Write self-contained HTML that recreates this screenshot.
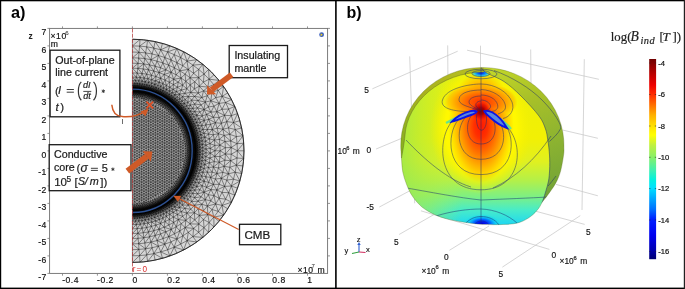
<!DOCTYPE html>
<html><head><meta charset="utf-8">
<style>
html,body{margin:0;padding:0;background:#fff;}
body{width:685px;height:289px;overflow:hidden;position:relative;}
svg{position:absolute;left:0;top:0;will-change:transform;}
text{font-family:"Liberation Sans",sans-serif;}
.ser{font-family:"Liberation Serif",serif;}
.ax{font-size:8.6px;fill:#111;stroke:#111;stroke-width:0.18px;letter-spacing:0.5px;}
.bx{font-size:10.7px;fill:#1a1a1a;stroke:#1a1a1a;stroke-width:0.22px;}
.m{font-family:"Liberation Serif",serif;font-style:italic;fill:#222;stroke:#222;stroke-width:0.2px;}
.mr{font-family:"Liberation Serif",serif;fill:#222;stroke:#222;stroke-width:0.2px;}
</style></head><body>
<svg width="685" height="289" viewBox="0 0 685 289">
<defs>
<radialGradient id="meshbg" gradientUnits="userSpaceOnUse" cx="132.4" cy="150.85" r="111.6">
 <stop offset="0" stop-color="#c4c4c4"/>
 <stop offset="0.47" stop-color="#b8b8b8"/>
 <stop offset="0.50" stop-color="#707070"/>
 <stop offset="0.525" stop-color="#202020"/>
 <stop offset="0.535" stop-color="#080808"/>
 <stop offset="0.565" stop-color="#080808"/>
 <stop offset="0.585" stop-color="#404040"/>
 <stop offset="0.62" stop-color="#a0a0a0"/>
 <stop offset="0.68" stop-color="#cccccc"/>
 <stop offset="1" stop-color="#d8d8d8"/>
</radialGradient>
</defs>
<!-- panel a -->
<text x="11" y="17.5" font-size="16.3" font-weight="bold">a)</text>
<!-- axes frame -->
<rect x="49.6" y="28.4" width="278" height="245" fill="none" stroke="#6e6e6e" stroke-width="0.9"/>
<!-- ticks left -->
<g stroke="#7a7a7a" stroke-width="0.8">
<path d="M47.4 28.4h2.2M47.4 45.9h2.2M47.4 63.4h2.2M47.4 80.9h2.2M47.4 98.4h2.2M47.4 115.9h2.2M47.4 133.4h2.2M47.4 150.9h2.2M47.4 168.4h2.2M47.4 185.9h2.2M47.4 203.4h2.2M47.4 220.9h2.2M47.4 238.4h2.2M47.4 255.9h2.2M47.4 273.4h2.2"/>
<path d="M327.6 28.4h2.4M327.6 45.9h2.4M327.6 63.4h2.4M327.6 80.9h2.4M327.6 98.4h2.4M327.6 115.9h2.4M327.6 133.4h2.4M327.6 150.9h2.4M327.6 168.4h2.4M327.6 185.9h2.4M327.6 203.4h2.4M327.6 220.9h2.4M327.6 238.4h2.4M327.6 255.9h2.4"/>
<path d="M62.5 273.4v2.3M97.4 273.4v2.3M132.4 273.4v2.3M167.4 273.4v2.3M202.4 273.4v2.3M237.4 273.4v2.3M272.5 273.4v2.3M307.5 273.4v2.3"/>
<path d="M62.5 28.4v-2M97.4 28.4v-2M132.4 28.4v-2M167.4 28.4v-2M202.4 28.4v-2M237.4 28.4v-2M272.5 28.4v-2M307.5 28.4v-2"/>
</g>
<text x="28.5" y="38.8" font-size="8.5" font-weight="bold" fill="#222">z</text>
<g class="ax" text-anchor="end" transform="translate(0.6 0)">
<text x="46.3" y="35">7</text>
<text x="46.3" y="52.5">6</text>
<text x="46.3" y="70">5</text>
<text x="46.3" y="87.5">4</text>
<text x="46.3" y="105">3</text>
<text x="46.3" y="122.5">2</text>
<text x="46.3" y="140">1</text>
<text x="46.3" y="157.5">0</text>
<text x="46.3" y="175">-1</text>
<text x="46.3" y="192.5">-2</text>
<text x="46.3" y="210">-3</text>
<text x="46.3" y="227.5">-4</text>
<text x="46.3" y="245">-5</text>
<text x="46.3" y="262.5">-6</text>
<text x="46.3" y="280">-7</text>
</g>
<g class="ax">
<text x="62.2" y="283.2">-0.4</text>
<text x="97.1" y="283.2">-0.2</text>
<text x="132.4" y="283.2">0</text>
<text x="167.2" y="283.2">0.2</text>
<text x="202.2" y="283.2">0.4</text>
<text x="237.2" y="283.2">0.6</text>
<text x="272.3" y="283.2">0.8</text>
<text x="307.3" y="283.2">1</text>
</g>
<text x="50.6" y="38.9" class="ax" font-size="8.9" letter-spacing="0">×10</text><text x="65.2" y="34.6" font-size="6.2" fill="#222">6</text>
<text x="50.8" y="46.6" class="ax" letter-spacing="0">m</text>
<text x="297.4" y="272.6" class="ax" letter-spacing="0">×10</text><text x="311.6" y="268" font-size="6" fill="#222">7</text><text x="317.6" y="272.6" class="ax" letter-spacing="0">m</text>
<!-- comsol icon -->
<circle cx="321.6" cy="34.7" r="2.4" fill="#3a5fc0"/>
<path d="M320.6 33.2l2.3 1.5-2.3 1.5z" fill="#f0d020"/>

<!-- mesh -->
<path d="M132.4 39.25 A111.6 111.6 0 0 1 132.4 262.45 Z" fill="url(#meshbg)"/>
<path d="M161.8 206.1L160.8 206.7M209.1 79.2L207.9 87.1M147.6 96.4L146.2 97.5M157.7 108.0L159.1 104.7M151.4 75.3L151.8 79.7M145.3 212.1L144.1 212.3M177.7 106.0L176.9 106.8M233.5 179.2L226.8 180.1M134.7 105.3L134.7 108.0M194.8 219.9L190.1 223.9M145.5 207.2L144.0 207.5M173.8 119.7L174.7 118.4M134.7 160.0L137.0 158.7M195.1 175.8L193.0 175.4M197.8 150.8L196.2 151.5M153.1 131.4L155.4 132.7M133.5 91.0L133.7 91.9M137.0 171.7L137.0 174.2M155.4 153.5L157.7 154.8M188.7 156.0L188.6 157.7M164.9 201.1L163.5 200.9M139.3 123.6L141.6 122.2M194.8 170.4L193.1 170.3M175.2 203.1L172.5 202.4M194.3 166.4L193.3 165.4M157.7 160.0L157.7 162.6M188.5 132.9L188.9 134.1M164.0 74.5L168.9 76.7M137.1 88.4L138.3 88.5M141.6 140.5L141.6 143.1M164.1 105.8L165.7 107.0M141.6 195.1L143.9 193.8M172.5 99.3L174.0 100.4M162.3 162.6L162.3 165.2M214.3 140.1L209.4 138.9M163.1 198.4L160.8 198.0M179.1 180.1L178.6 177.5M164.6 176.9L166.9 178.2M157.2 100.0L157.3 101.7M136.0 216.1L136.5 214.5M138.9 80.8L139.7 83.8M172.5 99.3L171.6 100.6M146.2 109.2L146.2 111.8M146.9 94.8L145.9 95.9M144.3 206.2L142.3 205.0M219.0 221.3L213.8 217.1M138.4 205.6L136.4 205.8M178.4 143.1L180.7 141.8M166.0 96.7L167.2 97.4M173.6 112.1L173.1 113.7M174.3 190.7L173.6 189.6M146.2 163.9L148.5 165.2M143.9 100.2L141.7 98.3M174.3 192.3L174.3 190.7M148.5 178.2L150.8 179.5M163.0 101.8L161.7 102.4M186.1 113.6L184.7 114.4M132.4 163.9L134.7 165.2M196.7 130.5L195.3 133.1M150.8 127.5L153.1 128.8M171.5 183.4L174.7 183.3M176.9 112.2L175.3 112.1M207.4 129.5L204.1 133.3M189.0 118.2L188.3 120.1M157.0 198.2L154.9 199.2M153.1 147.0L155.4 148.2M181.4 110.0L182.3 111.1M173.8 130.1L173.8 132.7M132.4 91.9L133.7 91.9M179.8 202.8L178.8 199.8M195.4 182.2L193.8 185.1M190.7 176.7L190.2 177.9M162.9 211.0L163.5 208.3M188.3 69.4L190.1 77.8M172.1 208.9L169.3 207.4M162.9 63.0L160.6 67.8M190.4 140.2L190.6 141.4M137.0 132.7L139.3 134.0M141.6 156.1L141.6 158.7M139.3 199.0L141.6 200.3M173.1 113.7L174.4 115.2M180.7 147.0L180.7 149.6M139.6 85.9L141.4 86.1M213.4 184.4L208.7 182.5M162.3 160.0L164.6 161.2M151.0 206.8L149.8 207.2M143.9 201.6L146.2 202.4M136.0 85.6L135.1 87.1M207.4 172.2L205.9 176.8M168.1 205.6L167.2 204.3M141.4 86.1L141.9 87.8M194.5 143.2L194.7 144.4M146.2 124.9L146.2 127.5M157.6 209.4L157.6 208.2M143.9 167.8L146.2 169.1M178.4 158.7L180.7 157.4M146.2 179.5L148.5 180.8M194.2 160.8L194.0 162.0M151.2 89.9L151.0 91.1M180.8 180.1L179.1 180.1M148.5 126.2L150.8 127.5M202.8 64.3L204.1 74.1M199.6 144.8L197.4 143.7M192.2 113.8L189.6 115.0M181.5 118.2L180.7 119.0M188.0 134.9L188.4 136.4M192.1 155.7L191.2 155.3M158.6 207.7L157.6 208.2M133.5 210.7L133.7 209.8M188.1 131.7L187.1 132.1M196.7 171.2L195.3 168.6M144.0 207.5L142.6 207.8M197.7 147.2L196.0 146.1M202.7 147.6L199.8 147.2M189.7 168.3L188.9 167.6M194.2 178.1L192.3 177.1M202.4 157.3L199.3 159.4M166.7 101.8L165.6 102.1M212.0 209.5L207.3 206.0M180.5 109.0L179.3 109.4M153.1 175.6L153.1 178.2M179.8 230.9L174.4 233.9M195.1 125.9L196.0 128.2M169.2 114.5L171.7 114.8M188.0 161.0L187.7 162.7M160.0 145.7L162.3 147.0M162.3 175.6L164.6 176.9M169.3 207.4L168.1 205.6M193.1 170.3L192.4 168.8M157.7 167.8L157.7 170.4M191.8 174.2L190.4 174.4M151.6 86.2L150.2 88.0M177.4 87.2L181.3 90.1M173.8 124.9L176.1 123.6M143.9 183.4L146.2 184.7M187.0 61.1L192.9 65.1M169.2 130.1L171.5 131.4M188.1 185.1L187.1 186.6M219.0 80.4L209.1 79.2M180.5 103.6L179.2 105.3M186.0 163.7L184.5 162.4M142.1 81.2L142.1 84.1M176.1 141.8L178.4 140.5M132.4 111.8L134.7 110.6M143.3 213.7L142.9 212.6M152.1 210.3L151.0 210.6M182.3 180.2L180.8 180.1M236.4 136.6L230.7 141.0M166.9 178.2L166.9 180.8M181.5 183.5L180.7 182.7M151.1 96.1L150.9 97.4M161.2 203.3L161.3 202.2M168.7 104.4L167.8 105.1M169.5 98.9L170.6 99.7M134.7 128.8L134.7 131.4M133.7 91.9L134.9 92.0M153.1 154.8L155.4 156.1M137.0 195.1L137.0 197.7M192.3 128.8L191.2 129.5M155.4 176.9L157.7 178.2M185.3 170.9L184.7 172.5M173.8 137.9L173.8 140.5M192.8 108.4L188.5 108.5M157.7 134.0L160.0 135.2M132.4 68.2L137.8 68.4M160.0 161.2L162.3 162.6M207.3 95.7L205.3 102.1M141.6 124.9L141.6 127.5M163.7 213.8L162.9 211.0M190.9 143.9L191.1 145.2M141.6 179.5L143.9 178.2M147.6 90.1L148.7 90.4M141.6 163.9L141.6 166.5M132.4 83.4L132.4 85.5M208.6 232.4L202.8 237.4M176.8 118.3L178.0 119.9M143.9 115.8L146.2 114.5M182.0 174.9L179.7 175.5M183.0 153.5L185.5 155.5M166.9 147.0L169.2 145.7M162.3 186.0L162.3 188.6M171.5 152.2L173.8 150.9M205.9 156.7L205.5 160.6M167.3 193.5L164.9 193.2M194.9 146.7L194.9 147.9M176.9 189.5L175.3 189.6M162.5 258.3L160.7 251.9M174.3 109.4L174.3 111.0M175.8 104.1L176.8 105.0M165.6 199.6L164.2 199.2M155.1 91.2L154.3 92.2M150.8 104.0L150.8 106.7M132.4 187.3L134.7 188.6M207.9 87.1L199.3 86.2M143.1 209.8L142.4 208.9M150.8 150.9L153.1 152.2M137.0 204.0L134.7 204.1M196.7 122.4L193.1 121.4M207.4 172.2L204.1 168.4M183.4 121.4L183.0 122.8M134.7 131.4L137.0 130.1M153.1 170.4L155.4 171.7M201.5 163.8L200.9 167.0M167.6 102.4L166.6 102.9M191.7 158.9L190.8 159.0M153.1 144.4L153.1 147.0M177.4 214.5L173.2 212.3M191.3 151.5L191.3 152.7M134.7 201.6L137.0 204.0M153.1 183.4L153.1 186.0M195.7 143.4L194.7 144.4M154.3 92.2L155.4 92.6M141.6 119.7L143.9 121.0M155.3 89.6L157.0 90.3M181.1 223.7L178.3 219.6M194.9 190.0L190.4 190.6M162.3 134.0L162.3 136.6M162.3 183.4L164.6 184.7M139.9 209.3L138.7 209.5M180.7 157.4L183.0 158.7M166.9 183.4L169.2 184.7M194.9 153.8L194.9 155.0M148.5 231.9L151.4 226.4M146.2 148.2L146.2 150.9M173.8 132.7L176.1 131.4M187.3 145.9L185.5 146.2M212.0 92.2L215.7 97.7M143.9 191.2L146.2 192.5M185.1 189.6L184.0 191.0M148.5 149.6L150.8 150.9M150.8 166.5L153.1 167.8M186.8 173.6L185.6 173.7M148.7 211.3L147.6 211.6M237.1 158.0L230.7 160.7M132.4 94.3L134.1 94.3M151.4 226.4L151.8 222.0M207.3 206.0L203.5 210.9M164.8 244.2L162.9 238.7M137.0 163.9L137.0 166.5M139.3 115.8L141.6 114.5M139.3 100.2L139.3 102.8M157.7 152.2L157.7 154.8M183.3 175.6L182.5 177.1M165.1 94.2L166.6 95.2M139.3 154.8L141.6 153.5M160.0 169.1L162.3 170.4M198.3 93.1L190.8 92.4M164.6 163.9L166.9 165.2M183.0 148.2L185.5 146.2M204.2 120.5L205.9 124.9M143.9 199.0L143.9 201.6M166.9 115.8L169.2 114.5M148.1 203.6L146.2 204.2M169.2 153.5L171.5 154.8M210.6 124.3L205.9 124.9M167.3 195.4L165.7 194.7M176.8 196.7L175.2 196.5M146.2 150.9L148.5 152.2M178.0 197.7L176.7 198.9M132.4 207.4L132.4 205.9M186.1 172.3L185.3 170.9M176.1 165.2L178.4 163.9M166.9 162.6L166.9 165.2M180.8 121.6L179.1 121.6M149.2 204.9L148.1 203.6M204.1 168.4L203.0 172.1M177.2 187.4L176.9 185.7M148.5 170.4L148.5 173.0M158.5 55.5L162.9 63.0M171.5 183.4L171.7 186.9M178.7 107.0L179.6 108.0M159.3 97.4L159.1 98.3M144.9 93.2L146.1 93.5M192.3 149.2L191.3 150.2M137.0 119.7L139.3 121.0M173.8 122.2L173.8 124.9M219.1 103.4L210.8 100.8M183.9 188.5L183.1 189.5M195.4 140.7L194.0 139.7M190.7 180.4L189.0 180.4M162.9 211.0L160.3 210.0M137.0 158.7L139.3 160.0M157.7 157.4L160.0 158.7M160.0 184.7L162.3 186.0M225.4 147.7L220.1 150.8M215.4 122.7L208.7 119.2M141.6 148.2L141.6 150.9M137.3 218.2L136.0 216.1M191.2 155.3L191.1 156.5M198.7 183.1L196.7 179.3M157.6 93.5L158.6 94.0M166.9 131.4L169.2 130.1M141.6 187.3L141.6 189.9M214.9 156.3L210.3 153.2M170.6 202.0L169.8 201.1M147.6 261.4L140.0 262.2M147.6 40.3L139.6 46.1M143.9 201.6L141.7 203.4M165.9 231.8L164.0 227.2M185.3 130.8L184.3 132.3M185.6 128.0L186.1 129.4M171.5 175.6L173.8 174.2M194.9 190.0L192.8 193.3M177.2 114.3L175.9 114.6M182.8 128.6L181.7 130.4M185.8 125.8L184.3 125.4M148.5 186.0L148.5 188.6M190.2 149.4L190.2 150.8M186.1 129.4L184.7 129.2M149.4 208.3L149.8 207.2M191.5 123.0L190.2 123.8M150.6 201.0L148.4 201.7M222.0 109.3L224.6 115.3M142.0 73.5L144.1 78.0M190.4 140.2L189.1 139.2M159.1 203.4L159.2 202.1M134.7 100.2L134.7 102.8M136.7 210.6L137.4 209.6M150.8 174.2L153.1 175.6M134.7 154.8L137.0 153.5M196.7 171.2L194.2 172.1M190.4 190.6L188.5 193.2M197.7 147.2L196.2 148.8M155.4 148.2L157.7 149.6M153.1 167.8L153.1 170.4M157.7 173.0L160.0 174.2M199.9 149.6L199.9 152.1M219.2 184.3L213.4 184.4M137.2 228.6L140.2 224.2M160.0 117.1L162.3 115.8M141.6 104.0L143.9 105.3M163.9 96.7L164.9 97.3M160.8 103.7L162.5 104.7M193.1 170.3L191.6 171.1M155.1 66.2L159.0 72.6M180.7 141.8L183.0 143.1M169.6 97.1L171.1 98.2M146.7 87.1L145.9 88.5M132.4 238.5L132.4 233.5M169.8 214.4L169.4 210.6M162.3 157.4L162.3 160.0M149.9 212.2L148.7 211.3M143.9 175.6L146.2 176.9M193.5 164.3L193.3 165.4M139.6 215.8L139.2 214.3M132.4 80.5L134.8 83.4M169.6 97.1L169.5 98.9M173.8 156.1L176.1 154.8M147.6 205.3L146.2 204.2M231.2 147.5L231.2 154.2M171.2 109.7L170.3 110.9M134.7 115.8L134.7 118.4M148.5 173.0L150.8 174.2M160.5 100.3L158.7 100.8M132.4 158.7L134.7 160.0M139.7 208.2L138.3 208.4M166.9 170.4L166.9 173.0M134.7 170.4L137.0 169.1M204.2 120.5L201.8 125.8M176.4 191.4L176.0 190.5M183.1 112.2L181.5 112.1M184.6 121.5L183.4 121.4M185.5 115.5L185.0 116.9M162.9 238.7L157.0 240.6M150.9 59.7L149.5 64.9M137.0 187.3L137.0 189.9M195.8 166.9L194.3 166.4M182.7 85.3L186.9 88.7M186.9 166.0L186.4 167.7M185.3 99.4L182.1 101.1M139.3 139.2L141.6 137.9M188.1 185.1L186.9 183.9M156.2 214.0L155.3 212.1M185.8 81.3L186.9 88.7M153.3 205.9L152.2 206.4M174.4 186.5L173.3 185.1M164.6 187.3L166.9 188.6M209.4 162.8L208.5 167.5M143.9 108.0L146.2 106.7M185.4 109.0L182.9 109.3M151.6 83.2L149.3 85.5M146.2 119.7L146.2 122.2M155.5 200.8L154.9 199.2M132.4 97.5L134.7 97.6M178.4 153.5L180.7 152.2M169.2 176.9L171.5 178.2M212.2 172.2L208.5 167.5M146.2 174.2L148.5 175.6M165.1 207.5L163.5 208.3M167.8 105.1L167.3 106.3M199.0 139.9L196.9 140.1M166.9 186.0L166.9 188.6M188.5 108.5L186.9 111.0M179.3 186.6L178.1 186.3M158.0 204.0L157.9 202.8M179.9 117.8L179.0 118.7M135.6 210.6L136.2 209.7M187.3 129.3L186.1 129.4M137.4 92.1L138.7 92.2M168.7 197.3L167.8 196.6M148.5 193.8L148.5 196.4M190.3 166.3L189.6 165.2M143.9 202.9L141.7 203.4M137.0 143.1L139.3 144.4M173.8 145.7L173.8 148.2M155.4 156.1L157.7 157.4M180.7 157.4L180.7 160.0M191.3 147.7L191.3 149.0M157.7 180.8L160.0 182.1M157.7 193.8L161.1 195.8M134.7 201.6L132.4 204.2M199.6 156.9L199.3 159.4M210.8 200.9L205.3 199.6M151.0 91.1L152.1 91.4M162.3 170.4L164.6 171.7M217.1 173.5L213.4 167.0M141.6 111.8L143.9 113.2M146.9 84.9L146.7 87.1M161.9 209.2L162.5 207.1M169.2 187.3L170.1 188.6M164.6 119.7L166.9 118.4M166.9 98.6L167.8 99.3M166.9 154.8L169.2 153.5M143.9 178.2L146.2 179.5M146.2 99.3L148.4 100.0M174.2 54.6L180.7 57.6M169.2 124.9L171.5 126.2M180.7 149.6L183.0 150.9M146.2 106.7L148.5 105.3M189.3 140.6L189.6 142.1M145.9 213.2L145.3 212.1M132.4 106.7L134.7 105.3M169.8 214.4L166.4 216.3M189.6 136.5L188.8 137.8M233.5 122.5L228.5 127.9M158.7 100.8L159.1 102.7M150.8 111.8L150.8 114.5M188.3 172.4L187.3 172.4M229.8 167.3L228.5 173.8M181.3 90.1L176.4 91.6M191.3 151.5L190.2 152.3M137.1 213.3L135.9 213.3M183.9 113.2L182.3 113.0M209.1 222.5L203.4 219.5M134.7 123.6L134.7 126.2M182.4 183.8L181.5 183.5M135.3 208.6L133.9 208.7M134.7 178.2L137.0 176.9M198.0 176.3L196.0 173.5M182.2 196.4L181.7 193.8M155.4 171.7L157.7 173.0M153.1 191.2L153.1 193.8M186.4 167.7L185.9 169.3M157.7 178.2L157.7 180.8M194.5 96.4L198.0 100.5M160.3 91.7L161.9 92.5M164.6 135.2L166.9 134.0M198.7 118.6L196.7 122.4M174.4 115.2L175.6 116.7M234.8 106.4L225.6 102.5M181.7 107.9L182.9 109.3M173.7 79.3L169.3 82.2M157.2 201.7L157.3 200.0M162.3 180.8L162.3 183.4M137.8 214.4L138.3 213.2M170.3 190.8L168.4 190.2M190.4 174.4L189.9 175.5M137.5 207.2L138.4 205.6M148.5 157.4L150.8 158.7M180.7 165.2L183.9 164.7M193.1 121.4L190.7 121.3M215.7 204.0L212.0 209.5M176.9 253.2L174.2 247.1M139.4 98.0L141.7 98.3M185.2 177.0L183.7 177.6M146.2 182.1L148.5 183.4M134.7 139.2L134.7 141.8M148.5 196.4L150.8 197.7M171.2 107.9L171.2 109.7M132.4 182.1L134.7 183.4M199.8 147.2L197.5 145.5M169.2 117.1L169.2 119.7M182.1 119.2L181.5 120.3M209.4 162.8L205.5 160.6M134.7 193.8L137.0 192.5M153.1 165.2L155.4 166.5M192.0 156.8L191.1 156.5M145.6 248.8L144.8 243.1M173.8 148.2L173.8 150.9M141.2 92.6L142.4 92.8M157.7 128.8L160.0 127.5M186.2 185.1L185.5 186.2M219.1 103.4L216.8 111.7M139.3 108.0L139.3 110.6M191.3 149.0L191.3 150.2M162.3 118.4L164.6 117.1M178.4 169.1L178.4 171.7M137.0 150.9L139.3 152.2M195.4 140.7L194.4 142.0M139.3 162.6L141.6 161.2M181.1 125.0L182.0 126.8M180.7 165.2L180.7 167.8M215.4 122.7L212.2 129.5M208.5 134.2L209.4 138.9M190.2 216.8L186.9 213.0M162.3 178.2L164.6 179.5M142.4 208.9L141.2 209.1M173.7 199.4L172.5 198.9M191.6 201.6L188.3 205.1M153.9 86.9L151.9 88.5M195.0 151.4L195.0 152.6M136.4 95.9L137.0 97.7M162.3 191.2L163.0 194.5M147.6 40.3L153.8 48.1M146.2 143.1L146.2 145.7M173.8 127.5L176.1 126.2M176.1 173.0L178.4 171.7M163.0 199.9L163.1 198.4M132.4 262.4L132.4 255.8M152.8 101.6L154.9 102.5M187.7 162.7L186.4 161.7M146.2 197.7L148.5 199.0M150.2 213.7L148.4 214.2M223.6 86.5L213.8 84.6M160.1 93.4L158.6 94.0M146.9 206.9L147.6 205.3M132.4 197.7L134.7 199.0M169.2 132.7L169.2 135.2M190.0 145.0L190.1 146.5M132.4 114.5L134.7 113.2M151.0 210.6L149.8 211.0M162.2 98.9L162.4 100.1M150.8 119.7L150.8 122.2M179.9 114.4L179.3 115.1M187.0 175.4L185.8 175.9M181.4 191.7L180.5 192.7M172.6 106.5L172.5 107.6M153.1 193.8L153.1 196.4M137.0 166.5L139.3 167.8M196.2 148.8L195.0 149.1M199.3 142.3L199.6 144.8M224.1 166.3L218.4 168.0M157.7 147.0L157.7 149.6M160.0 163.9L162.3 165.2M134.9 209.7L133.7 209.8M157.7 186.0L157.7 188.6M132.4 45.9L139.6 46.1M141.6 135.2L143.9 136.6M187.6 182.7L186.8 181.8M222.1 96.3L225.6 102.5M169.2 148.2L171.5 149.6M180.5 195.1L179.2 196.4M241.7 128.1L233.5 122.5M181.1 176.7L178.6 177.5M146.2 130.1L148.5 128.8M179.0 118.7L176.8 118.3M190.2 153.8L190.1 155.2M152.5 203.7L151.9 202.4M132.4 130.1L134.7 128.8M133.8 214.6L134.8 213.4M136.3 224.5L132.4 224.6M156.0 76.6L155.6 80.8M142.4 92.8L141.2 93.7M144.1 212.3L142.9 212.6M231.3 186.0L224.6 186.4M150.8 135.2L150.8 137.9M156.8 97.2L155.2 97.7M197.7 152.7L196.2 152.9M176.8 105.0L177.7 106.0M190.8 184.6L188.1 185.1M134.7 147.0L134.7 149.6M142.6 95.2L144.3 95.5M134.7 201.6L137.0 200.3M205.9 176.8L203.0 172.1M153.1 173.0L155.4 174.2M132.4 57.8L132.4 63.2M179.9 181.6L179.0 183.0M168.9 76.7L173.7 79.3M160.0 179.5L162.3 180.8M211.0 112.1L204.0 109.5M141.6 143.1L141.6 145.7M162.3 126.2L164.6 124.9M141.6 197.7L143.9 196.4M164.6 158.7L166.9 157.4M166.9 126.2L169.2 124.9M141.6 182.1L141.6 184.7M162.3 165.2L162.3 167.8M169.2 163.9L171.5 165.2M172.7 200.3L171.6 199.6M183.6 130.5L184.3 132.3M178.0 181.8L177.4 179.5M143.9 134.0L146.2 132.7M142.3 205.0L143.9 202.9M171.5 123.6L173.8 124.9M133.8 87.1L134.8 88.3M184.0 127.6L182.8 128.6M164.6 122.2L164.6 124.9M160.8 198.0L161.1 195.8M198.7 183.1L196.9 186.6M173.3 191.8L172.4 190.9M188.9 147.4L187.4 147.9M142.3 96.7L143.9 98.8M185.0 126.7L183.3 126.1M189.9 119.7L189.0 121.3M146.7 46.8L145.6 52.9M159.2 202.1L158.7 200.9M182.3 111.1L183.1 112.2M161.3 202.2L161.7 200.7M134.7 162.6L134.7 165.2M134.7 102.8L137.0 104.0M167.2 97.4L166.9 98.6M150.8 169.1L153.1 170.4M193.8 185.1L192.2 187.9M153.1 188.6L155.4 189.9M153.1 162.6L153.1 165.2M152.2 95.3L153.3 95.8M146.7 227.5L148.0 223.0M178.4 174.2L180.7 173.4M178.7 194.7L177.7 195.7M160.0 111.8L162.3 110.6M139.3 131.4L139.3 134.0M190.6 160.3L190.4 161.5M180.7 149.6L180.7 152.2M196.2 152.9L195.0 152.6M181.7 193.8L180.5 192.7M142.1 217.6L141.4 215.6M141.6 137.9L143.9 139.2M183.0 158.7L183.0 161.2M217.1 173.5L210.6 177.4M166.6 206.5L166.0 205.0M143.2 86.4L143.3 88.0M143.8 237.8L143.2 232.8M155.4 106.7L157.0 103.5M161.9 209.2L160.1 208.3M176.4 210.1L174.8 207.0M146.2 127.5L146.2 130.1M165.7 107.0L163.0 107.2M132.4 93.0L133.9 93.0M178.4 161.2L180.7 160.0M194.0 162.0L193.8 163.1M181.1 125.0L178.6 124.2M208.6 69.3L209.1 79.2M146.2 166.5L146.2 169.1M173.8 150.9L176.1 149.6M151.1 205.6L149.2 204.9M187.0 61.1L182.8 65.8M229.8 134.4L230.7 141.0M148.5 113.2L150.8 111.8M170.1 113.1L171.7 114.8M191.1 145.2L190.0 145.0M154.5 205.5L153.9 204.6M169.2 156.1L171.5 157.4M150.8 184.7L153.1 186.0M175.7 109.5L174.3 109.4M190.6 160.3L189.6 159.6M189.3 169.4L188.5 168.8M182.1 200.6L179.8 202.8M177.8 189.8L177.7 188.6M146.1 93.5L145.5 94.5M198.0 166.5L195.8 166.9M140.6 212.9L139.5 213.0M153.1 121.0L155.4 119.7M222.1 205.4L215.7 204.0M183.5 119.7L182.1 119.2M184.1 181.1L183.4 180.3M183.9 113.2L183.7 114.9M144.3 95.5L145.9 95.9M174.4 233.9L168.7 236.5M178.4 132.7L181.7 130.4M197.4 158.0L195.9 157.0M186.9 190.7L185.1 189.6M137.0 182.1L137.0 184.7M196.5 163.4L194.9 163.7M137.0 189.9L139.3 191.2M182.2 196.4L179.2 196.4M139.3 134.0L141.6 132.7M198.6 164.2L198.0 166.5M157.7 170.4L157.7 173.0M189.9 182.0L188.3 181.6M191.3 175.4L189.9 175.5M176.9 185.7L175.9 187.1M160.7 89.6L160.3 91.7M160.0 187.3L162.3 188.6M160.0 122.2L160.0 124.9M164.6 182.1L166.9 183.4M234.8 106.4L231.3 115.7M146.2 114.5L148.5 113.2M134.4 205.9L132.4 205.9M169.2 171.7L171.5 173.0M214.3 161.6L210.0 158.0M168.1 205.6L166.6 206.5M234.8 195.3L231.3 186.0M176.1 136.6L178.4 137.9M181.5 181.4L179.9 181.6M178.0 104.0L175.8 104.1M166.9 180.8L166.9 183.4M185.9 132.4L184.9 134.2M137.8 87.3L138.3 88.5M189.6 115.0L188.1 116.6M188.0 166.8L187.6 168.2M181.7 107.9L180.5 109.0M150.8 117.1L153.1 115.8M178.1 115.4L176.9 116.0M170.1 194.7L168.6 194.3M133.6 213.4L132.4 213.4M192.9 236.6L188.3 232.3M148.5 188.6L150.8 189.9M138.6 243.7L132.4 243.9M192.3 124.6L190.7 125.0M199.8 147.2L197.7 149.0M184.7 114.4L185.5 115.5M188.5 193.2L186.9 190.7M153.3 95.8L154.5 96.2M173.8 140.5L173.8 143.1M160.8 215.2L160.7 212.1M146.9 216.8L148.4 214.2M151.6 218.5L149.3 216.2M157.7 175.6L160.0 176.9M204.0 109.5L206.5 114.3M203.0 129.6L200.0 131.6M219.3 162.3L214.9 156.3M141.6 166.5L141.6 169.1M189.9 164.0L189.6 165.2M178.0 119.9L179.1 121.6M143.9 118.4L146.2 117.1M183.0 156.1L185.3 157.8M166.9 149.6L169.2 148.2M143.9 102.8L143.9 105.3M204.0 192.2L202.2 185.6M162.5 207.1L162.8 205.5M150.0 98.7L148.4 100.0M180.7 144.4L183.0 145.7M187.3 137.3L185.5 136.1M157.0 211.4L156.3 210.0M188.8 137.8L189.1 139.2M148.5 115.8L150.8 114.5M170.3 110.9L168.4 111.5M176.4 210.1L173.2 212.3M178.4 169.1L180.7 167.8M183.0 122.8L182.5 124.6M188.6 157.7L187.3 155.8M146.2 189.9L148.5 191.2M164.6 200.2L163.0 199.9M193.3 165.4L193.0 166.6M150.8 106.7L150.8 109.2M132.4 189.9L134.7 191.2M189.1 139.2L188.0 140.7M142.0 209.9L141.2 209.1M134.7 204.1L132.4 204.2M184.1 122.5L183.7 124.1M199.0 161.8L197.1 159.8M200.9 134.7L198.0 135.2M189.0 121.3L189.6 122.6M191.3 149.0L190.2 149.4M151.0 206.8L149.7 206.0M183.5 182.0L182.8 181.4M134.9 92.0L135.3 93.1M173.8 156.1L173.8 158.7M134.7 126.2L137.0 127.5M150.8 192.5L153.1 193.8M155.4 111.8L157.7 110.6M177.8 111.9L176.9 112.2M174.8 207.0L172.1 208.9M200.0 170.1L197.4 168.9M226.8 121.6L222.9 129.3M155.4 166.5L157.7 167.8M153.1 186.0L153.1 188.6M157.7 191.2L160.0 192.5M194.8 219.9L190.2 216.8M169.5 202.8L168.3 203.6M160.0 135.2L162.3 134.0M141.6 122.2L143.9 123.6M183.0 143.1L183.0 145.7M164.6 130.1L166.9 128.8M192.8 193.3L188.5 193.2M138.7 209.5L137.4 209.6M164.6 111.8L164.9 108.5M189.6 179.1L188.5 178.7M180.7 160.0L183.0 161.2M179.2 105.3L180.5 106.6M169.2 119.7L171.5 118.4M164.0 74.5L160.6 78.2M167.2 93.0L165.1 94.2M146.2 117.1L148.5 115.8M173.8 135.2L176.1 134.0M145.5 94.5L146.9 94.8M143.9 193.8L146.2 195.1M209.1 79.2L213.8 84.6M191.2 172.2L190.8 173.3M186.9 111.0L184.0 110.7M140.9 206.8L142.3 205.0M154.7 84.2L151.6 86.2M173.8 174.2L176.1 173.0M222.0 192.4L219.1 198.3M132.4 122.2L134.7 121.0M163.5 208.3L161.9 209.2M134.7 134.0L134.7 136.6M148.5 191.2L150.8 192.5M134.1 94.3L135.8 94.4M181.8 117.0L181.5 118.2M134.7 188.6L137.0 187.3M157.8 216.4L154.7 217.5M155.4 109.2L155.4 111.8M187.9 128.3L187.3 129.3M138.7 92.2L139.9 92.4M190.2 123.8L189.0 124.1M138.1 63.4L143.8 63.9M157.7 123.6L160.0 122.2M190.1 77.8L185.8 81.3M139.3 102.8L139.3 105.3M155.4 187.3L157.7 188.6M182.5 177.1L181.7 178.6M139.3 157.4L141.6 156.1M190.8 184.6L189.6 186.7M204.1 133.3L200.9 134.7M134.7 100.2L134.7 97.6M185.5 186.2L185.0 184.8M183.0 150.9L185.7 148.5M142.1 220.5L142.1 217.6M183.0 158.7L184.9 160.1M141.6 174.2L141.6 176.9M175.8 197.6L174.3 197.3M197.4 193.9L194.6 197.8M143.9 126.2L146.2 124.9M132.4 95.8L132.4 97.5M146.2 137.9L148.5 136.6M181.7 123.1L180.1 123.3M166.9 157.4L169.2 156.1M164.6 114.5L164.6 117.1M148.4 100.0L150.6 100.7M155.5 100.9L154.9 102.5M153.6 212.7L151.9 213.2M188.3 142.3L186.8 141.9M169.2 127.5L169.2 130.1M166.4 216.3L162.9 218.0M132.4 255.8L132.4 249.7M189.9 137.7L189.1 139.2M146.1 93.5L147.4 93.8M155.4 114.5L157.7 113.2M171.2 72.2L176.2 74.9M163.7 95.3L163.9 96.7M153.1 180.8L155.4 182.1M191.6 201.6L187.9 199.4M139.3 118.4L139.3 121.0M137.0 161.2L139.3 162.6M173.8 163.9L173.8 166.5M139.3 173.0L141.6 171.7M178.4 174.2L178.6 177.5M183.0 145.7L183.0 148.2M191.1 156.5L190.9 157.8M214.9 156.3L214.3 161.6M179.8 230.9L176.2 226.8M158.6 94.0L159.7 94.5M162.3 188.6L164.6 189.9M141.6 189.9L141.6 192.5M169.5 202.8L168.8 201.8M141.6 130.1L143.9 131.4M143.9 141.8L146.2 140.5M136.4 205.8L137.0 204.0M173.4 103.6L174.3 104.4M166.9 173.0L169.2 171.7M148.5 199.0L150.6 201.0M213.8 84.6L218.2 90.3M141.2 208.0L140.9 206.8M146.2 158.7L146.2 161.2M190.2 150.8L190.2 152.3M186.6 130.8L185.3 130.8M146.1 208.2L146.9 206.9M146.7 74.2L148.0 78.7M136.5 214.5L137.1 213.3M144.1 223.7L140.2 224.2M190.6 141.4L189.3 140.6M140.9 94.9L140.3 96.3M235.2 172.2L228.5 173.8M150.8 130.1L150.8 132.7M170.6 99.7L169.8 100.6M150.8 176.9L153.1 178.2M191.1 156.5L190.1 155.2M212.0 209.5L207.9 214.6M193.5 132.7L193.9 134.0M134.7 141.8L134.7 144.4M173.8 179.5L173.8 182.1M139.2 94.7L140.9 94.9M134.7 196.4L137.0 195.1M140.2 77.5L142.1 81.2M160.0 119.7L162.3 118.4M155.4 189.9L157.7 191.2M155.4 117.1L155.4 119.7M159.0 72.6L164.0 74.5M141.6 145.7L143.9 147.0M140.0 39.5L147.6 40.3M171.1 98.2L172.5 99.3M164.6 153.5L166.9 152.2M132.4 68.2L132.4 72.9M153.6 89.0L153.8 90.8M189.0 118.2L189.9 119.7M201.1 104.9L194.6 103.9M171.1 98.2L170.6 99.7M171.5 118.4L173.8 119.7M173.8 158.7L176.1 157.4M164.6 117.1L164.6 119.7M186.8 181.8L186.2 182.8M148.5 175.6L150.8 176.9M138.4 96.1L139.4 98.0M161.3 99.5L160.5 100.3M161.7 200.7L161.7 199.3M182.8 235.9L177.0 239.0M132.4 145.7L134.7 144.4M189.3 132.3L188.1 131.7M175.7 192.2L175.2 191.4M150.8 109.2L153.1 108.0M134.7 157.4L134.7 160.0M173.4 108.5L172.3 108.9M186.2 116.6L185.6 117.9M149.2 96.8L150.9 97.4M169.2 135.2L169.2 137.9M192.0 144.9L190.9 143.9M137.0 109.2L139.3 108.0M153.1 183.4L155.4 184.7M157.0 61.1L155.1 66.2M155.4 132.7L155.4 135.2M149.8 94.5L151.0 94.9M180.5 192.7L179.6 193.7M139.3 126.2L139.3 128.8M162.3 136.6L164.6 135.2M153.9 214.8L153.6 212.7M180.7 144.4L180.7 147.0M196.2 150.2L195.0 150.3M173.6 189.6L172.4 190.9M184.0 191.0L182.3 190.6M146.9 216.8L144.9 215.0M139.3 180.8L141.6 179.5M219.9 145.1L214.3 140.1M160.0 130.1L160.0 132.7M186.0 138.0L186.4 140.0M219.3 162.3L213.4 167.0M208.5 167.5L207.4 172.2M169.6 204.6L168.3 203.6M139.6 85.9L140.6 87.6M153.7 201.6L152.8 200.1M166.0 205.0L165.9 203.7M165.0 221.6L160.6 223.5M204.0 192.2L197.4 193.9M146.2 161.2L146.2 163.9M153.9 204.6L152.5 203.7M174.2 54.6L171.0 59.9M148.5 108.0L150.8 106.7M166.7 110.0L168.4 111.5M156.8 204.5L156.6 203.4M184.0 174.1L182.0 174.9M180.7 119.0L179.9 120.1M150.8 124.9L153.1 123.6M137.8 216.0L136.0 216.1M190.2 149.4L188.9 149.1M136.8 208.5L135.8 207.3M187.7 130.5L186.6 130.8M134.7 113.2L137.0 114.5M169.2 150.9L169.2 153.5M142.4 208.9L142.6 207.8M188.0 134.9L186.9 135.7M199.8 154.5L197.7 154.5M198.0 125.4L196.0 128.2M195.8 134.8L194.3 135.3M143.7 93.0L142.6 93.9M199.0 161.8L196.5 163.4M156.8 97.2L158.0 97.7M150.8 137.9L150.8 140.5M139.3 141.8L139.3 144.4M166.9 188.6L168.4 190.2M189.6 186.7L187.1 186.6M137.0 184.7L139.3 186.0M195.7 158.3L194.7 157.3M176.1 126.2L176.1 128.8M157.7 183.4L160.0 184.7M199.3 159.4L199.0 161.8M207.3 206.0L201.9 204.2M151.8 79.7L151.6 83.2M160.0 127.5L162.3 126.2M188.9 167.6L188.5 168.8M192.3 172.9L190.8 173.3M167.8 99.3L168.8 99.9M132.4 63.2L132.4 68.2M143.9 110.6L143.9 113.2M138.3 93.3L139.7 93.5M180.7 57.6L187.0 61.1M141.6 153.5L143.9 154.8M164.6 161.2L166.9 160.0M151.9 213.2L152.5 211.4M146.2 109.2L148.5 108.0M158.7 91.0L157.6 92.3M181.7 178.6L181.1 176.7M148.5 123.6L150.8 122.2M144.1 223.7L142.1 220.5M237.1 143.7L237.4 150.8M144.6 213.5L144.1 212.3M239.9 181.0L235.2 172.2M176.1 131.4L178.4 132.7M192.4 168.8L192.0 170.0M134.9 209.7L133.9 208.7M173.8 166.5L176.1 165.2M135.1 87.1L135.9 88.4M186.9 111.0L186.1 113.6M188.8 163.9L188.4 165.3M154.7 84.2L156.2 87.7M179.2 105.3L178.7 107.0M132.4 148.2L134.7 147.0M184.9 93.3L179.5 94.1M151.0 94.9L151.1 96.1M191.3 152.7L190.2 153.8M135.9 213.3L134.8 213.4M204.1 227.6L198.7 224.1M185.6 123.4L184.7 123.6M181.8 184.7L180.7 184.6M150.8 153.5L150.8 156.1M215.7 204.0L214.0 195.6M164.6 101.5L164.2 102.5M190.3 135.4L189.3 135.3M192.2 187.9L189.6 186.7M134.7 165.2L134.7 167.8M135.6 91.1L134.9 92.0M188.3 120.1L187.4 120.9M154.0 98.6L155.6 99.3M137.0 117.1L139.3 115.8M157.7 115.8L160.0 114.5M173.2 89.4L169.4 91.1M174.4 67.8L171.2 72.2M155.4 140.5L155.4 143.1M172.4 190.9L171.2 192.0M198.0 100.5L201.1 104.9M200.4 122.2L198.0 125.4M141.6 169.1L143.9 170.4M162.3 144.4L164.6 143.1M143.9 113.2L146.2 111.8M180.5 195.1L179.6 193.7M182.9 109.3L184.0 110.7M139.7 217.9L139.6 215.8M183.0 150.9L185.7 153.2M162.3 183.4L162.3 186.0M139.3 100.2L139.4 98.0M169.2 182.1L171.5 183.4M187.0 143.9L187.3 145.9M168.8 192.2L166.7 191.7M171.5 141.8L173.8 143.1M143.3 88.0L142.9 89.1M194.2 123.6L191.5 123.0M164.6 140.5L164.6 143.1M172.1 92.8L169.3 94.3M167.3 108.2L164.9 108.5M148.1 203.6L146.2 202.4M158.7 210.7L157.0 211.4M194.5 205.3L188.3 205.1M195.4 119.5L192.0 119.2M192.9 65.1L188.3 69.4M199.6 156.9L197.5 156.2M187.6 119.0L188.3 120.1M153.3 205.9L152.5 205.1M134.7 180.8L134.7 183.4M142.0 91.8L142.4 92.8M134.7 121.0L137.0 122.2M163.1 103.3L164.5 104.3M203.5 90.8L198.3 93.1M199.9 189.8L194.9 190.0M160.2 98.9L161.3 99.5M195.6 142.0L194.5 143.2M171.6 201.1L170.6 202.0M139.3 149.6L139.3 152.2M188.5 168.8L188.1 170.0M132.4 221.2L134.8 218.3M141.6 101.4L143.9 100.2M141.2 209.1L139.9 209.3M188.3 205.1L184.9 208.4M162.9 90.7L161.9 92.5M146.2 145.7L146.2 148.2M175.6 116.7L174.7 118.4M166.9 165.2L169.2 163.9M142.6 93.9L144.0 94.2M143.9 188.6L146.2 189.9M154.9 102.5L157.0 103.5M187.3 164.4L186.0 163.7M168.9 225.0L165.0 221.6M186.0 138.0L184.5 139.3M145.5 207.2L145.9 205.8M237.6 113.5L233.5 122.5M146.2 184.7L146.2 187.3M222.1 96.3L215.7 97.7M148.5 131.4L150.8 130.1M179.7 126.2L180.7 128.3M132.4 117.1L134.7 115.8M155.6 220.9L151.8 222.0M150.8 122.2L150.8 124.9M155.4 122.2L157.7 121.0M188.5 168.8L187.1 169.6M186.6 176.3L185.2 177.0M163.7 213.8L160.8 215.2M231.2 147.5L225.4 154.0M154.5 96.2L155.2 97.7M153.1 139.2L155.4 137.9M166.6 102.9L167.7 103.6M187.0 240.6L182.8 235.9M137.0 169.1L139.3 170.4M179.9 187.3L178.5 187.6M187.0 126.3L186.3 127.0M164.9 205.7L163.7 206.4M186.5 195.8L185.4 192.7M139.3 105.3L141.6 106.7M193.1 180.3L192.0 182.5M162.9 238.7L160.6 233.9M157.7 188.6L157.7 191.2M186.9 183.9L186.2 182.8M164.6 145.7L166.9 144.4M176.0 106.0L176.9 106.8M225.6 102.5L228.7 109.0M243.0 135.7L235.2 129.5M186.1 113.6L187.1 115.1M243.7 158.5L236.4 165.1M190.8 92.4L184.9 93.3M146.2 132.7L148.5 131.4M190.1 155.2L190.0 156.7M132.4 132.7L134.7 131.4M132.4 214.6L133.6 213.4M188.0 166.8L186.9 166.0M157.0 211.4L155.3 212.1M202.8 237.4L204.1 227.6M176.1 154.8L178.4 156.1M187.3 172.4L186.6 170.9M184.3 176.3L183.7 177.6M147.3 88.8L146.4 89.8M158.0 97.7L156.6 98.3M198.7 224.1L193.6 228.4M198.6 137.5L196.2 136.6M146.7 254.9L145.6 248.8M134.7 149.6L134.7 152.2M160.6 67.8L165.9 69.9M137.0 101.4L139.3 100.2M189.6 122.6L190.2 123.8M197.4 193.9L192.8 193.3M193.1 131.4L191.6 130.6M185.4 192.7L183.8 194.5M157.7 139.2L160.0 137.9M214.0 106.1L208.3 107.0M191.3 154.0L191.2 155.3M162.3 128.8L164.6 127.5M214.9 145.4L215.0 150.8M205.9 156.7L202.7 154.1M205.3 199.6L204.0 192.2M141.6 184.7L141.6 187.3M184.3 132.3L184.9 134.2M162.3 167.8L164.6 166.5M219.9 145.1L215.0 150.8M143.9 136.6L146.2 135.2M191.5 123.0L192.3 124.6M140.3 205.4L141.7 203.4M146.2 148.2L148.5 147.0M171.5 126.2L173.8 127.5M166.9 167.8L169.2 166.5M164.6 124.9L164.6 127.5M162.5 104.7L163.0 107.2M186.4 161.7L186.0 163.7M177.4 214.5L173.4 217.1M188.9 149.1L187.5 149.9M171.5 165.2L173.8 166.5M146.2 153.5L146.2 156.1M179.1 121.6L178.6 124.2M185.6 128.0L184.0 127.6M151.8 222.0L148.0 223.0M137.5 94.5L136.4 95.9M185.9 169.3L184.3 169.4M153.4 206.9L153.3 205.9M190.0 145.0L188.6 144.0M134.7 105.3L137.0 106.7M168.3 98.1L167.8 99.3M166.9 113.2L166.7 110.0M169.2 143.1L169.2 145.7M231.3 115.7L224.6 115.3M192.7 130.1L193.1 131.4M173.8 174.2L173.8 176.9M134.7 144.4L137.0 145.7M155.4 130.1L157.7 128.8M154.7 217.5L151.6 218.5M225.0 141.5L219.3 139.4M160.0 114.5L162.3 113.2M210.6 177.4L208.7 182.5M196.1 154.3L194.9 153.8M161.3 207.7L160.1 208.3M160.0 153.5L162.3 152.2M141.6 140.5L143.9 141.8M173.2 212.3L172.1 208.9M133.9 93.0L135.3 93.1M160.0 109.2L160.0 111.8M176.1 123.6L176.1 120.3M151.4 226.4L146.7 227.5M184.7 187.3L184.3 185.8M194.5 96.4L188.3 96.6M182.0 126.8L179.7 126.2M146.2 169.1L146.2 171.7M173.8 153.5L176.1 152.2M155.2 97.7L156.6 98.3M233.5 122.5L235.2 129.5M187.9 179.7L187.4 180.8M138.3 93.3L137.5 94.5M190.2 153.8L188.9 154.3M239.9 181.0L231.3 186.0M159.1 98.3L157.9 98.9M190.4 161.5L189.3 161.1M193.6 228.4L188.3 232.3M138.7 209.5L138.3 208.4M132.4 140.5L134.7 139.2M155.2 97.7L154.0 98.6M177.1 190.7L176.9 189.5M147.4 93.8L146.9 94.8M153.1 123.6L155.4 122.2M171.6 106.8L170.1 107.0M185.8 175.9L185.0 175.0M150.8 145.7L150.8 148.2M145.9 95.9L147.6 96.4M137.0 104.0L139.3 102.8M167.6 199.3L167.7 198.1M135.6 221.1L132.4 221.2M215.7 204.0L207.3 206.0M155.4 127.5L155.4 130.1M196.2 165.1L194.6 165.0M180.5 198.1L178.0 197.7M176.2 74.9L181.1 78.0M153.8 210.9L152.5 211.4M157.7 141.8L160.0 140.5M139.3 121.0L139.3 123.6M169.8 45.7L176.9 48.5M175.9 187.1L174.7 188.4M139.3 175.6L141.6 174.2M180.5 198.1L178.8 199.8M149.5 64.9L148.5 69.8M160.0 124.9L160.0 127.5M164.6 169.1L166.9 167.8M141.6 192.5L141.6 195.1M236.4 165.1L235.2 172.2M169.2 174.2L171.5 175.6M168.3 203.6L167.8 202.4M231.5 202.2L228.7 192.7M176.1 139.2L178.4 140.5M143.9 144.4L146.2 143.1M132.4 101.4L132.4 104.0M134.4 205.9L134.7 204.1M146.2 156.1L148.5 154.8M171.5 134.0L173.8 135.2M139.2 87.4L139.5 88.7M186.4 134.0L185.5 136.1M164.6 132.7L164.6 135.2M182.9 109.3L181.4 110.0M132.4 156.1L134.7 154.8M194.2 123.6L193.0 126.3M150.8 119.7L153.1 118.4M141.4 215.6L139.6 215.8M202.2 116.1L198.7 118.6M182.1 182.5L180.7 182.7M188.9 154.3L187.3 155.8M169.2 145.7L169.2 148.2M162.2 202.8L161.3 202.2M149.4 93.4L148.6 94.2M194.8 131.3L193.5 132.7M153.1 196.4L154.9 199.2M171.0 59.9L168.7 65.2M134.7 173.0L134.7 175.6M154.5 96.2L155.7 96.7M201.9 97.5L205.3 102.1M171.6 100.6L170.7 101.3M161.2 98.4L160.2 98.9M137.0 124.9L139.3 123.6M165.0 221.6L166.4 216.3M139.3 136.6L139.3 139.2M168.6 194.3L167.3 195.4M139.3 191.2L141.6 189.9M160.0 140.5L160.0 143.1M189.6 165.2L189.3 166.4M162.3 152.2L164.6 150.9M204.0 192.2L201.1 196.8M132.4 218.3L134.2 216.2M165.9 98.0L166.9 98.6M195.1 162.4L193.8 163.1M172.5 202.4L171.6 201.1M143.9 105.3L143.9 108.0M161.3 207.7L161.8 206.1M187.5 149.9L187.5 151.8M143.9 160.0L146.2 158.7M155.3 212.1L155.1 210.5M155.3 89.6L155.1 91.2M164.6 148.2L164.6 150.9M171.7 112.3L170.1 113.1M151.8 222.0L148.5 219.3M187.5 151.8L185.7 150.8M137.4 209.6L136.8 208.5M146.2 176.9L146.2 179.5M189.3 140.6L188.3 142.3M209.1 79.2L203.4 82.2M177.4 87.2L173.2 89.4M142.1 81.2L145.3 81.7M176.1 120.3L177.4 122.2M201.5 137.9L198.6 137.5M191.3 150.2L190.2 150.8M142.6 93.9L142.6 95.2M150.8 148.2L150.8 150.9M134.7 128.8L137.0 130.1M177.7 106.0L176.0 106.0M150.8 195.1L153.1 196.4M169.2 166.5L169.2 169.1M189.6 165.2L188.4 165.3M197.8 150.8L196.2 150.2M176.1 136.6L176.1 139.2M133.5 91.0L132.4 91.9M186.9 117.8L186.2 118.9M155.4 153.5L157.7 152.2M134.8 83.4L137.3 83.5M166.4 85.4L163.7 87.9M160.0 137.9L162.3 136.6M187.3 172.4L186.8 173.6M155.4 135.2L155.4 137.9M194.8 170.4L193.5 169.0M137.0 200.3L139.3 201.6M175.2 203.1L174.0 201.3M193.0 175.4L191.3 175.4M143.9 121.0L143.9 123.6M141.6 163.9L143.9 165.2M190.4 55.5L196.8 59.7M180.5 106.6L181.7 107.9M164.6 171.7L166.9 170.4M168.9 76.7L165.0 80.1M169.2 122.2L171.5 121.0M169.3 94.3L166.6 95.2M175.2 98.6L174.0 100.4M146.9 94.8L148.3 95.2M190.8 173.3L190.4 174.4M163.1 198.4L162.5 197.0M243.0 135.7L237.1 143.7M146.2 192.5L146.2 195.1M173.8 176.9L176.1 175.6M192.0 119.2L189.9 119.7M157.2 100.0L155.5 100.9M166.6 89.4L165.1 91.8M182.3 188.7L181.5 189.6M148.5 193.8L150.8 195.1M202.8 237.4L192.9 236.6M132.4 109.2L132.4 111.8M139.0 249.4L132.4 249.7M186.1 172.3L185.6 173.7M132.4 163.9L134.7 162.6M191.2 139.6L190.4 140.2M170.2 197.3L168.7 197.3M150.8 127.5L153.1 126.2M207.4 129.5L203.0 129.6M134.7 175.6L134.7 178.2M153.1 147.0L155.4 145.7M179.3 115.1L179.0 116.6M139.9 91.4L139.9 92.4M188.3 129.3L187.7 130.5M190.7 125.0L189.5 125.1M160.2 101.6L161.7 102.4M192.3 152.5L191.3 152.7M137.0 127.5L139.3 126.2M157.7 126.2L160.0 124.9M194.8 81.8L190.2 84.9M155.4 150.9L155.4 153.5M172.1 208.9L171.3 206.0M211.0 112.1L213.4 117.3M139.3 160.0L141.6 158.7M139.3 144.4L139.3 147.0M162.3 154.8L164.6 153.5M164.5 197.4L163.1 198.4M138.9 220.9L139.7 217.9M182.3 190.6L180.8 190.5M139.3 199.0L141.6 197.7M213.4 184.4L210.6 177.4M160.0 148.2L160.0 150.9M187.5 151.8L187.4 153.8M205.3 199.6L198.0 201.2M194.6 197.8L191.6 201.6M188.0 161.0L186.8 159.8M157.3 101.7L157.0 103.5M151.9 213.2L150.2 213.7M178.3 219.6L173.4 217.1M176.1 162.6L178.4 163.9M132.4 124.9L132.4 127.5M213.8 84.6L207.9 87.1M151.2 89.9L149.8 90.7M180.8 180.1L180.1 178.4M148.5 126.2L150.8 124.9M177.4 122.2L178.6 124.2M150.8 143.1L153.1 141.8M181.5 118.2L179.9 117.8M146.2 101.4L148.4 100.0M169.2 169.1L169.2 171.7M191.3 126.3L191.8 127.5M188.3 205.1L185.3 202.3M191.3 154.0L190.1 155.2M194.2 178.1L193.0 175.4M202.4 157.3L199.6 156.9M164.6 101.5L165.6 102.1M173.8 166.5L173.8 169.1M139.3 100.2L141.6 101.4M155.6 202.4L154.0 203.1M176.1 144.4L176.1 147.0M169.2 114.5L170.1 113.1M174.4 233.9L171.2 229.5M194.4 212.8L194.5 205.3M200.4 179.5L196.7 179.3M160.0 145.7L162.3 144.4M185.8 175.9L185.2 177.0M162.3 175.6L164.6 174.2M174.3 104.4L175.2 105.2M166.9 175.6L169.2 174.2M143.9 128.8L143.9 131.4M148.3 95.2L149.7 95.7M140.0 39.5L139.6 46.1M218.2 90.3L222.1 96.3M141.6 171.7L143.9 173.0M184.9 167.5L184.3 169.4M143.9 183.4L146.2 182.1M176.1 123.6L178.6 124.2M169.2 130.1L171.5 128.8M174.7 188.4L173.1 188.0M180.5 103.6L178.0 104.0M148.5 141.8L150.8 140.5M142.1 81.2L139.7 83.8M135.1 214.6L135.9 213.3M140.2 224.2L136.3 224.5M188.8 163.9L187.7 162.7M142.6 95.2L142.3 96.7M189.5 176.6L189.0 177.6M133.9 93.0L132.4 94.3M185.6 173.7L185.0 175.0M182.3 180.2L181.7 178.6M236.4 136.6L229.8 134.4M160.7 251.9L158.5 246.2M150.8 171.7L150.8 174.2M134.7 152.2L137.0 153.5M182.8 235.9L185.1 227.6M134.7 199.0L137.0 197.7M145.3 220.0L142.1 220.5M155.4 119.7L155.4 122.2M143.1 91.9L143.7 93.0M192.3 128.8L190.8 128.4M164.5 104.3L165.9 105.3M157.7 134.0L160.0 132.7M160.0 161.2L162.3 160.0M182.1 182.5L181.5 183.5M207.3 95.7L201.9 97.5M155.4 158.7L155.4 161.2M179.3 109.4L180.1 110.3M183.0 140.5L183.9 137.0M206.1 148.9L202.7 147.6M141.6 187.3L143.9 188.6M189.9 119.7L190.7 121.3M204.0 109.5L197.4 107.8M179.6 193.7L178.5 193.2M182.0 174.9L180.7 173.4M164.6 119.7L164.6 122.2M159.2 99.6L160.5 100.3M186.2 182.8L185.6 183.8M231.5 202.2L222.1 205.4M152.5 90.3L151.0 91.1M178.4 135.2L180.7 136.6M177.0 239.0L171.0 241.8M176.9 189.5L176.3 188.5M159.2 99.6L158.7 100.8M146.7 214.6L144.9 215.0M155.4 206.1L155.7 205.0M174.3 109.4L173.3 109.9M169.2 137.9L169.2 140.5M192.1 146.0L191.1 145.2M191.8 127.5L192.3 128.8M143.1 209.8L143.7 208.7M150.8 150.9L153.1 149.6M153.1 170.4L155.4 169.1M152.1 54.0L150.9 59.7M172.4 110.8L173.6 112.1M155.4 124.9L157.7 123.6M190.2 84.9L194.4 88.9M157.7 149.6L160.0 148.2M222.9 129.3L217.1 128.2M139.3 128.8L139.3 131.4M177.4 214.5L176.4 210.1M167.7 103.6L168.7 104.4M196.2 151.5L195.0 151.4M139.3 183.4L141.6 182.1M163.7 206.4L162.5 207.1M139.3 167.8L139.3 170.4M150.9 204.3L149.2 204.9M194.2 129.6L194.8 131.3M141.6 119.7L143.9 118.4M176.7 198.9L174.8 198.5M194.9 190.0L192.2 187.9M160.6 223.5L156.0 225.1M161.3 207.7L159.7 207.2M176.9 106.8L177.7 107.6M178.4 150.9L180.7 152.2M180.7 157.4L183.0 156.1M166.9 183.4L169.2 182.1M168.4 111.5L170.1 113.1M162.5 43.4L160.7 49.8M144.3 95.5L144.2 97.1M228.7 109.0L231.3 115.7M136.0 216.1L134.2 216.2M132.4 233.5L132.4 228.8M190.2 150.8L189.0 150.8M135.3 208.6L134.1 207.4M169.2 153.5L169.2 156.1M237.1 143.7L230.7 141.0M171.2 192.0L168.8 192.2M141.2 209.1L141.2 208.0M148.5 149.6L150.8 148.2M184.9 141.6L185.3 143.9M132.4 80.5L135.6 80.6M150.8 166.5L153.1 165.2M196.2 136.6L194.6 136.7M187.6 168.2L186.4 167.7M198.6 164.2L196.2 165.1M197.1 141.9L195.7 143.4M153.1 118.4L155.4 117.1M186.8 173.6L186.1 172.3M150.8 140.5L150.8 143.1M155.4 140.5L157.7 139.2M142.1 220.5L138.9 220.9M177.7 106.0L177.7 107.6M194.9 138.0L195.1 139.3M173.4 108.5L174.3 109.4M137.0 187.3L139.3 188.6M173.8 119.7L176.1 120.3M176.1 128.8L176.1 131.4M164.8 244.2L168.7 236.5M156.3 210.0L155.1 210.5M139.3 123.6L141.6 124.9M183.8 194.5L182.2 196.4M194.3 166.4L193.0 166.6M138.1 63.4L137.8 68.4M149.5 236.8L153.8 230.7M180.0 185.6L179.3 186.6M181.5 112.1L182.3 113.0M164.6 163.9L166.9 162.6M160.3 91.7L158.8 92.8M143.9 152.2L143.9 154.8M144.9 215.0L144.6 213.5M169.3 94.3L169.6 97.1M140.2 224.2L138.9 220.9M165.1 94.2L164.9 96.0M237.4 150.8L237.1 158.0M187.0 157.8L185.3 157.8M176.1 134.0L178.4 135.2M192.3 124.6L193.0 126.3M167.3 195.4L167.3 193.5M146.2 150.9L148.5 149.6M214.3 140.1L210.0 143.7M188.4 165.3L188.0 166.8M136.5 87.2L137.1 88.4M148.5 165.2L150.8 163.9M164.6 127.5L164.6 130.1M180.5 106.6L179.6 108.0M132.4 150.9L134.7 149.6M151.6 83.2L154.7 84.2M184.3 176.3L182.5 177.1M183.4 180.3L182.3 180.2M146.9 94.8L147.6 96.4M150.8 156.1L150.8 158.7M179.0 185.1L178.1 186.3M165.6 102.1L165.4 103.4M158.5 246.2L152.1 247.7M147.3 92.9L146.1 93.5M190.5 136.5L189.6 136.5M158.5 55.5L157.0 61.1M134.7 167.8L134.7 170.4M194.4 88.9L198.3 93.1M159.3 97.4L158.0 97.7M192.3 149.2L191.3 149.0M137.0 119.7L139.3 118.4M142.1 84.1L144.5 84.5M176.4 91.6L172.1 92.8M155.4 143.1L155.4 145.7M179.8 202.8L177.0 201.5M173.2 204.6L171.3 206.0M190.7 180.4L189.6 179.1M162.9 211.0L161.9 209.2M171.2 72.2L168.9 76.7M157.7 157.4L160.0 156.1M160.0 184.7L162.3 183.4M225.4 147.7L219.9 145.1M162.3 147.0L164.6 145.7M208.7 182.5L206.5 187.4M164.6 179.5L166.9 178.2M137.3 218.2L137.8 216.0M175.3 200.1L173.7 199.4M132.4 85.5L133.8 87.1M143.9 100.2L143.9 102.8M187.3 145.9L187.4 147.9M213.4 184.4L206.5 187.4M143.9 154.8L146.2 153.5M195.8 134.8L196.2 136.6M170.6 202.0L170.7 200.4M146.2 166.5L148.5 165.2M171.5 144.4L173.8 145.7M164.6 143.1L164.6 145.7M168.8 109.5L166.7 110.0M185.3 130.8L183.6 130.5M146.7 227.5L142.0 228.2M157.6 209.4L156.5 208.6M182.8 128.6L180.7 128.3M146.2 171.7L146.2 174.2M188.8 137.8L187.7 139.0M138.6 58.0L144.8 58.6M191.5 123.0L189.6 122.6M134.7 183.4L134.7 186.0M199.6 144.8L197.5 145.5M192.2 113.8L190.8 117.1M134.7 123.6L137.0 124.9M169.2 161.2L169.2 163.9M164.9 100.6L164.6 101.5M192.1 155.7L191.1 156.5M137.0 135.2L139.3 134.0M195.1 139.3L195.4 140.7M196.7 171.2L194.8 170.4M202.7 147.6L199.9 149.6M197.7 147.2L196.1 147.4M176.1 131.4L176.1 134.0M194.2 178.1L191.5 178.7M155.4 148.2L157.7 147.0M217.1 128.2L218.4 133.7M157.7 173.0L160.0 171.7M219.2 184.3L215.4 179.0M139.3 152.2L139.3 154.8M190.8 209.3L186.9 213.0M141.6 104.0L143.9 102.8M193.9 167.7L192.7 167.7M139.7 83.8L139.6 85.9M152.5 211.4L151.2 211.8M176.9 48.5L183.7 51.8M194.4 212.8L186.9 213.0M180.7 141.8L183.0 140.5M144.0 94.2L145.5 94.5M140.2 77.5L144.1 78.0M149.9 212.2L149.8 211.0M173.8 124.9L176.1 126.2M164.0 227.2L160.6 223.5M143.9 175.6L146.2 174.2M165.9 196.4L165.7 194.7M186.4 140.0L184.9 141.6M146.2 187.3L146.2 189.9M173.8 171.7L176.1 170.4M154.0 98.6L151.9 99.3M178.0 184.4L176.8 183.4M139.6 215.8L140.6 214.1M180.7 128.3L181.7 130.4M169.6 97.1L168.3 98.1M235.2 172.2L233.5 179.2M147.6 205.3L148.1 203.6M148.3 95.2L149.2 96.8M176.1 141.8L178.4 143.1M132.4 104.0L132.4 106.7M171.2 109.7L168.8 109.5M169.2 176.9L169.2 179.5M148.5 173.0L150.8 171.7M132.4 158.7L134.7 157.4M171.8 195.9L170.6 195.7M160.8 86.5L163.7 87.9M204.2 120.5L200.4 122.2M200.9 167.0L198.6 164.2M153.1 141.8L155.4 140.5M181.5 183.5L179.9 183.9M150.8 163.9L150.8 166.5M155.4 163.9L157.7 162.6M198.7 224.1L199.3 215.5M161.2 203.3L160.2 202.8M144.5 84.5L146.9 84.9M185.5 115.5L184.3 115.9M155.4 145.7L155.4 148.2M184.4 198.2L183.8 194.5M139.3 108.0L141.6 109.2M177.3 205.0L175.2 203.1M192.8 108.4L190.4 111.1M214.0 74.7L219.0 80.4M167.2 208.7L165.1 209.9M185.8 81.3L182.7 85.3M183.0 140.5L184.9 141.6M160.0 143.1L160.0 145.7M141.6 179.5L143.9 180.8M187.4 120.9L187.9 122.0M164.6 187.3L166.9 186.0M204.0 109.5L202.2 116.1M218.2 211.4L213.8 217.1M176.1 157.4L178.4 158.7M178.0 117.3L176.8 118.3M132.4 119.7L132.4 122.2M146.2 174.2L148.5 173.0M171.5 152.2L173.8 153.5M148.6 89.1L147.6 90.1M183.7 177.6L183.0 178.9M167.8 105.1L165.9 105.3M164.6 150.9L164.6 153.5M132.4 174.2L134.7 173.0M199.0 139.9L196.5 138.3M152.5 90.3L153.2 91.8M150.8 137.9L153.1 136.6M188.5 108.5L185.4 109.0M210.3 148.5L205.9 145.0M179.3 186.6L179.0 185.1M153.1 157.4L155.4 156.1M139.6 255.6L139.0 249.4M150.8 179.5L150.8 182.1M157.0 61.1L162.9 63.0M156.4 96.0L156.8 97.2M194.6 197.8L190.4 196.4M207.9 87.1L203.5 90.8M134.7 191.2L134.7 193.8M134.7 131.4L137.0 132.7M218.4 133.7L219.3 139.4M168.6 107.4L169.9 108.5M167.6 102.4L167.7 103.6M137.0 143.1L139.3 141.8M194.6 136.7L193.5 137.4M158.7 200.9L157.2 201.7M141.6 106.7L143.9 105.3M160.0 158.7L160.0 161.2M203.0 172.1L199.1 173.2M186.8 173.6L186.3 174.7M162.3 170.4L164.6 169.1M178.3 219.6L173.7 222.4M166.9 123.6L169.2 124.9M146.9 84.9L144.9 86.7M143.9 123.6L143.9 126.2M186.0 163.7L185.5 165.6M143.9 178.2L146.2 176.9M197.8 150.8L197.7 152.7M169.2 124.9L171.5 123.6M171.5 167.8L173.8 169.1M176.9 185.7L175.6 185.0M164.6 166.5L164.6 169.1M139.2 94.7L138.4 96.1M148.5 231.9L146.7 227.5M146.2 195.1L146.2 197.7M189.6 136.5L188.4 136.4M233.5 122.5L226.8 121.6M158.7 100.8L157.3 101.7M183.3 134.8L183.9 137.0M188.3 172.4L187.7 171.2M134.7 147.0L137.0 148.2M169.2 184.7L169.2 187.3M151.4 226.4L148.0 223.0M176.1 154.8L176.1 157.4M170.6 106.0L171.6 106.8M155.4 171.7L157.7 170.4M160.1 208.3L158.8 208.9M164.8 244.2L157.0 240.6M160.0 156.1L162.3 154.8M183.4 180.3L182.8 181.4M162.3 186.0L164.6 184.7M132.4 39.2L140.0 39.5M139.3 115.8L141.6 117.1M141.6 182.1L143.9 183.4M182.0 174.9L181.1 176.7M227.8 92.9L231.5 99.5M169.2 140.5L171.5 139.2M198.0 100.5L191.6 100.1M183.6 171.2L182.5 169.1M156.6 98.3L157.9 98.9M173.2 89.4L176.4 91.6M187.4 180.8L186.8 181.8M148.5 110.6L148.5 113.2M179.0 185.1L178.0 184.4M236.4 165.1L230.7 160.7M167.3 106.3L167.3 108.2M148.5 157.4L150.8 156.1M185.7 148.5L185.7 150.8M178.5 187.6L178.1 186.3M156.6 98.3L155.6 99.3M186.1 172.3L184.7 172.5M176.1 165.2L178.4 166.5M166.6 197.5L165.9 196.4M172.5 107.6L171.2 107.9M132.4 127.5L132.4 130.1M134.7 162.6L137.0 163.9M185.2 177.0L184.3 176.3M181.5 181.4L180.7 182.7M132.4 182.1L134.7 180.8M182.1 119.2L180.7 119.0M153.1 165.2L155.4 163.9M150.8 187.3L150.8 189.9M169.9 108.5L171.2 109.7M145.6 248.8L150.9 242.0M181.1 78.0L185.8 81.3M219.2 117.4L213.4 117.3M139.3 131.4L141.6 132.7M178.8 199.8L177.0 201.5M160.0 127.5L160.0 130.1M154.0 203.1L152.5 203.7M164.2 102.5L165.4 103.4M160.0 166.5L160.0 169.1M198.7 183.1L195.4 182.2M146.2 158.7L148.5 157.4M178.4 145.7L180.7 147.0M214.9 156.3L210.0 158.0M136.4 95.9L134.7 97.6M162.3 191.2L164.9 193.2M167.6 249.8L160.7 251.9M147.6 40.3L146.7 46.8M195.1 125.9L193.6 127.9M164.2 102.5L164.5 104.3M174.8 94.7L175.2 98.6M139.6 215.8L137.8 216.0M132.4 262.4L139.6 255.6M132.4 143.1L132.4 145.7M146.2 197.7L148.5 196.4M176.3 188.5L175.3 189.6M177.2 114.3L176.9 116.0M132.4 197.7L134.7 196.4M150.8 161.2L153.1 160.0M185.8 125.8L185.0 126.7M171.0 105.1L169.6 105.2M177.0 62.7L174.4 67.8M191.0 163.1L190.1 162.7M149.4 208.3L148.6 207.5M162.2 98.9L161.3 99.5M194.3 135.3L194.6 136.7M160.6 223.5L162.9 218.0M179.9 114.4L178.5 114.1M137.0 111.8L137.0 114.5M171.6 106.8L172.5 107.6M176.1 123.6L176.1 126.2M173.8 179.5L176.1 181.4M137.0 166.5L139.3 165.2M196.2 148.8L194.9 147.9M224.1 166.3L219.3 162.3M144.3 206.2L142.6 206.5M201.1 196.8L198.0 201.2M194.9 163.7L193.5 164.3M171.1 203.5L170.6 202.0M137.8 85.7L137.8 87.3M143.9 108.0L143.9 110.6M185.3 202.3L184.4 198.2M160.0 163.9L162.3 162.6M181.5 183.5L180.7 184.6M164.6 111.8L166.9 113.2M143.9 162.6L146.2 161.2M180.1 110.3L180.8 111.2M143.9 147.0L143.9 149.6M148.4 214.2L147.3 212.9M190.4 55.5L187.0 61.1M148.0 223.0L145.3 220.0M161.9 92.5L162.5 94.6M179.1 180.1L178.0 181.8M187.4 153.8L185.7 153.2M143.9 201.6L146.2 200.3M169.2 148.2L171.5 147.0M148.5 160.0L150.8 158.7M181.1 176.7L179.7 175.5M145.3 81.7L148.5 82.4M185.6 173.7L184.0 174.1M156.0 76.6L151.8 79.7M185.6 183.8L185.0 184.8M144.0 94.2L144.3 95.5M163.5 100.8L163.0 101.8M231.3 186.0L226.8 180.1M171.0 241.8L164.8 244.2M181.4 110.0L180.8 111.2M195.7 143.4L195.9 144.7M160.5 100.3L160.2 101.6M197.7 152.7L196.2 151.5M175.2 110.3L174.3 111.0M134.7 170.4L137.0 171.7M190.8 184.6L189.0 183.5M200.9 167.0L197.4 168.9M137.3 83.5L139.7 83.8M198.7 224.1L190.1 223.9M155.4 137.9L155.4 140.5M184.4 198.2L180.5 198.1M192.3 177.1L190.7 176.7M167.2 208.7L165.1 207.5M192.7 171.6L191.6 171.1M148.6 212.6L147.3 212.9M160.0 179.5L162.3 178.2M176.9 189.5L176.0 190.5M185.3 99.4L184.4 103.5M196.8 59.7L202.8 64.3M143.9 102.8L146.2 104.0M243.7 158.5L243.0 166.0M194.8 131.3L195.3 133.1M169.2 163.9L171.5 162.6M172.7 200.3L172.5 198.9M161.7 199.3L160.8 198.0M174.4 186.5L171.7 186.9M167.8 105.1L169.0 106.0M184.0 127.6L182.0 126.8M133.8 87.1L133.6 88.3M185.4 109.0L184.0 110.7M142.6 206.5L142.3 205.0M151.6 83.2L151.6 86.2M181.5 189.6L180.8 190.5M196.8 242.0L187.0 240.6M148.5 134.0L148.5 136.6M178.4 153.5L180.7 154.8M170.6 195.7L169.0 195.7M189.9 119.7L188.3 120.1M134.2 216.2L132.4 216.2M208.5 134.2L204.1 133.3M199.0 139.9L197.1 141.9M148.3 208.6L147.4 207.9M153.1 149.6L155.4 148.2M180.0 116.1L179.9 117.8M163.1 99.4L162.4 100.1M169.2 156.1L169.2 158.7M192.2 153.5L191.3 154.0M151.6 86.2L153.9 86.9M135.6 210.6L134.9 209.7M150.8 169.1L153.1 167.8M153.1 188.6L155.4 187.3M193.6 73.3L190.1 77.8M179.9 120.1L180.8 121.6M169.4 210.6L169.3 207.4M213.4 117.3L215.4 122.7M157.7 167.8L160.0 166.5M222.9 172.4L218.4 168.0M139.3 147.0L139.3 149.6M195.4 161.0L194.4 159.7M139.3 201.6L141.6 200.3M160.7 212.1L158.5 213.1M137.0 101.4L137.0 97.7M139.3 186.0L139.3 188.6M160.0 150.9L160.0 153.5M201.9 204.2L194.5 205.3M139.2 207.0L137.5 207.2M141.6 137.9L143.9 136.6M143.2 86.4L141.9 87.8M143.8 237.8L148.5 231.9M146.9 84.9L148.4 87.5M160.0 189.9L160.0 192.5M155.4 106.7L154.9 102.5M161.9 209.2L161.3 207.7M132.4 77.1L136.3 77.2M152.5 211.4L152.1 210.3M185.5 136.1L183.9 137.0M167.7 198.1L167.8 196.6M150.8 197.7L150.6 201.0M178.6 124.2L179.7 126.2M208.6 69.3L204.1 74.1M156.3 91.7L156.5 93.1M151.1 205.6L150.9 204.3M137.8 87.3L139.2 87.4M160.6 78.2L155.6 80.8M132.4 166.5L132.4 169.1M154.5 205.5L155.2 204.0M169.2 171.7L169.2 174.2M132.4 106.7L134.7 108.0M154.7 84.2L157.8 85.3M150.8 184.7L153.1 183.4M202.1 160.6L199.3 159.4M197.7 154.5L196.2 152.9M150.8 158.7L150.8 161.2M220.1 150.8L219.9 156.6M193.6 228.4L185.1 227.6M183.9 113.2L183.0 114.0M196.1 147.4L196.2 148.8M179.3 115.1L180.0 116.1M176.1 147.0L176.1 149.6M169.2 117.1L171.7 114.8M147.3 212.9L145.9 213.2M185.2 177.0L184.7 178.1M164.0 227.2L159.0 229.1M189.9 182.0L189.0 180.4M191.3 175.4L190.4 174.4M176.2 74.9L173.7 79.3M143.9 131.4L143.9 134.0M160.7 89.6L158.7 91.0M174.3 192.3L173.4 193.2M141.6 174.2L143.9 175.6M143.9 186.0L146.2 184.7M186.2 118.9L186.8 119.9M164.6 182.1L166.9 180.8M143.9 170.4L143.9 173.0M182.2 105.3L179.2 105.3M234.8 106.4L228.7 109.0M145.3 81.7L142.1 84.1M225.6 199.2L222.1 205.4M208.6 232.4L209.1 222.5M176.1 152.2L178.4 153.5M175.9 114.6L174.4 115.2M157.2 201.7L155.5 200.8M137.8 214.4L137.1 213.3M148.5 102.8L148.5 105.3M185.0 175.0L184.3 176.3M145.9 88.5L145.3 89.6M148.5 183.4L150.8 182.1M181.5 181.4L180.8 180.1M172.1 92.8L174.8 94.7M180.7 165.2L183.3 166.9M179.3 192.3L178.5 193.2M150.8 174.2L150.8 176.9M144.8 58.6L150.9 59.7M134.7 186.0L134.7 188.6M176.1 162.6L176.1 165.2M134.7 193.8L137.0 195.1M209.4 162.8L204.9 164.5M192.0 156.8L190.9 157.8M137.0 137.9L139.3 136.6M193.9 134.0L193.0 135.1M158.5 88.6L160.7 89.6M145.6 248.8L138.6 243.7M155.4 161.2L155.4 163.9M158.5 213.1L156.2 214.0M201.9 97.5L198.0 100.5M151.6 218.5L151.6 215.5M157.7 175.6L160.0 174.2M162.3 118.4L164.6 119.7M141.6 189.9L143.9 191.2M166.9 118.4L169.2 119.7M178.7 194.7L177.7 194.1M183.0 156.1L185.5 155.5M197.7 147.2L197.7 149.0M146.2 184.7L148.5 183.4M171.5 162.6L173.8 163.9M178.4 137.9L180.7 139.2M176.3 188.5L174.7 188.4M180.7 144.4L183.0 143.1M164.6 161.2L164.6 163.9M177.2 114.3L178.1 115.4M174.3 197.3L173.4 198.1M173.8 127.5L176.1 128.8M176.1 173.0L178.4 174.2M183.0 122.8L181.7 123.1M163.0 199.9L161.7 199.3M132.4 135.2L132.4 137.9M188.9 134.1L187.6 133.5M228.7 109.0L222.0 109.3M179.8 70.8L185.1 74.1M164.6 200.2L164.2 199.2M132.4 189.9L134.7 188.6M160.1 93.4L159.7 94.5M142.0 209.9L142.4 208.9M184.1 122.5L183.0 122.8M141.9 87.8L143.3 88.0M200.9 134.7L197.4 132.8M134.7 141.8L137.0 143.1M173.6 112.1L174.7 113.3M169.2 179.5L169.2 182.1M137.0 153.5L139.3 152.2M155.4 176.9L155.4 179.5M160.6 223.5L155.6 220.9M168.7 104.4L169.6 105.2M155.4 166.5L157.7 165.2M218.4 168.0L217.1 173.5M157.7 191.2L160.0 189.9M194.8 219.9L194.4 212.8M139.3 170.4L139.3 173.0M159.0 229.1L153.8 230.7M139.3 110.6L141.6 111.8M149.2 204.9L147.6 205.3M141.6 122.2L143.9 121.0M192.8 193.3L190.4 190.6M180.7 160.0L183.0 158.7M143.9 139.2L143.9 141.8M153.9 97.1L155.2 97.7M166.4 85.4L169.8 87.3M132.4 72.9L132.4 77.1M173.8 143.1L176.1 144.4M143.9 193.8L146.2 192.5M148.5 105.3L148.5 108.0M164.5 104.3L164.1 105.8M185.3 143.9L185.5 146.2M153.9 97.1L152.5 98.0M149.9 89.5L151.2 89.9M179.0 118.7L178.0 119.9M171.5 123.6L171.5 126.2M183.0 178.9L182.3 180.2M148.5 191.2L150.8 189.9M142.4 92.8L142.6 93.9M178.7 107.0L178.5 108.5M179.8 98.9L182.1 101.1M181.8 117.0L180.7 117.1M132.4 228.8L132.4 224.6M174.3 109.4L175.2 110.3M150.8 182.1L150.8 184.7M155.4 182.1L157.7 180.8M139.0 249.4L132.4 243.9M139.3 126.2L141.6 127.5M176.1 170.4L176.1 173.0M204.1 133.3L200.0 131.6M179.3 186.6L178.5 187.6M182.3 113.0L183.0 114.0M211.0 112.1L206.5 114.3M183.0 158.7L185.3 157.8M141.6 197.7L143.9 199.0M186.8 159.8L184.9 160.1M164.1 195.9L163.0 194.5M166.9 126.2L169.2 127.5M190.8 128.4L191.2 129.5M175.8 197.6L175.2 196.5M146.2 153.5L148.5 152.2M214.9 145.4L210.3 148.5M178.0 181.8L176.1 181.4M180.7 244.1L174.2 247.1M147.6 261.4L153.8 253.6M132.4 137.9L132.4 140.5M178.1 186.3L177.2 187.4M175.3 112.1L174.7 113.3M132.4 192.5L134.7 191.2M192.2 113.8L193.8 116.6M184.7 123.6L183.7 124.1M173.4 193.2L172.3 192.8M164.8 57.5L162.9 63.0M191.4 161.0L190.6 160.3M151.4 207.6L151.0 206.8M189.9 137.7L188.8 137.8M160.3 97.9L159.1 98.3M194.8 81.8L199.3 86.2M137.0 106.7L137.0 109.2M176.9 116.0L178.0 117.3M150.8 104.0L152.8 101.6M160.7 212.1L160.3 210.0M137.0 161.2L139.3 160.0M196.0 146.1L194.8 145.6M187.1 186.6L185.5 186.2M155.4 184.7L155.4 187.3M147.6 205.3L145.9 205.8M206.5 187.4L204.0 192.2M195.4 161.0L194.0 162.0M190.4 196.4L188.5 193.2M143.9 110.6L146.2 111.8M162.3 188.6L164.6 187.3M196.2 136.6L196.5 138.3M166.9 141.8L169.2 143.1M169.5 202.8L169.8 201.1M141.6 101.4L141.7 98.3M210.6 177.4L205.9 176.8M144.2 97.1L143.9 98.8M176.9 48.5L174.2 54.6M166.6 206.5L164.9 205.7M181.1 176.7L180.1 178.4M157.9 202.8L158.7 200.9M143.8 237.8L137.8 233.3M155.4 106.7L159.1 104.7M196.5 163.4L196.2 165.1M165.7 107.0L164.9 108.5M178.4 161.2L180.7 162.6M164.6 184.7L164.6 187.3M164.6 189.9L166.7 191.7M165.9 203.7L164.9 204.4M146.7 74.2L144.1 78.0M193.8 116.6L192.0 119.2M194.2 129.6L192.7 130.1M160.6 78.2L162.9 83.7M191.1 145.2L190.1 146.5M235.2 172.2L229.8 167.3M216.8 111.7L219.2 117.4M185.7 150.8L185.7 153.2M185.1 179.2L184.1 179.2M150.8 176.9L153.1 175.6M137.0 122.2L137.0 124.9M197.7 149.0L196.2 148.8M175.7 109.5L175.2 110.3M189.3 169.4L188.1 170.0M134.7 165.2L137.0 166.5M182.5 124.6L183.3 126.1M193.1 180.3L190.7 180.4M197.7 154.5L196.0 155.6M171.5 131.4L171.5 134.0M137.0 176.9L139.3 175.6M132.4 83.4L134.8 83.4M216.8 190.0L213.4 184.4M140.2 77.5L138.9 80.8M176.9 112.2L177.7 113.1M155.4 189.9L157.7 188.6M151.2 211.8L149.9 212.2M160.0 174.2L162.3 173.0M139.3 193.8L139.3 196.4M178.5 187.6L177.7 188.6M164.6 122.2L166.9 123.6M183.7 51.8L190.4 55.5M139.3 134.0L141.6 135.2M141.6 145.7L143.9 144.4M132.4 88.3L133.6 88.3M174.4 186.5L173.1 188.0M153.6 89.0L152.5 90.3M148.5 69.8L151.4 75.3M144.1 78.0L148.0 78.7M169.2 158.7L171.5 157.4M176.8 183.4L174.7 183.3M165.4 103.4L166.6 104.2M171.1 98.2L169.5 98.9M192.8 108.4L194.9 111.7M132.4 216.2L132.4 214.6M182.2 105.3L181.7 107.9M145.9 205.8L146.2 204.2M145.3 81.7L146.9 84.9M175.3 101.6L174.8 103.2M183.0 187.7L182.3 188.7M148.5 128.8L148.5 131.4M218.2 211.4L215.7 204.0M148.5 175.6L150.8 174.2M183.9 164.7L183.3 166.9M165.4 103.4L165.9 105.3M178.5 114.1L178.1 115.4M134.7 180.8L137.0 182.1M171.5 147.0L171.5 149.6M175.3 189.6L174.3 190.7M186.2 116.6L185.0 116.9M153.1 183.4L155.4 182.1M181.5 118.2L182.1 119.2M153.1 110.6L153.1 113.2M208.3 107.0L211.0 112.1M188.5 193.2L185.4 192.7M194.9 111.7L192.2 113.8M139.3 149.6L141.6 150.9M178.4 140.5L178.4 143.1M173.8 182.1L174.7 183.3M165.1 209.9L162.9 211.0M190.2 84.9L186.9 88.7M196.2 150.2L195.0 149.1M160.8 215.2L158.5 213.1M184.0 191.0L183.1 189.5M146.9 216.8L146.7 214.6M183.0 143.1L185.3 143.9M162.3 110.6L164.6 111.8M132.4 85.5L134.2 85.5M187.9 122.0L188.5 123.0M219.3 162.3L214.3 161.6M169.6 204.6L169.5 202.8M139.6 85.9L139.2 87.4M172.3 108.9L173.3 109.9M213.8 217.1L209.1 222.5M190.8 117.1L188.1 116.6M135.8 207.3L134.4 205.9M143.9 118.4L146.2 119.7M163.7 87.9L160.7 89.6M153.7 201.6L154.9 199.2M166.9 149.6L169.2 150.9M146.2 176.9L148.5 175.6M204.0 192.2L199.9 189.8M150.0 98.7L150.6 100.7M169.0 106.0L167.3 106.3M139.0 52.3L145.6 52.9M190.4 111.1L186.9 111.0M135.1 87.1L136.5 87.2M187.3 137.3L186.0 138.0M153.9 204.6L154.0 203.1M132.4 161.2L132.4 163.9M176.9 194.9L176.0 195.7M180.7 119.0L179.0 118.7M148.5 115.8L150.8 117.1M169.0 195.7L167.8 196.6M134.7 113.2L137.0 111.8M212.0 92.2L207.3 95.7M153.1 126.2L153.1 128.8M195.8 134.8L193.9 134.0M168.5 103.0L168.7 104.4M137.0 145.7L139.3 144.4M195.9 144.7L196.0 146.1M137.0 130.1L137.0 132.7M176.1 141.8L176.1 144.4M189.6 186.7L188.1 185.1M184.7 129.2L185.3 130.8M200.0 170.1L196.7 171.2M137.0 184.7L139.3 183.4M157.7 183.4L160.0 182.1M207.3 206.0L205.3 199.6M157.7 118.4L157.7 121.0M173.7 222.4L168.9 225.0M192.3 172.9L191.2 172.2M156.2 87.7L155.3 89.6M164.6 130.1L166.9 131.4M160.6 78.2L165.0 80.1M143.9 180.8L146.2 179.5M197.7 152.7L197.7 154.5M171.5 170.4L173.8 171.7M143.9 165.2L143.9 167.8M178.8 101.9L176.7 102.8M164.6 111.8L166.7 110.0M164.6 169.1L164.6 171.7M227.8 92.9L222.1 96.3M170.3 190.8L168.8 192.2M146.2 117.1L148.5 118.4M144.6 213.5L145.3 212.1M173.8 135.2L176.1 136.6M149.8 207.2L149.7 206.0M160.2 200.1L159.1 199.0M140.6 214.1L139.5 213.0M166.9 128.8L166.9 131.4M183.0 178.9L182.5 177.1M166.6 89.4L169.4 91.1M134.9 209.7L135.3 208.6M187.9 173.4L187.3 172.4M140.9 206.8L140.3 205.4M151.0 94.9L149.7 95.7M191.3 152.7L190.2 152.3M204.1 227.6L203.4 219.5M181.8 184.7L181.5 183.5M196.2 152.9L196.1 154.3M134.7 188.6L137.0 189.9M192.2 187.9L190.8 184.6M155.4 174.2L157.7 173.0M153.9 86.9L156.2 87.7M158.5 246.2L150.9 242.0M155.4 156.1L155.4 158.7M183.4 121.4L184.1 122.5M166.6 212.3L167.2 208.7M189.0 180.4L188.5 178.7M139.2 214.3L137.8 214.4M162.3 113.2L164.6 114.5M141.6 114.5L141.6 117.1M170.6 195.7L169.6 196.5M200.4 122.2L196.7 122.4M231.5 99.5L234.8 106.4M141.6 169.1L143.9 167.8M183.0 150.9L185.7 150.8M157.9 98.9L159.2 99.6M227.8 208.8L223.6 215.2M176.4 91.6L179.5 94.1M169.2 182.1L171.5 180.8M168.8 192.2L168.4 190.2M148.5 113.2L148.5 115.8M168.6 107.4L168.8 109.5M175.3 112.1L176.3 113.2M187.7 139.0L186.4 140.0M176.0 195.7L175.2 196.5M165.4 198.3L164.5 197.4M181.7 123.1L181.1 125.0M148.5 152.2L148.5 154.8M167.6 249.8L171.0 241.8M166.6 198.8L166.6 197.5M168.7 65.2L174.4 67.8M148.5 199.0L150.8 197.7M174.7 183.3L173.3 185.1M132.4 184.7L134.7 183.4M157.6 92.3L157.6 93.5M144.1 209.6L144.9 208.5M153.1 167.8L155.4 166.5M204.2 181.2L200.4 179.5M150.8 189.9L150.8 192.5M167.2 93.0L169.3 94.3M142.0 91.8L141.2 92.6M138.6 58.0L143.8 63.9M155.4 114.5L157.7 115.8M222.0 109.3L216.8 111.7M219.9 156.6L219.3 162.3M157.7 186.0L160.0 184.7M195.6 142.0L194.4 142.0M139.3 165.2L139.3 167.8M139.3 173.0L141.6 174.2M152.5 203.7L150.9 204.3M141.6 117.1L143.9 115.8M144.5 217.2L142.1 217.6M217.1 128.2L212.2 129.5M160.0 169.1L160.0 171.7M196.9 186.6L193.8 185.1M159.1 199.0L157.0 198.2M166.9 134.0L169.2 135.2M180.7 154.8L183.0 153.5M169.5 202.8L167.8 202.4M162.9 90.7L160.3 91.7M162.3 123.6L162.3 126.2M175.6 116.7L173.3 116.6M136.4 205.8L134.7 204.1M173.8 137.9L176.1 139.2M143.9 188.6L146.2 187.3M197.4 158.0L197.1 159.8M153.8 48.1L158.5 55.5M132.4 145.7L132.4 148.2M148.5 199.0L148.4 201.7M146.2 200.3L148.5 199.0M168.9 225.0L169.3 219.5M160.2 202.8L159.2 202.1M164.6 176.9L164.6 179.5M237.6 113.5L231.3 115.7M132.4 200.3L134.7 199.0M164.9 96.0L163.9 96.7M186.3 127.0L185.6 128.0M147.3 88.8L148.6 89.1M146.1 208.2L145.5 207.2M186.6 130.8L185.9 132.4M171.5 118.4L171.5 121.0M157.9 202.8L156.6 203.4M181.2 185.6L180.7 184.6M139.9 92.4L139.7 93.5M190.6 141.4L189.6 142.1M153.1 108.0L155.4 109.2M180.5 115.2L179.3 115.1M186.6 176.3L185.8 175.9M231.2 147.5L225.4 147.7M137.0 114.5L137.0 117.1M211.0 189.6L208.3 194.7M137.0 169.1L139.3 167.8M195.9 157.0L195.7 158.3M153.1 105.3L154.9 102.5M176.1 165.2L176.1 167.8M160.0 119.7L162.3 121.0M162.9 238.7L165.9 231.8M180.7 184.6L180.0 185.6M164.6 114.5L166.9 115.8M132.4 72.9L137.2 73.1M143.9 149.6L143.9 152.2M141.6 192.5L143.9 193.8M178.0 181.8L176.8 183.4M164.6 153.5L166.9 154.8M132.4 68.2L137.2 73.1M239.9 120.7L241.7 128.1M146.2 101.4L148.5 102.8M180.1 178.4L178.6 177.5M243.7 158.5L237.1 158.0M155.5 200.8L153.7 201.6M185.3 99.4L187.9 102.3M173.8 158.7L176.1 160.0M173.4 84.6L173.2 89.4M148.5 121.0L148.5 123.6M150.8 104.0L153.1 105.3M175.3 189.6L173.6 189.6M188.5 108.5L190.4 111.1M184.1 120.6L183.4 121.4M175.2 191.4L174.3 190.7M161.3 99.5L161.7 101.0M134.7 173.0L137.0 174.2M197.1 159.8L195.6 159.7M146.7 254.9L152.1 247.7M185.4 192.7L182.9 192.4M189.3 132.3L188.5 132.9M175.7 192.2L174.3 192.3M194.6 165.0L194.3 166.4M178.4 127.5L178.4 130.1M197.4 193.9L194.9 190.0M137.0 109.2L139.3 110.6M174.7 113.3L175.9 114.6M157.7 108.0L160.0 109.2M173.2 97.1L175.2 98.6M157.0 61.1L160.6 67.8M160.0 182.1L162.3 180.8M155.4 179.5L155.4 182.1M178.4 169.1L181.7 171.3M218.4 133.7L213.4 134.7M135.9 88.4L137.1 88.4M162.3 136.6L164.6 137.9M153.9 214.8L151.9 213.2M143.9 105.3L146.2 106.7M243.0 166.0L241.7 173.6M166.9 136.6L169.2 137.9M171.6 201.1L171.6 199.6M169.2 166.5L171.5 165.2M169.0 106.0L170.1 107.0M160.0 176.9L160.0 179.5M171.5 126.2L173.8 124.9M190.8 117.1L189.9 119.7M162.5 104.7L161.1 105.9M178.4 156.1L180.7 157.4M188.9 149.1L187.4 147.9M183.0 122.8L183.7 124.1M139.6 255.6L132.4 255.8M167.8 202.4L166.9 203.1M199.3 142.3L197.4 143.7M187.1 132.1L186.4 134.0M193.0 126.3L191.8 127.5M174.2 54.6L177.0 62.7M132.4 153.5L132.4 156.1M190.4 111.1L189.6 115.0M190.8 142.7L189.8 143.5M210.8 100.8L214.0 106.1M156.8 204.5L155.2 204.0M134.7 105.3L137.0 104.0M168.3 98.1L166.9 98.6M134.5 210.7L133.7 209.8M187.7 130.5L187.1 132.1M153.1 191.2L155.4 189.9M174.2 107.9L173.4 108.5M180.8 121.6L181.7 123.1M137.0 171.7L139.3 170.4M183.8 107.2L185.4 109.0M132.4 77.1L132.4 80.5M175.2 110.3L176.0 111.2M201.9 204.2L198.3 208.6M160.0 122.2L162.3 123.6M166.9 188.6L166.7 191.7M195.7 158.3L194.5 158.5M139.3 188.6L139.3 191.2M137.5 207.2L135.8 207.3M141.6 140.5L143.9 139.2M137.8 85.7L139.6 85.9M149.3 85.5L150.2 88.0M160.3 210.0L160.1 208.3M150.2 88.0L149.9 89.5M137.8 68.4L142.0 73.5M171.5 118.4L171.7 114.8M162.9 218.0L160.8 215.2M188.3 159.4L186.8 159.8M143.9 157.4L143.9 160.0M188.4 136.4L186.9 135.7M173.8 161.2L176.1 162.6M146.2 109.2L148.5 110.6M148.5 123.6L150.8 124.9M132.4 109.2L134.7 110.6M190.2 153.8L188.9 152.6M148.5 170.4L150.8 169.1M166.9 121.0L166.9 123.6M184.9 160.1L184.5 162.4M150.8 187.3L153.1 186.0M158.8 92.8L160.1 93.4M138.7 209.5L139.7 208.2M171.5 141.8L171.5 144.4M184.7 114.4L183.7 114.9M185.6 123.4L185.2 124.7M215.7 204.0L210.8 200.9M155.6 80.8L151.6 83.2M180.0 116.1L180.7 117.1M157.7 110.6L160.0 111.8M176.2 226.8L171.2 229.5M196.2 165.1L194.9 163.7M180.5 198.1L179.2 196.4M141.6 101.4L141.6 104.0M139.3 144.4L141.6 145.7M136.4 95.9L138.4 96.1M178.4 135.2L178.4 137.9M141.6 156.1L143.9 154.8M190.7 176.7L189.9 175.5M166.6 212.3L162.9 211.0M189.0 180.4L187.4 180.8M173.4 193.2L172.5 194.1M164.6 137.9L166.9 139.2M173.4 84.6L177.4 87.2M186.8 119.9L187.4 120.9M143.9 173.0L143.9 175.6M171.5 128.8L173.8 127.5M143.9 113.2L146.2 114.5M146.2 124.9L148.5 126.2M180.7 139.2L183.9 137.0M193.3 136.3L193.5 137.4M169.2 174.2L171.5 173.0M132.4 124.9L134.7 126.2M208.7 182.5L204.2 181.2M176.1 139.2L178.4 137.9M146.2 97.5L146.2 99.3M156.6 203.4L157.2 201.7M186.4 134.0L184.9 134.2M139.2 87.4L138.3 88.5M180.7 167.8L182.5 169.1M194.2 123.6L192.3 124.6M172.6 195.2L172.5 194.1M143.3 88.0L144.1 89.4M172.1 92.8L171.3 95.7M202.2 116.1L196.9 115.1M148.5 144.4L148.5 147.0M171.2 193.8L170.1 194.7M200.9 134.7L201.5 137.9M162.2 202.8L162.4 201.6M153.1 121.0L153.1 123.6M194.8 131.3L193.1 131.4M195.4 119.5L193.1 121.4M208.5 167.5L204.1 168.4M199.6 156.9L197.4 158.0M219.2 117.4L221.3 123.3M155.4 106.7L157.7 108.0M178.4 150.9L178.4 153.5M183.3 126.1L184.0 127.6M148.5 219.3L149.3 216.2M188.3 113.0L189.6 115.0M203.5 90.8L201.9 97.5M162.3 121.0L164.6 122.2M167.7 198.1L166.6 198.8M157.7 113.2L157.7 115.8M205.9 145.0L202.7 147.6M143.9 128.8L146.2 130.1M146.2 204.2L146.2 202.4M214.0 227.0L208.6 232.4M197.7 149.0L197.8 150.8M166.9 160.0L169.2 161.2M190.8 209.3L188.3 205.1M155.3 89.6L153.8 90.8M188.6 144.0L187.3 145.9M162.9 90.7L163.5 93.4M193.0 175.4L192.3 177.1M173.4 198.1L172.5 198.9M183.7 124.1L182.5 124.6M132.4 45.9L139.0 52.3M132.4 94.3L132.4 95.8M187.3 164.4L185.5 165.6M163.5 200.9L163.0 199.9M137.4 209.6L138.3 208.4M161.3 94.0L160.8 95.0M189.3 140.6L188.0 140.7M222.1 96.3L219.1 103.4M132.4 176.9L132.4 179.5M191.3 150.2L190.2 149.4M225.4 154.0L225.0 160.2M132.4 117.1L134.7 118.4M134.7 128.8L137.0 127.5M150.8 195.1L153.1 193.8M137.0 140.5L137.0 143.1M155.4 122.2L157.7 123.6M186.9 135.7L187.3 137.3M195.4 182.2L193.1 180.3M155.4 169.1L157.7 167.8M171.5 149.6L171.5 152.2M137.0 195.1L139.3 193.8M157.7 193.8L160.0 192.5M186.9 117.8L185.6 117.9M190.1 223.9L190.2 216.8M157.7 128.8L157.7 131.4M182.1 119.2L182.8 120.3M160.6 233.9L155.1 235.5M141.6 124.9L143.9 123.6M141.9 213.9L140.6 214.1M141.6 109.2L141.6 111.8M164.6 140.5L166.9 141.8M142.3 96.7L144.2 97.1M141.6 163.9L143.9 162.6M186.9 183.9L185.6 183.8M162.3 131.4L162.3 134.0M164.1 195.9L162.5 197.0M182.7 85.3L181.3 90.1M175.2 98.6L172.5 99.3M169.8 87.3L173.2 89.4M173.8 145.7L176.1 147.0M171.7 189.4L171.7 186.9M243.0 135.7L236.4 136.6M140.6 87.6L139.5 88.7M204.1 133.3L204.9 137.2M134.1 207.4L132.4 205.9M151.2 89.9L152.5 90.3M166.6 89.4L162.9 90.7M190.9 157.8L189.8 158.2M148.5 147.0L148.5 149.6M180.7 244.1L182.8 235.9M132.4 132.7L134.7 134.0M132.4 214.6L132.4 213.4M148.5 193.8L150.8 192.5M177.4 179.5L176.1 181.4M153.1 115.8L155.4 117.1M182.4 117.9L181.5 118.2M187.3 172.4L186.1 172.3M191.2 139.6L190.1 139.0M170.2 197.3L169.6 196.5M178.4 127.5L180.7 128.3M171.5 165.2L171.5 167.8M139.9 91.4L138.7 92.2M188.3 129.3L187.3 129.3M185.8 125.8L186.3 127.0M153.1 128.8L153.1 131.4M176.1 173.0L176.1 175.6M204.9 137.2L200.9 134.7M139.3 167.8L141.6 169.1M178.4 158.7L178.4 161.2M149.3 216.2L146.9 216.8M213.4 117.3L208.7 119.2M182.3 190.6L181.5 189.6M162.3 128.8L164.6 130.1M164.6 200.2L163.5 200.9M191.2 129.5L191.6 130.6M205.3 199.6L201.1 196.8M143.9 196.4L143.9 199.0M134.4 95.8L132.4 97.5M174.2 247.1L167.6 249.8M143.9 136.6L146.2 137.9M140.3 205.4L139.4 203.7M146.2 148.2L148.5 149.6M166.9 167.8L169.2 169.1M146.2 195.1L148.5 193.8M157.3 101.7L154.9 102.5M178.3 219.6L177.4 214.5M150.8 111.8L153.1 113.2M182.8 65.8L188.3 69.4M193.8 116.6L195.4 119.5M144.0 207.5L142.6 206.5M132.4 179.5L132.4 182.1M170.7 200.4L169.8 201.1M148.6 207.5L148.3 206.5M185.6 128.0L184.7 129.2M160.5 201.4L159.2 202.1M146.2 92.6L146.1 93.5M190.1 139.0L189.1 139.2M199.3 86.2L203.5 90.8M160.0 109.2L161.1 105.9M229.8 134.4L224.1 135.4M188.3 205.1L187.9 199.4M137.0 163.9L139.3 162.6M137.0 148.2L137.0 150.9M155.4 187.3L155.4 189.9M188.0 140.7L188.3 142.3M160.0 114.5L162.3 115.8M174.4 233.9L176.2 226.8M196.1 154.3L194.9 155.0M157.7 136.6L157.7 139.2M137.8 233.3L132.4 233.5M200.4 179.5L198.0 176.3M164.9 205.7L163.9 205.0M143.9 152.2L146.2 153.5M196.2 165.1L195.8 166.9M173.2 212.3L169.4 210.6M140.0 39.5L132.4 45.9M185.3 170.9L184.3 169.4M171.5 118.4L174.7 118.4M164.6 187.3L164.6 189.9M139.7 208.2L140.9 206.8M174.7 188.4L174.4 186.5M173.8 153.5L176.1 154.8M165.0 80.1L166.4 85.4M166.9 147.0L166.9 149.6M138.3 93.3L139.2 94.7M184.6 180.2L183.4 180.3M155.1 91.2L156.3 91.7M174.8 103.2L174.3 104.4M159.1 98.3L159.2 99.6M176.4 110.3L176.0 111.2M190.4 161.5L189.1 162.5M171.5 134.0L171.5 136.6M160.7 251.9L164.8 244.2M188.6 130.3L187.7 130.5M177.1 190.7L176.0 190.5M147.4 93.8L148.3 95.2M195.1 162.4L194.9 163.7M153.1 123.6L155.4 124.9M144.1 78.0L142.1 81.2M137.0 104.0L139.3 105.3M189.0 150.8L188.9 152.6M155.4 192.5L157.7 191.2M160.0 130.1L162.3 131.4M144.8 58.6L149.5 64.9M138.6 243.7L143.8 237.8M139.3 196.4L139.3 199.0M187.3 129.3L187.7 130.5M141.6 148.2L143.9 147.0M133.6 88.3L134.8 88.3M141.6 132.7L141.6 135.2M153.8 71.0L156.0 76.6M244.0 150.8L243.7 158.5M150.2 213.7L149.9 212.2M159.1 102.7L160.8 103.7M141.6 187.3L143.9 186.0M171.5 121.0L173.8 119.7M194.9 111.7L196.9 115.1M148.5 82.4L149.3 85.5M173.8 169.1L176.1 170.4M157.3 200.0L154.9 199.2M192.4 132.9L192.7 134.0M168.3 203.6L166.9 203.1M183.3 166.9L182.5 169.1M231.5 202.2L225.6 199.2M176.1 175.6L178.6 177.5M153.8 253.6L146.7 254.9M132.4 156.1L134.7 157.4M139.0 52.3L132.4 57.8M150.8 119.7L153.1 121.0M163.0 194.5L161.1 195.8M198.0 125.4L199.1 128.5M136.7 91.1L137.4 92.1M189.0 121.3L188.5 123.0M153.1 186.0L155.4 184.7M153.1 113.2L153.1 115.8M157.7 118.4L160.0 119.7M180.5 103.6L182.2 105.3M149.4 93.4L149.8 94.5M179.8 70.8L181.1 78.0M189.6 136.5L189.9 137.7M139.3 152.2L141.6 153.5M140.6 88.8L141.8 89.0M196.2 151.5L195.0 150.3M182.9 192.4L182.3 190.6M144.5 217.2L144.9 215.0M196.0 155.6L194.8 156.1M179.2 196.4L177.7 195.7M139.3 191.2L141.6 192.5M140.9 206.8L139.2 207.0M134.2 85.5L136.0 85.6M218.4 168.0L213.4 167.0M163.5 208.3L162.5 207.1M160.0 187.3L160.0 189.9M179.5 207.6L179.8 202.8M171.5 136.6L173.8 135.2M154.5 205.5L153.3 205.9M151.9 202.4L152.8 200.1M194.0 139.7L194.2 140.9M166.9 152.2L169.2 153.5M201.1 196.8L197.4 193.9M188.7 156.0L187.3 155.8M161.3 207.7L160.8 206.7M151.9 99.3L152.8 101.6M145.6 52.9L152.1 54.0M152.5 205.1L152.5 203.7M194.8 170.4L194.2 172.1M198.7 69.4L198.7 77.6M144.3 95.5L142.3 96.7M183.3 175.6L182.0 174.9M148.5 118.4L150.8 119.7M171.7 112.3L171.7 114.8M132.4 233.5L137.2 228.6M132.4 104.0L134.7 105.3M167.8 196.6L166.6 197.5M150.8 135.2L153.1 136.6M166.9 115.8L166.9 118.4M135.3 208.6L135.8 207.3M134.7 115.8L137.0 114.5M177.4 87.2L176.4 91.6M198.6 164.2L196.5 163.4M148.3 206.5L146.9 206.9M201.5 137.9L199.0 139.9M197.1 141.9L195.6 142.0M224.1 135.4L225.0 141.5M222.0 192.4L216.8 190.0M137.0 132.7L137.0 135.2M185.8 220.4L181.1 223.7M196.9 161.6L195.4 161.0M137.0 187.3L139.3 186.0M183.8 194.5L181.7 193.8M144.9 86.7L146.7 87.1M166.4 85.4L166.6 89.4M160.0 137.9L162.3 139.2M138.1 63.4L132.4 68.2M175.2 191.4L174.3 192.3M164.6 132.7L166.9 134.0M165.0 80.1L169.3 82.2M153.8 210.9L154.3 209.5M143.9 167.8L143.9 170.4M168.8 192.2L167.3 193.5M169.2 122.2L171.5 123.6M168.9 76.7L169.3 82.2M164.6 171.7L166.9 173.0M144.9 215.0L145.9 213.2M169.3 94.3L168.1 96.1M146.2 119.7L148.5 121.0M190.7 180.4L189.9 182.0M140.2 224.2L142.1 220.5M180.7 134.0L182.5 132.6M165.1 94.2L163.7 95.3M175.2 98.6L175.3 101.6M148.5 134.0L150.8 135.2M187.0 157.8L185.5 155.5M139.2 214.3L138.3 213.2M176.1 134.0L178.4 132.7M189.6 159.6L188.3 159.4M166.9 131.4L166.9 134.0M227.8 208.8L222.1 205.4M142.3 205.0L140.3 205.4M189.3 166.4L188.4 165.3M133.7 209.8L133.9 208.7M136.5 87.2L135.9 88.4M200.4 122.2L201.8 125.8M180.5 106.6L178.7 107.0M173.8 176.9L176.1 178.2M192.0 119.2L190.7 121.3M152.2 95.3L151.1 96.1M184.3 176.3L183.3 175.6M166.6 89.4L167.2 93.0M197.4 107.8L192.8 108.4M148.5 139.2L148.5 141.8M183.4 180.3L183.0 178.9M165.6 102.1L164.2 102.5M210.0 158.0L205.5 160.6M134.7 191.2L137.0 192.5M190.4 190.6L189.6 186.7M171.5 157.4L171.5 160.0M158.5 55.5L150.9 59.7M191.8 174.2L191.3 175.4M190.7 125.0L189.9 126.2M178.4 145.7L178.4 148.2M184.1 122.5L184.7 123.6M137.0 127.5L139.3 128.8M157.7 126.2L160.0 127.5M194.8 81.8L194.4 88.9M171.2 72.2L164.0 74.5M188.3 96.6L191.6 100.1M139.3 160.0L141.6 161.2M204.9 137.2L202.1 141.1M144.1 89.4L145.3 89.6M162.3 154.8L164.6 156.1M138.9 220.9L137.3 218.2M175.3 200.1L174.8 198.5M132.4 85.5L132.4 87.1M183.0 161.2L183.9 164.7M223.6 215.2L219.0 221.3M176.1 149.6L178.4 148.2M176.3 113.2L177.2 114.3M171.5 144.4L173.8 143.1M205.9 145.0L206.1 148.9M182.1 101.1L178.8 101.9M148.5 154.8L148.5 157.4M187.1 132.1L187.6 133.5M188.0 161.0L186.4 161.7M164.8 57.5L171.0 59.9M188.8 137.8L187.3 137.3M160.8 206.7L159.7 207.2M153.4 94.8L152.2 95.3M200.0 131.6L196.7 130.5M213.8 84.6L212.0 92.2M132.4 171.7L132.4 174.2M191.7 142.8L190.8 142.7M150.8 143.1L153.1 144.4M134.7 123.6L137.0 122.2M202.7 154.1L202.4 157.3M164.9 100.6L163.5 100.8M193.5 132.7L192.4 132.9M155.4 117.1L157.7 118.4M153.1 136.6L153.1 139.2M193.1 121.4L194.2 123.6M216.8 111.7L213.4 117.3M188.3 205.1L182.4 205.1M157.7 123.6L157.7 126.2M171.2 229.5L165.9 231.8M193.9 167.7L193.0 166.6M139.7 83.8L137.8 85.7M190.4 246.2L183.7 249.9M138.4 96.1L140.3 96.3M150.2 88.0L151.9 88.5M194.4 212.8L190.8 209.3M162.3 126.2L162.3 128.8M171.5 160.0L173.8 158.7M171.3 95.7L169.6 97.1M176.8 118.3L174.7 118.4M166.9 175.6L169.2 176.9M195.0 150.3L195.0 151.4M148.5 102.8L150.8 104.0M164.0 227.2L165.0 221.6M186.4 140.0L184.5 139.3M198.7 77.6L203.4 82.2M239.9 120.7L233.5 122.5M190.1 146.5L188.9 147.4M132.4 187.3L132.4 189.9M144.9 208.5L144.0 207.5M148.5 141.8L150.8 143.1M132.4 127.5L134.7 128.8M135.1 214.6L134.8 213.4M148.3 95.2L147.6 96.4M141.2 92.6L141.2 93.7M166.9 139.2L166.9 141.8M188.8 163.9L187.3 164.4M134.7 139.2L137.0 137.9M153.1 110.6L155.4 111.8M167.2 97.4L168.3 98.1M188.1 170.0L187.1 169.6M133.9 93.0L134.1 94.3M155.4 132.7L157.7 134.0M231.2 154.2L225.4 154.0M171.8 195.9L171.6 194.9M155.7 96.7L155.2 97.7M204.2 120.5L198.7 118.6M216.8 190.0L214.0 195.6M182.8 235.9L179.8 230.9M137.0 156.1L137.0 158.7M138.1 238.3L132.4 238.5M134.7 199.0L137.0 200.3M139.3 108.0L141.6 106.7M177.3 205.0L177.0 201.5M190.2 177.9L189.6 179.1M150.0 98.7L151.9 99.3M178.4 153.5L178.4 156.1M137.2 73.1L142.0 73.5M176.1 126.2L178.6 124.2M183.9 188.5L183.0 187.7M166.6 198.8L165.6 199.6M164.6 156.1L166.9 157.4M183.0 140.5L184.5 139.3M197.4 107.8L199.9 111.9M206.1 148.9L202.7 150.8M190.4 127.3L190.8 128.4M143.9 191.2L143.9 193.8M243.0 166.0L236.4 165.1M153.7 201.6L151.9 202.4M163.1 103.3L160.8 103.7M204.0 109.5L199.9 111.9M146.2 143.1L148.5 144.4M181.7 193.8L180.5 195.1M132.4 143.1L134.7 144.4M176.1 157.4L178.4 156.1M166.9 154.8L166.9 157.4M179.0 116.6L179.9 117.8M166.7 199.9L165.6 199.6M152.5 90.3L152.1 91.4M162.4 100.1L163.0 101.8M148.5 162.6L148.5 165.2M139.6 255.6L145.6 248.8M189.7 133.4L188.9 134.1M202.4 157.3L202.1 160.6M168.4 190.2L166.7 191.7M139.0 52.3L144.8 58.6M155.4 206.1L154.5 205.5M153.1 139.2L153.1 141.8M156.4 96.0L155.7 96.7M192.1 146.0L191.2 146.4M137.0 111.8L139.3 113.2M194.6 197.8L192.8 193.3M171.5 180.8L171.5 183.4M194.6 136.7L193.3 136.3M155.4 124.9L157.7 126.2M157.7 149.6L160.0 150.9M196.0 128.2L196.7 130.5M222.9 129.3L218.4 133.7M160.0 109.2L162.3 110.6M162.3 139.2L164.6 140.5M160.2 202.8L159.1 203.4M196.2 151.5L195.0 152.6M157.7 131.4L157.7 134.0M241.7 173.6L239.9 181.0M139.3 183.4L141.6 184.7M203.0 172.1L200.0 170.1M166.9 123.6L169.2 122.2M143.9 147.0L146.2 148.2M169.8 256.0L162.5 258.3M196.9 161.6L196.5 163.4M179.5 207.6L174.8 207.0M166.9 178.2L169.2 179.5M164.1 105.8L163.0 107.2M183.7 124.1L184.3 125.4M171.5 167.8L173.8 166.5M200.4 179.5L198.7 183.1M176.9 185.7L176.8 183.4M180.1 123.3L178.6 124.2M166.9 203.1L165.9 203.7M180.7 57.6L182.8 65.8M148.5 178.2L148.5 180.8M169.5 98.9L167.8 99.3M172.7 101.4L172.5 102.8M237.1 143.7L231.2 147.5M132.4 195.1L132.4 197.7M190.8 159.0L189.6 159.6M141.2 209.1L139.7 208.2M214.0 195.6L210.8 200.9M152.5 205.1L151.1 205.6M196.2 136.6L194.9 138.0M134.7 147.0L137.0 145.7M153.1 118.4L155.4 119.7M137.0 158.7L137.0 161.2M155.4 140.5L157.7 141.8M153.1 160.0L153.1 162.6M188.9 147.4L188.9 149.1M198.3 208.6L194.4 212.8M150.9 242.0L155.1 235.5M195.6 159.7L194.4 159.7M137.8 68.4L143.2 68.9M141.6 127.5L141.6 130.1M162.3 110.6L162.3 113.2M155.5 100.9L157.3 101.7M169.8 45.7L160.7 49.8M141.6 182.1L143.9 180.8M149.5 236.8L148.5 231.9M162.3 149.6L162.3 152.2M190.4 105.3L192.8 108.4M173.8 163.9L176.1 165.2M187.1 169.6L186.4 167.7M160.3 91.7L160.1 93.4M149.2 96.8L148.1 98.1M144.9 215.0L143.3 213.7M190.1 155.2L188.9 154.3M228.5 127.9L229.8 134.4M237.6 188.2L231.3 186.0M160.1 93.4L161.3 94.0M167.3 106.3L165.7 107.0M134.7 108.0L134.7 110.6M148.5 165.2L150.8 166.5M132.4 150.9L134.7 152.2M134.7 162.6L137.0 161.2M153.1 134.0L155.4 135.2M195.4 119.5L196.7 122.4M186.1 124.4L185.8 125.8M147.3 92.9L147.4 93.8M190.5 136.5L189.9 137.7M178.8 199.8L178.0 197.7M190.4 190.6L186.9 190.7M194.2 172.1L192.7 171.6M193.1 170.3L192.7 171.6M173.2 204.6L171.1 203.5M137.0 179.5L137.0 182.1M188.9 134.1L189.3 135.3M178.4 137.9L178.4 140.5M176.4 91.6L174.8 94.7M139.3 131.4L141.6 130.1M139.3 186.0L141.6 187.3M165.7 107.0L167.3 108.2M180.7 134.0L180.7 136.6M171.2 72.2L173.7 79.3M219.9 156.6L214.9 156.3M162.3 147.0L164.6 148.2M156.8 204.5L155.7 205.0M164.6 179.5L166.9 180.8M210.3 148.5L210.3 153.2M146.2 127.5L148.5 128.8M193.5 137.4L193.8 138.6M146.2 111.8L146.2 114.5M163.7 206.4L162.8 205.5M214.0 227.0L209.1 222.5M143.9 154.8L146.2 156.1M136.4 205.8L134.4 205.9M178.4 145.7L180.7 144.4M146.2 166.5L148.5 167.8M144.6 88.2L145.3 89.6M195.1 125.9L193.0 126.3M164.2 102.5L163.1 103.3M168.8 109.5L168.4 111.5M174.8 94.7L173.2 97.1M187.1 115.1L185.5 115.5M132.4 166.5L134.7 167.8M197.4 132.8L195.8 134.8M150.8 130.1L153.1 131.4M177.7 113.1L176.3 113.2M201.5 137.9L202.1 141.1M163.9 205.0L162.8 205.5M195.3 133.1L193.5 132.7M199.3 159.4L197.1 159.8M196.5 138.3L195.1 139.3M221.3 123.3L222.9 129.3M137.0 135.2L139.3 136.6M137.0 182.1L139.3 180.8M189.6 115.0L190.8 117.1M157.7 115.8L157.7 118.4M188.9 152.6L188.9 154.3M160.0 132.7L162.3 134.0M162.3 162.6L164.6 163.9M149.8 207.2L148.6 207.5M194.9 163.7L193.8 163.1M157.7 154.8L157.7 157.4M137.8 85.7L136.5 87.2M139.7 83.8L141.4 86.1M143.9 170.4L146.2 171.7M153.8 48.1L160.7 49.8M169.2 117.1L171.5 118.4M159.0 72.6L160.6 78.2M165.1 91.8L165.1 94.2M148.4 214.2L148.6 212.6M192.3 177.1L191.5 178.7M148.0 223.0L148.5 219.3M161.9 92.5L161.3 94.0M179.9 181.6L178.0 181.8M171.5 180.8L173.8 179.5M134.1 94.3L134.4 95.8M188.4 136.4L188.8 137.8M136.2 209.7L136.8 208.5M165.9 196.4L164.1 195.9M157.6 208.2L156.5 208.6M173.8 171.7L176.1 173.0M185.6 173.7L184.7 172.5M225.6 102.5L222.0 109.3M154.0 98.6L153.7 100.1M191.6 100.1L187.9 102.3M225.0 160.2L224.1 166.3M144.0 94.2L142.6 95.2M163.7 95.3L164.9 96.0M181.4 110.0L180.1 110.3M171.5 152.2L171.5 154.8M190.8 184.6L189.9 182.0M200.9 167.0L198.0 166.5M153.1 141.8L155.4 143.1M137.8 91.2L138.7 92.2M189.6 122.6L189.0 124.1M155.4 163.9L157.7 165.2M198.7 224.1L194.8 219.9M187.7 162.7L187.3 164.4M157.7 121.0L160.0 122.2M179.5 94.1L177.3 96.7M155.1 235.5L149.5 236.8M160.0 148.2L162.3 149.6M184.4 198.2L182.2 196.4M192.3 177.1L191.3 175.4M167.2 208.7L166.6 206.5M141.6 111.8L141.6 114.5M189.9 137.7L190.1 139.0M141.6 166.5L143.9 165.2M141.6 150.9L141.6 153.5M186.2 185.1L185.0 184.8M169.2 132.7L171.5 134.0M186.9 88.7L184.9 93.3M170.3 110.9L171.7 112.3M143.9 102.8L146.2 101.4M185.5 165.6L183.9 164.7M162.3 173.0L162.3 175.6M171.5 139.2L173.8 137.9M204.9 137.2L205.5 141.1M177.3 96.7L175.2 98.6M194.2 140.9L194.4 142.0M132.4 135.2L134.7 136.6M152.5 96.6L152.5 98.0M176.1 181.4L174.7 183.3M196.8 242.0L192.9 236.6M169.6 105.2L169.0 106.0M170.6 99.7L171.6 100.6M170.6 195.7L170.1 194.7M191.4 140.7L190.4 140.2M148.6 89.1L148.7 90.4M171.5 167.8L171.5 170.4M132.4 174.2L134.7 175.6M148.3 208.6L148.6 207.5M150.8 137.9L153.1 139.2M148.4 201.7L146.2 202.4M180.0 116.1L179.0 116.6M210.3 148.5L206.1 148.9M141.0 91.6L139.9 92.4M153.1 157.4L155.4 158.7M202.7 147.6L202.7 150.8M192.2 153.5L191.3 152.7M153.1 131.4L153.1 134.0M210.8 100.8L208.3 107.0M188.3 181.6L187.6 182.7M191.1 145.2L191.2 146.4M178.4 161.2L178.4 163.9M148.7 90.4L149.8 90.7M181.4 191.7L180.8 190.5M134.8 83.4L134.2 85.5M163.5 200.9L162.4 201.6M141.6 106.7L143.9 108.0M201.9 204.2L198.0 201.2M146.1 208.2L144.9 208.5M171.5 154.8L173.8 153.5M143.9 139.2L146.2 140.5M138.4 205.6L137.0 204.0M166.9 170.4L169.2 171.7M194.9 147.9L195.0 149.1M173.7 222.4L173.4 217.1M152.5 211.4L153.2 209.9M146.2 135.2L146.2 137.9M185.5 136.1L183.3 134.8M155.1 260.1L153.8 253.6M188.3 69.4L193.6 73.3M142.6 207.8L140.9 206.8M150.8 197.7L152.8 200.1M189.9 182.0L189.0 183.5M156.3 91.7L155.4 92.6M148.5 136.6L150.8 137.9M150.8 153.5L153.1 154.8M139.2 94.7L140.3 96.3M200.9 167.0L200.0 170.1M191.6 160.0L190.6 160.3M132.4 209.8L132.4 208.7M154.3 209.5L153.2 209.9M169.5 98.9L169.8 100.6M153.1 147.0L153.1 149.6M138.3 208.4L136.8 208.5M173.4 217.1L169.8 214.4M221.3 178.4L219.2 184.3M193.6 228.4L190.1 223.9M137.0 150.9L137.0 153.5M188.3 142.3L188.6 144.0M139.3 102.8L141.6 101.4M198.0 135.2L198.6 137.5M157.7 139.2L157.7 141.8M157.0 90.3L158.7 91.0M176.2 226.8L173.7 222.4M160.0 156.1L162.3 157.4M162.3 186.0L164.6 187.3M164.6 150.9L166.9 152.2M191.6 100.1L194.6 103.9M166.9 186.0L169.2 187.3M141.6 174.2L143.9 173.0M187.4 147.9L185.7 148.5M162.3 141.8L162.3 144.4M157.3 200.0L155.5 200.8M169.2 140.5L171.5 141.8M198.0 100.5L194.6 103.9M173.6 189.6L173.1 188.0M184.0 191.0L182.9 192.4M148.5 152.2L150.8 153.5M183.6 171.2L181.7 171.3M176.1 152.2L178.4 150.9M166.9 149.6L166.9 152.2M186.3 174.7L185.0 175.0M139.7 93.5L140.9 94.9M206.1 148.9L206.1 152.8M147.6 211.6L146.4 211.9M175.8 104.1L175.2 105.2M160.2 98.9L160.5 100.3M236.4 165.1L229.8 167.3M203.5 210.9L199.3 215.5M153.8 253.6L158.5 246.2M156.6 98.3L157.2 100.0M178.5 187.6L177.2 187.4M172.5 107.6L172.3 108.9M173.7 102.3L174.8 103.2M137.0 166.5L137.0 169.1M137.0 106.7L139.3 108.0M171.5 175.6L171.5 178.2M139.3 118.4L141.6 117.1M187.6 182.7L186.9 183.9M193.9 134.0L192.7 134.0M187.7 130.5L188.1 131.7M157.7 144.4L160.0 145.7M153.8 71.0L159.0 72.6M160.0 171.7L162.3 173.0M219.2 117.4L215.4 122.7M201.9 97.5L194.5 96.4M141.6 135.2L141.6 137.9M205.9 124.9L207.4 129.5M139.3 178.2L141.6 179.5M204.9 164.5L201.5 163.8M141.6 189.9L143.9 188.6M152.1 91.4L153.2 91.8M166.9 118.4L169.2 117.1M178.7 194.7L178.5 193.2M212.2 129.5L207.4 129.5M183.7 249.9L176.9 253.2M176.1 167.8L178.4 166.5M146.2 104.0L146.2 106.7M182.3 121.5L183.0 122.8M176.1 178.2L177.4 179.5M171.5 162.6L173.8 161.2M203.0 172.1L201.8 175.9M178.4 137.9L180.7 136.6M176.3 188.5L175.9 187.1M146.2 158.7L148.5 160.0M148.5 173.0L148.5 175.6M150.8 122.2L153.1 123.6M161.1 195.8L159.1 197.0M203.4 82.2L207.9 87.1M179.6 108.0L180.5 109.0M192.3 150.3L191.3 151.5M173.8 124.9L173.8 127.5M155.2 204.0L153.9 204.6M150.8 161.2L153.1 162.6M150.4 93.7L151.0 94.9M134.7 141.8L137.0 140.5M198.0 176.3L196.7 179.3M171.0 105.1L170.6 106.0M177.0 62.7L179.8 70.8M191.0 163.1L189.9 164.0M155.4 135.2L157.7 136.6M153.1 154.8L153.1 157.4M157.7 160.0L160.0 161.2M198.6 137.5L199.0 139.9M225.4 154.0L219.9 156.6M160.6 223.5L159.3 219.6M195.9 157.0L194.7 157.3M139.3 193.8L141.6 195.1M180.7 141.8L180.7 144.4M136.0 85.6L137.8 85.7M139.3 110.6L141.6 109.2M146.2 200.3L148.4 201.7M171.1 203.5L169.5 202.8M161.9 92.5L163.5 93.4M137.8 85.7L139.2 87.4M160.6 233.9L159.0 229.1M185.3 202.3L182.1 200.6M160.1 208.3L159.7 207.2M162.3 144.4L162.3 147.0M171.5 178.2L173.8 176.9M143.9 162.6L146.2 163.9M183.6 130.5L182.5 132.6M194.5 158.5L194.4 159.7M182.5 177.1L181.1 176.7M148.5 121.0L150.8 122.2M173.8 143.1L176.1 141.8M187.4 153.8L185.5 155.5M190.2 152.3L189.0 150.8M224.6 115.3L226.8 121.6M164.5 104.3L162.5 104.7M169.9 193.2L168.8 192.2M134.7 102.8L134.7 105.3M148.5 160.0L150.8 161.2M146.9 206.9L145.5 207.2M202.1 141.1L199.3 142.3M197.4 143.7L195.7 143.4M166.9 157.4L166.9 160.0M134.7 157.4L137.0 156.1M196.0 173.5L193.6 173.8M188.5 193.2L186.5 195.8M153.1 128.8L155.4 130.1M219.1 198.3L214.0 195.6M178.7 107.0L177.7 107.6M153.1 170.4L153.1 173.0M132.4 228.8L136.3 224.5M190.1 223.9L185.1 227.6M190.0 134.4L189.3 135.3M173.8 122.2L176.1 120.3M139.0 249.4L138.6 243.7M137.0 174.2L137.0 176.9M188.6 157.7L188.3 159.4M169.8 87.3L169.4 91.1M139.3 126.2L141.6 124.9M157.7 162.6L157.7 165.2M162.5 104.7L164.1 105.8M192.7 171.6L191.2 172.2M169.3 82.2L173.4 84.6M164.6 174.2L166.9 175.6M209.4 138.9L210.0 143.7M166.6 95.2L164.9 96.0M137.8 216.0L137.8 214.4M177.0 100.2L176.7 102.8M186.8 159.8L185.3 157.8M135.6 80.6L137.3 83.5M146.2 106.7L146.2 109.2M223.6 215.2L218.2 211.4M140.3 205.4L138.4 205.6M172.4 110.8L171.7 112.3M214.9 145.4L210.0 143.7M146.2 161.2L148.5 162.6M172.5 202.4L171.1 203.5M141.9 87.8L142.9 89.1M161.7 101.0L160.2 101.6M183.7 177.6L182.5 177.1M169.4 91.1L169.3 94.3M185.1 112.1L183.9 113.2M176.1 175.6L178.4 174.2M166.9 173.0L166.9 175.6M176.0 111.2L174.3 111.0M182.8 181.4L182.3 180.2M175.3 112.1L173.6 112.1M163.1 202.3L163.5 200.9M173.4 193.2L173.3 191.8M148.5 180.8L148.5 183.4M157.0 240.6L150.9 242.0M151.4 207.6L152.2 206.4M154.9 199.2L152.8 200.1M208.5 134.2L204.9 137.2M153.1 149.6L155.4 150.9M137.0 189.9L137.0 192.5M191.3 126.3L190.4 127.3M163.1 99.4L163.5 100.8M137.0 130.1L139.3 131.4M173.8 132.7L173.8 135.2M139.3 141.8L141.6 140.5M186.9 111.0L188.3 113.0M199.3 86.2L198.3 93.1M150.8 104.0L150.6 100.7M187.1 186.6L186.2 185.1M169.4 210.6L167.2 208.7M190.6 141.4L190.8 142.7M157.7 167.8L160.0 169.1M222.9 172.4L217.1 173.5M145.3 89.6L146.4 89.8M162.3 157.4L164.6 158.7M141.6 158.7L141.6 161.2M195.4 161.0L194.2 160.8M174.0 201.3L173.7 199.4M134.2 85.5L133.8 87.1M143.9 110.6L146.2 109.2M161.8 95.6L162.8 96.2M166.9 141.8L169.2 140.5M143.9 165.2L146.2 166.5M134.7 97.6L137.0 97.7M139.6 46.1L146.7 46.8M210.6 177.4L207.4 172.2M176.9 48.5L167.6 51.9M187.6 133.5L188.0 134.9M152.5 211.4L151.0 210.6M185.3 202.3L182.4 205.1M159.7 207.2L158.6 207.7M218.2 90.3L215.7 97.7M167.7 198.1L166.6 197.5M148.5 196.4L148.5 199.0M198.7 77.6L190.1 77.8M190.0 167.3L189.3 166.4M145.2 209.3L144.9 208.5M150.8 145.7L153.1 147.0M193.8 116.6L190.8 117.1M194.2 129.6L192.3 128.8M141.7 203.4L139.4 203.7M160.6 78.2L159.3 82.1M165.8 101.2L164.6 101.5M134.7 110.6L134.7 113.2M185.1 179.2L184.7 178.1M142.6 207.8L141.2 208.0M134.7 165.2L137.0 163.9M193.1 180.3L191.5 178.7M202.1 160.6L199.0 161.8M197.7 154.5L196.1 154.3M155.4 158.7L157.7 160.0M153.1 178.2L153.1 180.8M165.9 231.8L160.6 233.9M193.5 169.0L192.7 167.7M141.6 114.5L143.9 115.8M151.9 88.5L153.6 89.0M164.6 122.2L166.9 121.0M167.3 108.2L168.8 109.5M180.7 152.2L183.0 153.5M175.3 101.6L176.7 102.8M186.4 161.7L184.9 160.1M148.5 69.8L146.7 74.2M189.6 142.1L189.8 143.5M186.8 141.9L184.9 141.6M162.3 167.8L162.3 170.4M143.9 186.0L146.2 187.3M176.8 183.4L176.1 181.4M160.2 101.6L160.8 103.7M132.4 216.2L133.8 214.6M182.2 105.3L180.5 106.6M148.5 144.4L150.8 145.7M175.3 101.6L173.7 102.3M145.3 81.7L144.5 84.5M149.7 95.7L149.2 96.8M188.4 165.3L186.9 166.0M228.5 173.8L226.8 180.1M208.6 232.4L204.1 227.6M168.3 98.1L169.5 98.9M175.9 114.6L175.6 116.7M187.7 171.2L186.6 170.9M134.7 126.2L134.7 128.8M145.9 88.5L146.4 89.8M148.5 183.4L150.8 184.7M171.0 196.6L170.6 195.7M165.4 103.4L164.5 104.3M132.4 169.1L134.7 170.4M133.9 208.7L132.4 208.7M178.5 114.1L177.2 114.3M134.7 180.8L137.0 179.5M209.4 138.9L205.5 141.1M180.7 184.6L179.9 183.9M196.7 179.3L195.1 175.8M153.1 152.2L155.4 153.5M177.0 239.0L174.4 233.9M134.9 92.0L136.2 92.0M174.8 207.0L175.2 203.1M189.6 179.1L189.0 180.4M137.0 197.7L137.0 200.3M190.8 142.7L190.9 143.9M178.4 156.1L178.4 158.7M137.0 137.9L139.3 139.2M184.7 172.5L184.0 174.1M194.9 111.7L190.4 111.1M139.3 149.6L141.6 148.2M173.8 182.1L176.1 181.4M175.6 116.7L176.8 118.3M183.0 143.1L184.9 141.6M199.9 111.9L202.2 116.1M148.6 207.5L147.4 207.9M151.9 202.4L150.0 203.0M204.2 181.2L202.2 185.6M146.2 145.7L148.5 147.0M135.8 207.3L136.4 205.8M146.2 130.1L146.2 132.7M176.1 160.0L178.4 158.7M169.8 256.0L167.6 249.8M141.7 98.3L143.9 98.8M146.2 184.7L148.5 186.0M153.8 90.8L153.2 91.8M172.3 108.9L172.4 110.8M150.8 148.2L153.1 149.6M169.2 119.7L169.2 122.2M182.8 120.3L182.3 121.5M176.0 190.5L174.3 190.7M202.1 160.6L201.5 163.8M145.6 52.9L150.9 59.7M154.4 206.5L153.3 205.9M156.5 208.6L155.4 209.1M157.4 96.4L156.8 97.2M188.9 134.1L188.0 134.9M228.7 109.0L224.6 115.3M142.4 92.8L143.7 93.0M212.0 92.2L203.5 90.8M185.5 186.2L184.7 187.3M168.5 103.0L167.7 103.6M194.9 138.0L193.5 137.4M137.0 153.5L139.3 154.8M157.7 152.2L160.0 153.5M196.7 130.5L197.4 132.8M224.1 135.4L219.3 139.4M157.7 134.0L157.7 136.6M191.3 152.7L191.3 154.0M201.8 175.9L199.1 173.2M155.4 92.6L156.5 93.1M162.3 180.8L164.6 182.1M162.5 258.3L155.1 260.1M156.2 87.7L153.6 89.0M155.1 41.6L160.7 49.8M173.8 130.1L176.1 128.8M184.3 125.4L185.0 126.7M198.7 69.4L204.1 74.1M169.2 135.2L171.5 136.6M171.5 170.4L173.8 169.1M175.9 187.1L175.6 185.0M194.9 155.0L194.8 156.1M190.1 146.5L190.2 147.9M160.2 200.1L160.8 198.0M215.7 97.7L219.1 103.4M132.4 72.9L136.3 77.2M140.6 214.1L140.6 212.9M149.8 211.0L148.7 211.3M237.4 150.8L231.2 154.2M210.8 200.9L207.3 206.0M153.9 97.1L154.0 98.6M134.7 149.6L137.0 148.2M173.4 107.2L173.4 108.5M171.6 100.6L172.7 101.4M155.4 143.1L157.7 144.4M199.6 144.8L199.8 147.2M155.4 182.1L157.7 183.4M158.5 246.2L157.0 240.6M184.0 174.1L183.3 175.6M143.2 68.9L148.5 69.8M160.0 166.5L162.3 167.8M141.6 130.1L141.6 132.7M157.3 101.7L159.1 102.7M162.3 113.2L164.6 111.8M141.6 184.7L143.9 183.4M166.6 95.2L168.1 96.1M180.5 192.7L180.1 191.4M162.3 152.2L162.3 154.8M169.2 150.9L171.5 152.2M179.1 121.6L180.1 123.3M143.2 215.3L141.9 213.9M179.9 120.1L178.0 119.9M150.9 204.3L150.0 203.0M204.9 164.5L204.1 168.4M178.1 186.3L178.0 184.4M168.6 107.4L167.3 108.2M146.2 153.5L148.5 154.8M176.7 198.9L175.3 200.1M228.7 192.7L222.0 192.4M187.7 139.0L186.0 138.0M148.5 167.8L150.8 169.1M132.4 153.5L134.7 154.8M166.9 165.2L166.9 167.8M165.4 198.3L165.9 196.4M147.6 261.4L146.7 254.9M177.7 106.0L178.7 107.0M192.2 148.2L191.3 149.0M157.6 92.3L156.5 93.1M132.4 192.5L134.7 193.8M148.3 93.1L148.6 94.2M204.2 181.2L201.8 175.9M153.1 175.6L155.4 176.9M200.0 170.1L199.1 173.2M164.8 57.5L168.7 65.2M191.4 161.0L190.4 161.5M138.6 58.0L138.1 63.4M160.3 97.9L160.2 98.9M173.7 79.3L178.3 82.1M183.1 189.5L182.3 190.6M180.7 136.6L180.7 139.2M160.7 212.1L158.7 210.7M196.0 146.1L194.9 146.7M156.5 93.1L157.6 93.5M155.7 205.0L154.5 205.5M210.3 153.2L210.0 158.0M196.9 186.6L195.4 182.2M171.2 229.5L168.9 225.0M190.4 196.4L186.5 195.8M146.2 114.5L146.2 117.1M159.1 199.0L159.1 197.0M166.9 134.0L169.2 132.7M137.4 209.6L136.2 209.7M143.9 157.4L146.2 158.7M178.4 148.2L180.7 147.0M140.0 262.2L132.4 262.4M146.2 169.1L148.5 170.4M194.8 156.1L194.7 157.3M176.9 48.5L180.7 57.6M137.8 233.3L142.0 228.2M173.8 137.9L176.1 136.6M184.4 103.5L183.8 107.2M153.8 48.1L152.1 54.0M157.9 202.8L157.2 201.7M219.1 103.4L222.0 109.3M161.1 105.9L163.0 107.2M160.2 202.8L160.5 201.4M192.8 193.3L190.4 196.4M137.8 210.5L138.7 209.5M186.3 127.0L185.0 126.7M148.5 188.6L148.5 191.2M150.8 171.7L153.1 173.0M164.6 189.9L164.9 193.2M192.2 187.9L190.4 190.6M198.7 77.6L199.3 86.2M194.2 129.6L193.1 131.4M146.4 211.9L145.3 212.1M176.8 105.0L176.0 106.0M153.1 108.0L155.4 106.7M231.2 147.5L225.0 141.5M142.0 228.2L144.1 223.7M199.3 215.5L194.8 219.9M177.7 195.7L176.8 196.7M197.7 149.0L196.2 150.2M180.7 152.2L180.7 154.8M137.0 176.9L139.3 178.2M188.9 154.3L188.7 156.0M139.3 121.0L141.6 119.7M153.1 105.3L152.8 101.6M199.9 152.1L199.8 154.5M216.8 190.0L211.0 189.6M162.3 165.2L164.6 166.5M157.7 157.4L157.7 160.0M142.1 84.1L143.2 86.4M165.1 207.5L164.9 205.7M168.1 96.1L169.6 97.1M144.9 86.7L144.6 88.2M138.1 238.3L137.8 233.3M164.6 114.5L166.9 113.2M164.9 97.3L165.9 98.0M160.0 174.2L162.3 175.6M160.7 49.8L167.6 51.9M196.8 59.7L187.0 61.1M163.5 93.4L162.5 94.6M141.6 192.5L143.9 191.2M162.3 160.0L162.3 162.6M132.4 101.4L134.7 100.2M148.6 212.6L147.6 211.6M169.9 108.5L168.8 109.5M164.5 197.4L162.5 197.0M169.2 158.7L171.5 160.0M175.3 200.1L174.0 201.3M243.7 158.5L237.4 150.8M185.0 175.0L184.0 174.1M166.9 167.8L166.9 170.4M189.6 159.6L189.3 161.1M145.9 205.8L144.2 204.6M231.2 154.2L230.7 160.7M173.4 84.6L169.8 87.3M175.3 189.6L174.7 188.4M139.5 213.0L138.3 213.2M182.3 111.1L180.8 111.2M218.2 211.4L212.0 209.5M134.7 118.4L134.7 121.0M184.1 120.6L182.8 120.3M168.7 236.5L162.9 238.7M134.7 173.0L137.0 171.7M197.1 159.8L195.7 158.3M153.1 144.4L155.4 145.7M180.5 109.0L181.4 110.0M185.4 192.7L184.0 191.0M196.7 179.3L193.1 180.3M187.3 164.4L186.9 166.0M173.8 127.5L173.8 130.1M139.3 136.6L141.6 135.2M198.0 166.5L197.4 168.9M191.5 178.7L190.7 176.7M165.1 209.9L165.1 207.5M157.7 173.0L157.7 175.6M174.8 207.0L171.3 206.0M189.0 183.5L187.6 182.7M158.5 213.1L157.0 211.4M190.1 139.0L190.4 140.2M186.9 88.7L190.8 92.4M160.0 189.9L162.3 191.2M142.9 89.1L144.1 89.4M218.4 133.7L212.2 129.5M141.6 153.5L141.6 156.1M171.7 112.3L173.1 113.7M190.2 84.9L190.8 92.4M143.9 105.3L146.2 104.0M166.9 136.6L169.2 135.2M162.3 175.6L162.3 178.2M213.4 167.0L209.4 162.8M173.1 188.0L171.7 186.9M190.8 117.1L189.0 118.2M146.2 122.2L146.2 124.9M163.7 87.9L162.9 90.7M190.4 196.4L187.9 199.4M178.4 156.1L180.7 154.8M169.0 195.7L167.3 195.4M146.2 176.9L148.5 178.2M186.8 128.1L185.6 128.0M169.6 196.5L169.0 195.7M169.0 106.0L168.6 107.4M148.5 191.2L148.5 193.8M132.4 176.9L134.7 178.2M199.3 142.3L197.1 141.9M147.3 208.8L147.4 207.9M187.1 132.1L185.9 132.4M150.8 140.5L153.1 141.8M146.2 202.4L143.9 202.9M190.4 111.1L188.3 113.0M210.3 153.2L206.1 152.8M199.9 149.6L197.8 150.8M193.0 126.3L191.3 126.3M180.7 117.1L179.9 117.8M153.1 160.0L155.4 161.2M185.5 115.5L186.2 116.6M190.8 142.7L189.6 142.1M192.2 154.6L191.3 154.0M134.5 210.7L134.9 209.7M173.8 143.1L173.8 145.7M197.5 145.5L195.9 144.7M186.5 195.8L184.4 198.2M212.0 92.2L210.8 100.8M191.2 146.4L191.3 147.7M153.1 173.0L153.1 175.6M157.7 178.2L160.0 179.5M137.0 145.7L139.3 147.0M206.5 114.3L208.7 119.2M214.0 195.6L208.3 194.7M174.8 198.5L173.7 199.4M141.6 169.1L141.6 171.7M160.0 122.2L162.3 121.0M141.6 109.2L143.9 110.6M180.7 160.0L180.7 162.6M143.9 121.0L146.2 119.7M164.6 117.1L166.9 115.8M144.9 208.5L143.7 208.7M157.7 165.2L157.7 167.8M149.3 85.5L148.4 87.5M180.7 147.0L183.0 148.2M150.2 88.0L148.6 89.1M137.8 68.4L137.2 73.1M195.0 149.1L195.0 150.3M156.2 87.7L157.0 90.3M162.9 218.0L163.7 213.8M146.2 137.9L146.2 140.5M147.3 212.9L146.4 211.9M143.9 180.8L146.2 182.1M188.3 159.4L187.0 157.8M146.2 192.5L148.5 193.8M193.0 166.6L192.7 167.7M178.8 101.9L178.0 104.0M173.8 161.2L176.1 160.0M189.1 162.5L187.7 162.7M230.7 160.7L229.8 167.3M132.4 109.2L134.7 108.0M149.8 207.2L148.3 206.5M134.7 121.0L134.7 123.6M136.2 92.0L136.8 93.2M183.0 178.9L181.7 178.6M150.8 114.5L150.8 117.1M136.8 208.5L135.3 208.6M178.5 112.7L177.7 113.1M187.9 173.4L186.8 173.6M134.7 175.6L137.0 174.2M172.1 208.9L169.4 210.6M199.1 173.2L196.7 171.2M153.1 188.6L153.1 191.2M150.9 242.0L144.8 243.1M157.7 110.6L160.0 109.2M137.0 192.5L137.0 195.1M155.4 174.2L157.7 175.6M185.9 169.3L185.3 170.9M190.4 105.3L186.5 105.9M139.3 144.4L141.6 143.1M196.0 173.5L195.1 175.8M181.1 78.0L173.7 79.3M157.7 180.8L157.7 183.4M166.6 212.3L165.1 209.9M189.0 180.4L187.9 179.7M164.6 137.9L166.9 136.6M141.6 161.2L141.6 163.9M143.9 196.4L146.2 197.7M169.2 143.1L171.5 144.4M182.9 192.4L181.7 193.8M139.2 207.0L140.3 205.4M182.8 173.1L180.7 173.4M146.2 124.9L148.5 123.6M137.0 97.7L139.4 98.0M132.4 124.9L134.7 123.6M208.7 182.5L205.9 176.8M146.2 97.5L143.9 98.8M161.9 209.2L160.3 210.0M170.1 107.0L169.9 108.5M169.2 114.5L169.2 117.1M180.7 167.8L183.3 166.9M177.7 188.6L176.3 188.5M157.9 98.9L158.7 100.8M156.4 205.7L155.7 205.0M167.6 249.8L164.8 244.2M139.9 92.4L141.2 92.6M166.6 198.8L165.4 198.3M143.8 63.9L149.5 64.9M132.4 184.7L134.7 186.0M144.1 209.6L143.7 208.7M139.4 203.7L137.0 204.0M208.5 167.5L204.9 164.5M153.1 167.8L155.4 169.1M204.2 181.2L198.7 183.1M139.3 105.3L139.3 108.0M194.3 135.3L193.0 135.1M137.0 148.2L139.3 149.6M181.7 178.6L180.8 180.1M157.7 147.0L160.0 148.2M173.8 150.9L173.8 153.5M221.3 123.3L217.1 128.2M205.3 102.1L198.0 100.5M191.3 150.2L191.3 151.5M157.7 186.0L160.0 187.3M162.3 121.0L164.6 119.7M212.2 129.5L213.4 134.7M153.2 91.8L154.3 92.2M205.9 145.0L202.4 144.4M166.9 121.0L169.2 119.7M141.6 176.9L141.6 179.5M174.8 198.5L173.4 198.1M141.6 117.1L143.9 118.4M182.0 126.8L182.8 128.6M143.9 128.8L146.2 127.5M196.9 186.6L192.2 187.9M166.9 160.0L169.2 158.7M150.6 100.7L152.8 101.6M201.8 175.9L200.4 179.5M180.7 154.8L183.0 156.1M148.3 206.5L149.2 204.9M188.6 144.0L187.0 143.9M189.8 143.5L190.0 145.0M132.4 45.9L132.4 52.0M162.9 218.0L159.3 219.6M161.3 94.0L159.7 94.5M150.8 117.1L150.8 119.7M132.4 200.3L134.7 201.6M224.6 115.3L216.8 111.7M164.9 96.0L164.9 97.3M187.5 174.4L186.3 174.7M150.8 163.9L153.1 165.2M171.8 105.8L171.6 106.8M181.2 185.6L180.0 185.6M180.5 115.2L180.0 116.1M156.0 225.1L155.6 220.9M190.9 157.8L190.8 159.0M171.0 241.8L168.7 236.5M141.6 132.7L143.9 134.0M183.0 153.5L183.0 156.1M163.5 93.4L165.1 94.2M164.6 140.5L166.9 139.2M155.1 235.5L153.8 230.7M182.4 205.1L179.8 202.8M133.7 209.8L132.4 209.8M182.7 85.3L177.4 87.2M194.4 159.7L194.2 160.8M173.8 145.7L176.1 144.4M154.0 203.1L153.7 201.6M226.8 121.6L228.5 127.9M134.1 207.4L134.4 205.9M148.5 162.6L150.8 163.9M150.8 179.5L153.1 180.8M190.9 157.8L190.0 156.7M207.9 214.6L203.4 219.5M134.7 144.4L134.7 147.0M142.9 212.6L141.8 212.7M153.1 115.8L155.4 114.5M140.9 94.9L142.6 95.2M185.1 227.6L179.8 230.9M178.4 127.5L179.7 126.2M132.4 249.7L132.4 243.9M197.1 159.8L195.4 161.0M143.7 93.0L144.9 93.2M139.3 128.8L141.6 127.5M184.7 187.3L183.9 188.5M139.3 113.2L139.3 115.8M191.5 178.7L189.6 179.1M162.3 123.6L164.6 122.2M179.0 183.0L178.0 184.4M139.3 167.8L141.6 166.5M160.0 182.1L162.3 183.4M213.4 117.3L206.5 114.3M160.0 117.1L160.0 119.7M218.4 133.7L214.3 140.1M210.0 143.7L210.3 148.5M162.5 197.0L163.0 194.5M169.2 166.5L171.5 167.8M171.6 201.1L170.7 200.4M171.1 203.5L169.6 204.6M140.3 96.3L141.7 98.3M166.9 175.6L166.9 178.2M160.5 201.4L160.2 200.1M139.6 46.1L139.0 52.3M184.7 129.2L183.6 130.5M157.0 103.5L159.1 104.7M162.4 201.6L163.0 199.9M150.8 111.8L153.1 110.6M196.9 186.6L194.9 190.0M176.3 113.2L174.7 113.3M144.0 207.5L144.3 206.2M185.2 124.7L183.7 124.1M146.2 92.6L144.9 93.2M183.1 112.2L183.9 113.2M151.0 94.9L152.2 95.3M173.8 135.2L173.8 137.9M229.8 134.4L222.9 129.3M178.4 171.7L181.7 171.3M179.6 193.7L178.7 194.7M153.1 191.2L155.4 192.5M174.2 107.9L174.3 109.4M186.1 188.1L185.5 186.2M151.6 215.5L151.9 213.2M137.0 171.7L139.3 173.0M157.7 170.4L160.0 171.7M199.8 147.2L199.9 149.6M221.3 178.4L215.4 179.0M132.4 77.1L135.6 80.6M190.4 161.5L190.1 162.7M160.0 192.5L163.0 194.5M162.8 96.2L163.9 96.7M166.9 144.4L169.2 143.1M146.7 46.8L153.8 48.1M164.9 205.7L164.9 204.4M143.9 152.2L146.2 150.9M173.8 148.2L176.1 147.0M160.3 210.0L158.8 208.9M150.2 88.0L151.2 89.9M148.5 110.6L150.8 109.2M171.5 118.4L173.3 116.6M151.2 211.8L149.8 211.0M182.4 205.1L179.5 207.6M181.5 120.3L180.8 121.6M193.8 163.1L193.5 164.3M190.0 156.7L189.8 158.2M188.4 136.4L187.3 137.3M230.7 141.0L231.2 147.5M165.0 80.1L162.9 83.7M199.1 128.5L196.7 130.5M144.9 93.2L144.0 94.2M191.2 146.4L190.1 146.5M141.8 212.7L140.6 212.9M225.6 199.2L219.1 198.3M184.6 180.2L184.1 179.2M132.4 91.9L132.4 93.0M148.5 170.4L150.8 171.7M228.5 173.8L224.1 166.3M174.8 103.2L173.4 103.6M150.8 187.3L153.1 188.6M176.4 110.3L175.2 110.3M134.7 167.8L137.0 166.5M179.8 202.8L177.3 205.0M201.5 163.8L198.6 164.2M197.5 156.2L196.0 155.6M188.3 188.7L186.1 188.1M155.4 161.2L157.7 162.6M153.1 180.8L153.1 183.4M184.7 114.4L184.3 115.9M199.0 161.8L198.6 164.2M203.5 210.9L198.3 208.6M155.6 80.8L154.7 84.2M160.0 130.1L162.3 128.8M144.8 58.6L143.8 63.9M178.3 82.1L182.7 85.3M164.6 124.9L166.9 123.6M168.8 99.9L169.8 100.6M141.6 156.1L143.9 157.4M168.8 109.5L170.3 110.9M190.7 176.7L189.5 176.6M181.1 78.0L182.7 85.3M176.7 102.8L178.0 104.0M153.8 71.0L151.4 75.3M150.2 213.7L151.2 211.8M146.2 111.8L148.5 110.6M162.3 170.4L162.3 173.0M169.2 169.1L171.5 170.4M175.6 185.0L174.7 183.3M210.0 158.0L209.4 162.8M192.0 170.0L191.6 171.1M148.5 82.4L146.9 84.9M176.7 102.8L174.8 103.2M171.5 128.8L173.8 130.1M173.8 169.1L176.1 167.8M188.3 113.0L187.1 115.1M157.8 85.3L158.5 88.6M157.3 200.0L157.0 198.2M226.8 180.1L224.6 186.4M188.3 96.6L182.4 96.6M171.2 193.8L169.9 193.2M176.9 116.0L176.8 118.3M146.2 171.7L148.5 173.0M166.6 206.5L165.1 207.5M198.7 232.3L193.6 228.4M171.6 194.9L171.2 193.8M148.5 186.0L150.8 187.3M166.6 104.2L165.9 105.3M132.4 171.7L134.7 173.0M166.9 183.4L166.9 186.0M186.5 105.9L185.4 109.0M156.6 203.4L155.6 202.4M210.0 143.7L205.9 145.0M134.7 183.4L137.0 182.1M180.7 167.8L181.7 171.3M183.9 113.2L184.7 114.4M172.6 195.2L171.6 194.9M179.0 116.6L178.0 117.3M136.7 91.1L136.2 92.0M189.0 121.3L187.9 122.0M155.6 99.3L157.2 100.0M157.7 118.4L160.0 117.1M153.1 193.8L155.4 195.1M179.8 70.8L176.2 74.9M201.1 104.9L204.0 109.5M196.9 115.1L192.2 113.8M139.3 152.2L141.6 150.9M201.8 125.8L199.1 128.5M176.8 196.7L175.8 197.6M180.7 154.8L180.7 157.4M205.3 102.1L204.0 109.5M196.0 155.6L194.9 155.0M148.5 219.3L146.9 216.8M179.2 196.4L178.7 194.7M184.0 110.7L185.1 112.1M147.4 207.9L146.1 208.2M202.2 185.6L199.9 189.8M163.5 208.3L163.7 206.4M169.2 184.7L171.7 186.9M146.2 132.7L146.2 135.2M146.2 204.2L143.9 202.9M166.9 152.2L169.2 150.9M178.4 166.5L180.7 165.2M143.9 98.8L146.2 99.3M167.6 51.9L174.2 54.6M151.9 99.3L150.6 100.7M146.2 187.3L148.5 188.6M190.8 209.3L184.9 208.4M169.2 122.2L169.2 124.9M198.7 69.4L193.6 73.3M148.5 118.4L150.8 117.1M173.3 116.6L174.7 118.4M132.4 104.0L134.7 102.8M152.2 206.4L151.1 205.6M150.8 135.2L153.1 134.0M173.2 212.3L169.8 214.4M133.7 91.9L133.9 93.0M189.3 135.3L188.4 136.4M150.8 109.2L150.8 111.8M155.4 109.2L157.7 108.0M177.1 111.0L176.0 111.2M161.3 94.0L161.8 95.6M188.6 171.4L187.7 171.2M177.3 205.0L174.8 207.0M224.6 115.3L221.3 123.3M148.6 94.2L148.3 95.2M197.1 141.9L195.4 140.7M161.3 99.5L162.4 100.1M137.0 156.1L139.3 157.4M173.8 158.7L173.8 161.2M170.6 202.0L169.5 202.8M183.8 194.5L182.9 192.4M195.4 182.2L192.0 182.5M155.4 169.1L157.7 170.4M183.0 140.5L183.0 143.1M137.0 195.1L139.3 196.4M197.4 168.9L196.7 171.2M190.1 223.9L185.8 220.4M157.7 175.6L157.7 178.2M184.9 208.4L181.3 211.6M141.6 124.9L143.9 126.2M190.2 177.9L189.0 177.6M164.6 132.7L166.9 131.4M171.6 102.1L172.5 102.8M204.1 74.1L209.1 79.2M169.2 137.9L171.5 139.2M231.5 99.5L222.1 96.3M184.3 169.4L182.5 169.1M146.2 119.7L148.5 118.4M180.7 134.0L181.7 130.4M190.2 147.9L190.2 149.4M148.5 134.0L150.8 132.7M162.3 178.2L162.3 180.8M137.2 73.1L140.2 77.5M139.2 214.3L139.5 213.0M132.4 119.7L134.7 118.4M171.7 189.4L170.1 188.6M179.9 183.9L178.0 184.4M150.8 124.9L150.8 127.5M187.1 169.6L186.6 170.9M140.6 87.6L140.6 88.8M219.1 198.3L215.7 204.0M180.7 244.1L177.0 239.0M134.7 136.6L134.7 139.2M187.5 127.3L186.8 128.1M132.4 63.2L138.1 63.4M135.8 94.4L137.5 94.5M182.4 117.9L182.1 119.2M210.0 158.0L205.9 156.7M134.7 191.2L137.0 189.9M153.1 162.6L155.4 163.9M155.4 184.7L157.7 186.0M155.4 111.8L155.4 114.5M192.0 182.5L190.8 184.6M157.0 240.6L155.1 235.5M157.7 191.2L157.7 193.8M154.7 217.5L156.2 214.0M162.3 115.8L164.6 114.5M208.7 119.2L210.6 124.3M164.6 148.2L166.9 147.0M204.9 137.2L201.5 137.9M141.6 171.7L141.6 174.2M180.1 123.3L181.1 125.0M143.9 123.6L146.2 122.2M187.1 115.1L188.1 116.6M183.0 161.2L184.5 162.4M146.2 135.2L148.5 134.0M164.6 111.8L164.6 114.5M153.7 100.1L152.8 101.6M188.0 140.7L186.4 140.0M134.4 95.8L134.7 97.6M143.9 100.2L146.2 99.3M146.2 140.5L146.2 143.1M140.0 262.2L139.6 255.6M146.2 195.1L148.5 196.4M134.7 152.2L134.7 154.8M132.4 195.1L134.7 196.4M162.5 94.6L162.8 96.2M139.9 210.3L138.7 209.5M150.8 158.7L153.1 160.0M169.2 130.1L169.2 132.7M153.1 178.2L155.4 179.5M190.2 123.8L190.7 125.0M191.2 162.1L190.1 162.7M173.8 161.2L173.8 163.9M147.4 93.8L148.6 94.2M155.4 117.1L157.7 115.8M132.4 101.4L132.4 97.5M160.0 109.2L163.0 107.2M216.8 111.7L211.0 112.1M162.3 131.4L164.6 130.1M215.0 150.8L214.9 156.3M137.0 163.9L139.3 165.2M196.1 147.4L194.9 147.9M186.1 188.1L183.9 188.5M139.3 201.6L141.7 203.4M205.5 160.6L202.4 157.3M167.2 204.3L166.0 205.0M141.6 127.5L143.9 128.8M184.9 134.2L185.5 136.1M183.0 148.2L183.0 150.9M220.1 150.8L214.9 156.3M187.9 199.4L184.4 198.2M136.2 209.7L134.9 209.7M173.4 217.1L169.3 219.5M189.0 150.8L187.5 151.8M194.7 157.3L194.5 158.5M183.7 51.8L187.0 61.1M146.2 156.1L146.2 158.7M173.8 140.5L176.1 139.2M160.7 49.8L158.5 55.5M143.9 199.0L146.2 200.3M163.0 107.2L164.9 108.5M185.3 170.9L183.6 171.2M190.1 146.5L188.7 145.7M139.7 208.2L139.2 207.0M134.7 108.0L137.0 109.2M144.9 208.5L145.5 207.2M190.2 152.3L190.2 153.8M132.4 127.5L134.7 126.2M141.2 92.6L139.7 93.5M153.1 110.6L155.4 109.2M150.8 132.7L150.8 135.2M137.5 94.5L139.2 94.7M155.4 132.7L157.7 131.4M151.6 218.5L148.5 219.3M228.5 173.8L221.3 178.4M155.4 114.5L155.4 117.1M188.6 130.3L188.1 131.7M137.0 179.5L139.3 180.8M199.8 154.5L199.6 156.9M162.3 110.6L164.9 108.5M144.1 78.0L145.3 81.7M155.4 192.5L157.7 193.8M180.8 180.1L179.9 181.6M188.3 188.7L186.9 190.7M138.6 243.7L138.1 238.3M160.0 176.9L162.3 178.2M135.3 93.1L136.8 93.2M160.0 111.8L160.0 114.5M141.6 148.2L143.9 149.6M183.9 188.5L183.7 186.8M164.6 156.1L166.9 154.8M146.2 104.0L148.5 102.8M150.2 213.7L148.6 212.6M235.2 129.5L236.4 136.6M169.2 161.2L171.5 162.6M182.8 128.6L183.6 130.5M174.0 201.3L172.5 202.4M176.1 126.2L178.4 127.5M146.2 143.1L148.5 141.8M171.5 121.0L173.8 122.2M132.4 87.1L133.6 88.3M183.3 126.1L182.0 126.8M189.3 161.1L189.1 162.5M132.4 143.1L134.7 141.8M150.8 106.7L153.1 105.3M174.3 111.0L172.4 110.8M188.3 96.6L187.9 102.3M138.3 213.2L137.1 213.3M153.1 126.2L155.4 124.9M213.8 217.1L207.9 214.6M188.7 145.7L187.3 145.9M166.7 199.9L166.6 198.8M162.4 100.1L161.7 101.0M189.7 133.4L188.5 132.9M139.0 52.3L138.6 58.0M134.7 160.0L134.7 162.6M148.6 94.2L149.8 94.5M134.7 100.2L137.0 101.4M150.9 97.4L152.5 98.0M137.0 111.8L139.3 110.6M153.1 186.0L155.4 187.3M139.3 123.6L139.3 126.2M174.7 188.4L173.6 189.6M157.7 165.2L160.0 166.5M190.8 92.4L194.5 96.4M196.9 115.1L195.4 119.5M190.8 159.0L190.6 160.3M162.3 139.2L164.6 137.9M213.4 167.0L212.2 172.2M182.9 192.4L181.4 191.7M144.5 217.2L143.2 215.3M160.8 95.0L161.8 95.6M166.9 139.2L169.2 137.9M141.6 195.1L141.6 197.7M167.2 204.3L166.9 203.1M186.4 140.0L186.8 141.9M143.9 147.0L146.2 145.7M132.4 205.9L132.4 204.2M179.5 207.6L177.3 205.0M171.5 136.6L173.8 137.9M166.9 178.2L169.2 176.9M164.6 135.2L164.6 137.9M148.5 105.3L150.8 104.0M151.9 202.4L150.6 201.0M184.0 110.7L182.3 111.1M171.5 183.4L173.8 182.1M187.9 199.4L185.3 202.3M167.8 196.6L165.9 196.4M138.3 208.4L137.5 207.2M201.1 196.8L194.6 197.8M146.2 163.9L146.2 166.5M143.7 208.7L144.0 207.5M187.6 133.5L186.4 134.0M193.6 127.9L191.8 127.5M180.7 57.6L177.0 62.7M152.5 205.1L150.9 204.3M199.9 152.1L197.7 152.7M196.7 122.4L195.1 125.9M186.2 116.6L186.9 117.8M190.9 143.9L189.8 143.5M155.7 205.0L155.2 204.0M185.6 178.3L185.2 177.0M134.7 115.8L137.0 117.1M230.7 160.7L225.4 154.0M172.7 101.4L171.6 102.1M150.8 182.1L153.1 183.4M155.4 195.1L157.0 198.2M190.8 159.0L189.8 158.2M184.4 198.2L182.1 200.6M158.0 97.7L159.1 98.3M173.7 199.4L172.7 200.3M148.0 78.7L148.5 82.4M160.0 124.9L162.3 123.6M189.3 166.4L188.9 167.6M196.9 161.6L195.1 162.4M180.7 162.6L180.7 165.2M195.6 159.7L194.5 158.5M141.6 150.9L143.9 152.2M155.1 41.6L162.5 43.4M174.0 100.4L175.3 101.6M143.2 68.9L142.0 73.5M153.6 212.7L153.8 210.9M158.5 88.6L158.7 91.0M159.3 219.6L160.8 215.2M157.0 90.3L156.3 91.7M173.1 113.7L171.7 114.8M139.7 93.5L141.2 93.7M153.8 210.9L153.2 209.9M192.7 167.7L192.4 168.8M134.2 216.2L135.1 214.6M184.9 134.2L183.3 134.8M174.0 100.4L172.7 101.4M146.2 179.5L146.2 182.1M173.8 163.9L176.1 162.6M180.7 134.0L183.3 134.8M174.7 113.3L174.4 115.2M169.6 204.6L168.1 205.6M137.4 92.1L138.3 93.3M148.5 180.8L150.8 182.1M189.3 166.4L188.0 166.8M133.7 209.8L132.4 208.7M169.4 210.6L166.6 212.3M174.2 193.8L173.4 193.2M152.2 95.3L152.5 96.6M197.4 107.8L194.9 111.7M134.8 213.4L133.6 213.4M153.1 134.0L155.4 132.7M134.5 91.0L133.7 91.9M186.1 124.4L185.2 124.7M187.6 119.0L186.8 119.9M152.5 98.0L154.0 98.6M144.8 243.1L138.6 243.7M157.7 113.2L160.0 111.8M160.0 140.5L162.3 139.2M168.7 65.2L165.9 69.9M190.4 190.6L188.3 188.7M194.2 172.1L193.1 170.3M173.2 204.6L172.5 202.4M139.3 147.0L141.6 145.7M195.1 175.8L194.2 178.1M157.7 183.4L157.7 186.0M149.3 216.2L150.2 213.7M188.3 181.6L187.4 180.8M171.2 192.0L169.9 193.2M154.7 217.5L151.6 215.5M139.3 186.0L141.6 184.7M160.0 135.2L160.0 137.9M205.9 176.8L204.2 181.2M243.7 143.2L237.4 150.8M173.8 179.5L176.1 178.2M146.2 127.5L148.5 126.2M150.0 203.0L148.4 201.7M228.7 192.7L225.6 199.2M206.5 187.4L204.2 181.2M163.7 206.4L163.9 205.0M148.1 98.1L146.2 99.3M160.3 210.0L158.7 210.7M214.0 227.0L213.8 217.1M198.0 201.2L191.6 201.6M176.1 149.6L178.4 150.9M132.4 111.8L132.4 114.5M144.6 88.2L144.1 89.4M174.8 94.7L171.3 95.7M132.4 166.5L134.7 165.2M197.4 132.8L195.3 133.1M179.5 207.6L176.4 210.1M182.1 101.1L180.5 103.6M150.8 130.1L153.1 128.8M182.3 121.5L181.7 123.1M188.5 132.9L187.6 133.5M149.5 64.9L155.1 66.2M199.3 159.4L197.4 158.0M153.4 94.8L153.3 95.8M200.0 131.6L197.4 132.8M196.5 138.3L194.9 138.0M202.2 185.6L196.9 186.6M188.3 120.1L189.0 121.3M191.7 142.8L190.9 143.9M159.1 98.3L160.2 98.9M173.8 153.5L173.8 156.1M193.5 132.7L192.7 134.0M172.7 200.3L171.6 201.1M163.1 198.4L161.7 199.3M135.6 221.1L137.3 218.2M157.7 188.6L160.0 189.9M213.4 134.7L214.3 140.1M199.3 215.5L194.4 212.8M141.6 179.5L141.6 182.1M139.3 201.6L137.0 204.0M160.0 132.7L162.3 131.4M188.1 170.0L187.7 171.2M162.3 162.6L164.6 161.2M143.9 131.4L146.2 130.1M164.6 127.5L166.9 126.2M169.8 100.6L170.7 101.3M166.9 162.6L169.2 161.2M143.9 115.8L143.9 118.4M192.9 65.1L198.7 69.4M159.1 102.7L159.1 104.7M187.0 157.8L186.8 159.8M143.9 170.4L146.2 169.1M159.0 72.6L156.0 76.6M165.1 91.8L163.5 93.4M161.9 92.5L160.1 93.4M171.5 160.0L173.8 161.2M179.9 181.6L179.1 180.1M171.3 95.7L171.1 98.2M176.8 118.3L176.1 120.3M148.5 128.8L150.8 127.5M164.6 158.7L164.6 161.2M184.3 125.4L182.5 124.6M141.9 213.9L141.8 212.7M159.3 219.6L155.6 220.9M134.1 94.3L132.4 95.8M186.9 166.0L185.5 165.6M191.6 171.1L191.2 172.2M166.0 96.7L165.9 98.0M225.6 102.5L219.1 103.4M224.6 186.4L222.0 192.4M153.3 95.8L153.9 97.1M184.9 208.4L182.4 205.1M134.7 131.4L134.7 134.0M180.5 186.5L179.3 186.6M173.8 169.1L173.8 171.7M134.7 139.2L137.0 140.5M207.9 214.6L207.3 206.0M181.2 116.1L180.7 117.1M134.7 186.0L137.0 184.7M160.8 215.2L157.8 216.4M155.4 179.5L157.7 180.8M155.4 106.7L155.4 109.2M137.8 91.2L137.4 92.1M189.6 122.6L188.5 123.0M194.2 178.1L193.1 180.3M168.7 236.5L165.9 231.8M157.7 121.0L160.0 119.7M179.5 94.1L174.8 94.7M160.0 148.2L162.3 147.0M183.0 156.1L183.0 158.7M164.6 143.1L166.9 141.8M175.2 105.2L176.0 106.0M186.2 185.1L185.6 183.8M185.1 112.1L186.1 113.6M169.2 132.7L171.5 131.4M186.9 88.7L181.3 90.1M183.9 188.5L182.3 188.7M162.3 188.6L162.3 191.2M152.5 96.6L153.9 97.1M165.7 194.7L163.0 194.5M189.0 177.6L188.5 178.7M135.3 93.1L134.1 94.3M163.1 103.3L162.5 104.7M203.4 219.5L198.7 224.1M132.4 135.2L134.7 134.0M152.5 96.6L150.9 97.4M178.5 189.0L178.5 187.6M155.3 212.1L153.6 212.7M169.2 124.9L169.2 127.5M178.4 130.1L180.7 128.3M155.4 122.2L155.4 124.9M144.1 92.1L144.9 93.2M192.7 130.1L191.2 129.5M165.9 105.3L167.3 106.3M165.9 69.9L171.2 72.2M157.7 136.6L160.0 135.2M210.8 100.8L205.3 102.1M139.3 115.8L139.3 118.4M214.3 140.1L214.9 145.4M195.9 144.7L194.8 145.6M178.0 184.4L176.9 185.7M139.3 170.4L141.6 169.1M206.1 152.8L202.7 150.8M139.3 154.8L139.3 157.4M160.0 119.7L160.0 122.2M190.7 121.3L191.5 123.0M181.3 211.6L177.4 214.5M143.9 139.2L146.2 137.9M138.4 205.6L139.4 203.7M146.2 150.9L146.2 153.5M166.9 170.4L169.2 169.1M159.1 104.7L161.1 105.9M186.4 167.7L184.9 167.5M150.8 114.5L153.1 113.2M144.9 215.0L143.2 215.3M159.0 229.1L156.0 225.1M189.8 143.5L188.3 142.3M142.6 207.8L142.6 206.5M169.2 140.5L169.2 143.1M192.2 147.1L191.2 146.4M147.4 207.9L148.3 206.5M148.5 136.6L150.8 135.2M181.7 130.4L182.5 132.6M148.0 223.0L144.1 223.7M150.8 153.5L153.1 152.2M191.6 160.0L190.8 159.0M150.8 127.5L150.8 130.1M155.4 127.5L157.7 126.2M230.7 141.0L224.1 135.4M169.5 98.9L168.8 99.9M230.7 160.7L224.1 166.3M193.1 131.4L193.5 132.7M173.4 217.1L173.2 212.3M137.0 174.2L139.3 175.6M173.8 176.9L173.8 179.5M162.5 207.1L161.3 207.7M136.3 77.2L138.9 80.8M190.1 162.7L189.9 164.0M150.9 242.0L149.5 236.8M176.2 226.8L178.3 219.6M141.6 143.1L143.9 144.4M177.7 107.6L178.5 108.5M164.6 150.9L166.9 149.6M158.7 210.7L157.6 209.4M151.9 88.5L152.5 90.3M166.9 186.0L169.2 184.7M169.8 45.7L167.6 51.9M159.3 219.6L154.7 217.5M231.3 115.7L233.5 122.5M187.4 147.9L185.5 146.2M133.9 208.7L132.4 207.4M139.9 209.3L139.7 208.2M189.8 158.2L189.6 159.6M148.5 152.2L150.8 150.9M132.4 137.9L134.7 136.6M169.3 82.2L166.4 85.4M135.6 80.6L138.9 80.8M187.1 169.6L185.9 169.3M149.2 96.8L150.0 98.7M191.3 147.7L190.2 147.9M186.3 174.7L185.6 173.7M139.7 93.5L139.2 94.7M150.8 143.1L150.8 145.7M190.1 155.2L188.7 156.0M175.8 104.1L174.3 104.4M168.5 198.7L168.7 197.3M150.8 189.9L153.1 191.2M160.2 98.9L159.2 99.6M190.1 162.7L189.1 162.5M188.3 232.3L182.8 235.9M134.7 154.8L134.7 157.4M147.6 96.4L149.2 96.8M137.0 106.7L139.3 105.3M159.3 82.1L157.8 85.3M155.4 130.1L155.4 132.7M178.8 199.8L176.7 198.9M194.2 172.1L192.3 172.9M182.2 196.4L180.5 198.1M143.8 63.9L143.2 68.9M157.7 144.4L160.0 143.1M160.0 171.7L162.3 170.4M141.6 158.7L143.9 160.0M162.3 134.0L164.6 132.7M185.1 189.6L183.1 189.5M178.0 104.0L179.2 105.3M164.6 166.5L166.9 165.2M139.3 178.2L141.6 176.9M204.9 164.5L202.1 160.6M136.3 224.5L135.6 221.1M185.5 136.1L186.0 138.0M193.0 126.3L193.6 127.9M171.5 131.4L173.8 132.7M164.6 130.1L164.6 132.7M160.8 86.5L160.7 89.6M176.1 178.2L178.6 177.5M183.7 186.8L183.0 187.7M188.9 152.6L187.4 153.8M166.6 102.9L166.6 104.2M155.2 204.0L154.0 203.1M152.1 247.7L145.6 248.8M167.6 51.9L164.8 57.5M164.9 108.5L166.7 110.0M150.8 122.2L153.1 121.0M187.1 115.1L186.2 116.6M134.7 170.4L134.7 173.0M177.7 113.1L177.2 114.3M134.7 110.6L137.0 111.8M157.2 100.0L158.7 100.8M169.2 148.2L169.2 150.9M192.3 150.3L191.3 150.2M137.0 122.2L139.3 121.0M150.4 93.7L149.8 94.5M195.3 133.1L193.9 134.0M185.1 74.1L181.1 78.0M155.7 96.7L156.8 97.2M155.4 135.2L157.7 134.0M205.3 102.1L208.3 107.0M157.7 160.0L160.0 158.7M175.8 197.6L174.8 198.5M225.4 154.0L220.1 150.8M139.3 139.2L139.3 141.8M162.3 149.6L164.6 148.2M137.0 182.1L139.3 183.4M167.3 195.4L165.9 196.4M145.3 220.0L144.5 217.2M178.0 197.7L177.7 195.7M195.9 157.0L194.8 156.1M134.8 218.3L136.0 216.1M139.3 193.8L141.6 192.5M158.8 208.9L157.6 209.4M187.4 147.9L187.5 149.9M211.0 189.6L204.0 192.2M199.9 189.8L197.4 193.9M148.4 87.5L147.3 88.8M166.4 216.3L166.6 212.3M171.5 147.0L173.8 148.2M136.8 93.2L138.3 93.3M142.0 228.2L137.2 228.6M186.9 213.0L181.3 211.6M156.3 210.0L155.4 209.1M183.6 130.5L181.7 130.4M223.6 86.5L222.1 96.3M146.2 174.2L146.2 176.9M204.1 74.1L198.7 77.6M182.5 177.1L182.0 174.9M148.5 121.0L150.8 119.7M174.7 118.4L176.1 120.3M133.8 87.1L135.1 87.1M190.0 156.7L188.6 157.7M169.2 163.9L169.2 166.5M189.9 164.0L188.8 163.9M136.2 209.7L135.3 208.6M189.1 162.5L188.8 163.9M149.8 94.5L149.7 95.7M202.1 141.1L199.0 139.9M191.6 100.1L190.4 105.3M196.0 173.5L194.2 172.1M202.7 150.8L199.9 152.1M153.1 128.8L155.4 127.5M162.4 100.1L163.5 100.8M185.1 122.5L184.1 122.5M150.8 150.9L150.8 153.5M155.4 150.9L157.7 149.6M219.1 198.3L216.8 190.0M207.9 214.6L199.3 215.5M190.0 134.4L188.9 134.1M193.8 185.1L190.8 184.6M195.3 168.6L193.9 167.7M137.0 197.7L139.3 199.0M177.0 201.5L175.3 200.1M176.1 139.2L176.1 141.8M196.7 171.2L196.0 173.5M185.1 227.6L181.1 223.7M169.8 87.3L166.6 89.4M179.5 94.1L179.8 98.9M177.0 201.5L175.2 203.1M172.5 102.8L173.4 103.6M160.6 67.8L159.0 72.6M141.6 166.5L143.9 167.8M164.6 174.2L166.9 173.0M184.3 115.9L185.0 116.9M146.2 122.2L148.5 121.0M155.6 99.3L153.7 100.1M137.8 216.0L139.2 214.3M177.0 100.2L175.3 101.6M135.6 80.6L134.8 83.4M233.5 179.2L231.3 186.0M169.2 179.5L171.5 180.8M185.5 165.6L183.3 166.9M189.3 161.1L188.3 159.4M223.6 215.2L222.1 205.4M176.1 144.4L178.4 145.7M132.4 106.7L132.4 109.2M172.4 110.8L170.3 110.9M146.2 161.2L148.5 160.0M171.5 139.2L173.8 140.5M141.9 87.8L141.8 89.0M186.6 170.9L186.1 172.3M169.4 91.1L167.2 93.0M185.1 112.1L183.1 112.2M132.4 161.2L134.7 160.0M196.0 128.2L194.2 129.6M163.7 87.9L166.6 89.4M177.3 96.7L177.0 100.2M205.9 124.9L201.8 125.8M174.2 247.1L171.0 241.8M150.8 166.5L150.8 169.1M160.3 203.8L159.1 203.4M151.4 94.1L151.0 94.9M186.9 117.8L187.6 119.0M191.4 140.7L190.6 141.4M182.8 65.8L179.8 70.8M134.7 178.2L134.7 180.8M141.0 91.6L141.2 92.6M191.3 126.3L189.9 126.2M161.7 102.4L163.1 103.3M137.0 130.1L139.3 128.8M199.3 86.2L194.4 88.9M155.4 153.5L155.4 156.1M165.9 196.4L164.5 197.4M210.6 124.3L212.2 129.5M205.5 141.1L202.1 141.1M162.3 157.4L164.6 156.1M198.0 201.2L194.5 205.3M188.1 116.6L189.0 118.2M164.6 189.9L166.9 188.6M181.4 191.7L180.1 191.4M134.8 83.4L136.0 85.6M206.5 114.3L204.2 120.5M187.4 153.8L187.3 155.8M143.9 165.2L146.2 163.9M197.1 141.9L197.4 143.7M171.5 154.8L173.8 156.1M149.9 89.5L148.7 90.4M174.4 115.2L173.3 116.6M164.6 153.5L164.6 156.1M173.7 222.4L169.3 219.5M157.4 205.3L158.0 204.0M146.2 182.1L146.2 184.7M218.2 90.3L212.0 92.2M162.9 63.0L168.7 65.2M202.4 144.4L199.3 142.3M190.7 125.0L191.3 126.3M145.2 209.3L146.1 208.2M150.8 145.7L153.1 144.4M134.7 193.8L134.7 196.4M138.7 92.2L139.7 93.5M134.7 134.0L137.0 135.2M155.4 119.7L157.7 118.4M166.6 212.3L163.7 213.8M165.6 102.1L166.6 102.9M155.4 158.7L157.7 157.4M166.0 205.0L164.9 205.7M160.0 143.1L162.3 141.8M139.3 162.6L139.3 165.2M186.3 174.7L185.8 175.9M162.3 173.0L164.6 171.7M183.0 150.9L183.0 153.5M141.6 200.3L141.7 203.4M139.3 102.8L141.6 104.0M141.6 114.5L143.9 113.2M185.5 165.6L184.9 167.5M202.8 64.3L208.6 69.3M169.3 219.5L165.0 221.6M169.2 127.5L171.5 126.2M178.3 82.1L173.4 84.6M180.7 152.2L183.0 150.9M149.7 95.7L151.1 96.1M184.7 172.5L182.8 173.1M155.6 80.8L159.3 82.1M143.2 232.8L142.0 228.2M189.9 175.5L189.5 176.6M190.2 147.9L188.9 147.4M146.2 197.7L146.2 200.3M235.2 129.5L228.5 127.9M160.2 101.6L159.1 102.7M173.6 189.6L171.7 189.4M148.5 144.4L150.8 143.1M183.9 137.0L184.5 139.3M188.4 165.3L187.3 164.4M153.1 113.2L155.4 111.8M132.4 114.5L132.4 117.1M187.7 171.2L187.1 169.6M148.5 219.3L145.3 220.0M132.4 169.1L134.7 167.8M209.4 138.9L204.9 137.2M153.1 152.2L155.4 150.9M153.8 253.6L152.1 247.7M191.8 127.5L190.4 127.3M177.0 239.0L179.8 230.9M155.1 66.2L160.6 67.8M157.7 131.4L160.0 130.1M160.0 158.7L162.3 157.4M139.3 110.6L139.3 113.2M139.3 118.4L141.6 119.7M139.3 165.2L141.6 163.9M186.9 190.7L185.4 192.7M132.4 243.9L132.4 238.5M160.0 114.5L160.0 117.1M160.0 153.5L160.0 156.1M236.4 136.6L237.1 143.7M204.9 164.5L200.9 167.0M241.7 173.6L236.4 165.1M176.1 128.8L178.4 130.1M146.2 145.7L148.5 144.4M178.4 132.7L180.7 134.0M212.2 129.5L208.5 134.2M178.0 104.0L177.7 106.0M198.7 232.3L192.9 236.6M160.8 103.7L161.1 105.9M148.4 214.2L146.7 214.6M169.8 256.0L174.2 247.1M176.1 167.8L178.4 169.1M132.4 130.1L132.4 132.7M184.7 178.1L183.7 177.6M176.1 178.2L176.1 181.4M180.7 182.7L179.9 183.9M165.8 200.5L165.6 199.6M172.3 108.9L171.2 109.7M150.8 148.2L153.1 147.0M182.8 120.3L181.5 120.3M176.0 190.5L175.3 189.6M145.6 52.9L144.8 58.6M154.4 206.5L154.5 205.5M185.8 81.3L190.2 84.9M137.0 114.5L139.3 113.2M192.3 128.8L192.7 130.1M181.3 211.6L179.5 207.6M173.8 171.7L173.8 174.2M157.7 152.2L160.0 150.9M224.1 135.4L218.4 133.7M162.3 141.8L164.6 140.5M212.2 172.2L210.6 177.4M178.0 197.7L175.8 197.6M185.8 220.4L186.9 213.0M141.6 197.7L141.6 200.3M186.8 141.9L187.0 143.9M162.3 180.8L164.6 179.5M143.9 149.6L146.2 148.2M166.9 180.8L169.2 179.5M146.2 200.3L146.2 202.4M143.9 134.0L143.9 136.6M164.6 137.9L164.6 140.5M155.1 41.6L153.8 48.1M183.6 171.2L182.8 173.1M156.0 225.1L151.4 226.4M160.1 208.3L158.6 207.7M169.2 135.2L171.5 134.0M171.5 178.2L173.8 179.5M172.4 190.9L170.3 190.8M148.5 147.0L150.8 145.7M145.9 95.9L146.2 97.5M136.8 93.2L135.8 94.4M190.2 152.3L188.9 152.6M134.7 118.4L137.0 119.7M173.7 102.3L172.5 102.8M148.5 102.8L150.6 100.7M237.4 150.8L231.2 147.5M194.6 136.7L194.9 138.0M197.4 143.7L195.9 144.7M173.4 107.2L172.5 107.6M134.7 157.4L137.0 158.7M132.4 200.3L132.4 204.2M155.4 143.1L157.7 141.8M138.9 220.9L135.6 221.1M155.4 124.9L155.4 127.5M194.6 165.0L193.3 165.4M155.1 210.5L153.8 210.9M160.0 166.5L162.3 165.2M162.5 43.4L169.8 45.7M180.8 111.2L181.5 112.1M141.2 93.7L142.6 93.9M169.2 150.9L171.5 149.6M168.6 194.3L168.8 192.2M161.7 101.0L163.0 101.8M143.2 215.3L143.3 213.7M166.6 95.2L166.0 96.7M180.7 136.6L183.9 137.0M237.1 158.0L236.4 165.1M137.8 216.0L136.5 214.5M150.9 204.3L151.9 202.4M185.0 184.8L184.3 185.8M145.5 94.5L145.9 95.9M223.6 215.2L213.8 217.1M228.7 192.7L224.6 186.4M188.9 167.6L187.6 168.2M164.8 244.2L158.5 246.2M148.5 167.8L150.8 166.5M185.3 157.8L184.9 160.1M132.4 153.5L134.7 152.2M173.4 194.5L172.5 194.1M161.7 101.0L161.7 102.4M199.9 111.9L196.9 115.1M153.1 136.6L155.4 135.2M176.0 111.2L175.3 112.1M182.8 181.4L181.5 181.4M192.2 148.2L191.3 147.7M163.1 202.3L162.4 201.6M139.7 83.8L142.1 84.1M148.3 93.1L147.4 93.8M153.1 175.6L155.4 174.2M171.3 206.0L171.1 203.5M182.1 200.6L178.8 199.8M198.3 93.1L201.9 97.5M157.7 154.8L160.0 153.5M139.3 134.0L139.3 136.6M187.9 102.3L186.5 105.9M139.3 141.8L141.6 143.1M169.9 193.2L168.6 194.3M139.3 188.6L141.6 187.3M171.3 206.0L169.3 207.4M160.0 137.9L160.0 140.5M174.0 201.3L172.7 200.3M134.2 85.5L135.1 87.1M171.2 229.5L173.7 222.4M158.8 208.9L157.6 208.2M143.9 157.4L146.2 156.1M172.3 192.8L172.4 190.9M146.2 169.1L148.5 167.8M164.6 145.7L164.6 148.2M171.7 114.8L173.3 116.6M198.0 135.2L195.8 134.8M150.8 132.7L153.1 131.4M184.4 103.5L182.2 105.3M190.7 121.3L189.0 121.3M169.2 158.7L169.2 161.2M172.3 192.8L171.2 193.8M150.8 171.7L153.1 170.4M154.4 95.2L154.5 96.2M196.9 140.1L195.1 139.3M197.4 168.9L195.3 168.6M202.4 144.4L199.8 147.2M198.7 77.6L194.8 81.8M190.0 167.3L188.9 167.6M155.4 145.7L157.7 144.4M215.4 122.7L217.1 128.2M224.6 186.4L221.3 178.4M176.8 105.0L175.2 105.2M165.8 101.2L165.6 102.1M195.4 140.7L195.6 142.0M137.0 192.5L139.3 193.8M161.7 199.3L160.2 200.1M176.1 134.0L176.1 136.6M162.9 83.7L160.8 86.5M137.0 200.3L137.0 204.0M187.7 171.2L187.3 172.4M162.3 165.2L164.6 163.9M186.9 213.0L182.7 216.4M170.7 101.3L171.6 102.1M193.5 169.0L192.4 168.8M142.1 84.1L141.4 86.1M144.9 86.7L143.3 88.0M143.9 118.4L143.9 121.0M141.6 161.2L143.9 162.6M186.8 159.8L186.4 161.7M143.9 173.0L146.2 171.7M183.0 114.0L183.7 114.9M179.0 183.0L178.0 181.8M173.2 97.1L172.5 99.3M141.4 215.6L141.9 213.9M178.0 119.9L177.4 122.2M214.0 74.7L209.1 79.2M132.4 224.6L132.4 221.2M168.1 96.1L167.2 97.4M186.4 161.7L184.5 162.4M135.8 94.4L134.4 95.8M148.6 212.6L148.7 211.3M164.5 197.4L164.1 195.9M186.8 141.9L185.3 143.9M146.2 189.9L146.2 192.5M187.6 168.2L187.1 169.6M157.8 85.3L160.8 86.5M150.8 161.2L150.8 163.9M167.7 103.6L167.8 105.1M196.2 148.8L196.2 150.2M191.0 138.6L190.1 139.0M171.0 196.6L169.6 196.5M153.1 144.4L155.4 143.1M176.1 149.6L176.1 152.2M196.7 179.3L194.2 178.1M158.7 100.8L160.2 101.6M146.9 84.9L149.3 85.5M177.0 239.0L168.7 236.5M160.0 150.9L162.3 149.6M184.7 178.1L184.1 179.2M155.4 148.2L155.4 150.9M174.8 207.0L173.2 204.6M189.0 183.5L188.3 181.6M158.5 213.1L158.7 210.7M143.3 213.7L141.9 213.9M160.0 189.9L162.3 188.6M141.6 176.9L143.9 178.2M219.0 80.4L223.6 86.5M164.6 184.7L166.9 183.4M183.1 189.5L181.5 189.6M160.0 145.7L160.0 148.2M196.5 138.3L196.9 140.1M188.5 178.7L187.9 179.7M155.6 202.4L153.7 201.6M171.5 149.6L173.8 150.9M180.7 182.7L179.9 181.6M180.0 185.6L179.9 183.9M178.5 193.2L177.7 194.1M182.7 216.4L177.4 214.5M176.1 160.0L178.4 161.2M169.0 195.7L168.6 194.3M170.6 106.0L169.0 106.0M132.4 122.2L132.4 124.9M169.8 256.0L160.7 251.9M150.9 59.7L157.0 61.1M132.4 176.9L134.7 175.6M153.8 90.8L154.3 92.2M150.8 140.5L153.1 139.2M210.3 153.2L206.1 148.9M134.7 188.6L134.7 191.2M199.9 149.6L197.7 149.0M153.1 160.0L155.4 158.7M167.3 106.3L168.6 107.4M137.0 140.5L139.3 139.2M160.7 89.6L162.9 90.7M157.4 96.4L158.0 97.7M155.4 163.9L155.4 166.5M163.5 100.8L164.6 101.5M219.3 139.4L219.9 145.1M157.7 178.2L160.0 176.9M194.9 138.0L193.8 138.6M168.3 203.6L167.2 204.3M214.0 195.6L211.0 189.6M139.3 157.4L139.3 160.0M157.2 201.7L155.6 202.4M177.7 195.7L176.9 194.9M141.6 109.2L143.9 108.0M151.6 215.5L149.3 216.2M144.5 84.5L143.2 86.4M160.0 161.2L160.0 163.9M201.8 175.9L198.0 176.3M185.8 220.4L178.3 219.6M178.4 140.5L180.7 141.8M180.7 147.0L183.0 145.7M143.9 126.2L143.9 128.8M132.4 39.2L132.4 45.9M148.0 78.7L151.8 79.7M143.2 215.3L141.4 215.6M153.8 230.7L151.4 226.4M173.8 130.1L176.1 131.4M147.3 212.9L147.6 211.6M187.0 143.9L185.5 146.2M146.2 192.5L148.5 191.2M175.9 187.1L174.4 186.5M148.5 139.2L150.8 137.9M182.5 132.6L183.3 134.8M141.0 210.1L141.2 209.1M150.8 156.1L153.1 154.8M143.3 88.0L144.6 88.2M189.1 162.5L188.0 161.0M169.2 182.1L169.2 184.7M136.2 92.0L135.3 93.1M169.3 219.5L169.8 214.4M228.5 127.9L222.9 129.3M169.6 105.2L170.6 106.0M150.8 169.1L150.8 171.7M134.7 149.6L137.0 150.9M217.1 173.5L215.4 179.0M139.3 173.0L139.3 175.6M139.3 113.2L141.6 114.5M176.1 157.4L176.1 160.0M189.6 186.7L188.3 188.7M144.8 243.1L143.8 237.8M182.8 181.4L182.1 182.5M143.2 232.8L137.8 233.3M178.5 108.5L179.3 109.4M194.4 88.9L190.8 92.4M166.9 188.6L169.2 187.3M143.9 141.8L143.9 144.4M183.0 145.7L185.5 146.2M155.6 220.9L151.6 218.5M141.6 184.7L143.9 186.0M187.5 149.9L185.7 148.5M143.9 196.4L146.2 195.1M166.9 113.2L169.2 114.5M188.5 123.0L189.0 124.1M169.2 143.1L171.5 141.8M180.5 192.7L179.3 192.3M146.2 140.5L148.5 139.2M165.9 105.3L165.7 107.0M208.7 119.2L205.9 124.9M148.5 154.8L150.8 153.5M182.8 173.1L181.7 171.3M209.1 222.5L204.1 227.6M138.9 80.8L142.1 81.2M186.6 170.9L185.3 170.9M150.9 97.4L151.9 99.3M183.7 249.9L187.0 240.6M179.9 120.1L179.1 121.6M141.2 93.7L140.9 94.9M182.3 180.2L181.5 181.4M170.1 107.0L168.6 107.4M178.1 186.3L176.9 185.7M132.4 179.5L134.7 178.2M179.6 108.0L179.3 109.4M182.1 101.1L184.4 103.5M177.7 188.6L177.2 187.4M157.9 98.9L157.2 100.0M132.4 52.0L132.4 57.8M150.8 184.7L150.8 187.3M156.4 205.7L156.8 204.5M134.7 196.4L134.7 199.0M171.2 109.7L172.4 110.8M193.6 173.8L191.8 174.2M137.0 148.2L139.3 147.0M195.1 139.3L194.0 139.7M157.7 147.0L160.0 145.7M221.3 123.3L215.4 122.7M155.4 171.7L155.4 174.2M214.3 161.6L213.4 167.0M141.6 200.3L143.9 201.6M243.7 143.2L244.0 150.8M193.6 127.9L194.2 129.6M166.9 128.8L169.2 130.1M174.8 198.5L174.3 197.3M215.0 150.8L210.3 153.2M171.2 229.5L164.0 227.2M197.7 154.5L197.5 156.2M171.5 173.0L173.8 174.2M178.4 148.2L180.7 149.6M164.6 171.7L164.6 174.2M145.6 248.8L139.0 249.4M172.5 194.1L171.2 193.8M188.1 116.6L186.9 117.8M137.8 233.3L137.2 228.6M150.4 208.0L149.8 207.2M193.9 134.0L194.3 135.3M187.5 174.4L186.8 173.6M137.8 210.5L137.4 209.6M150.8 163.9L153.1 162.6M137.0 109.2L137.0 111.8M171.8 105.8L170.6 106.0M178.0 117.3L179.0 118.7M155.4 137.9L157.7 136.6M157.7 162.6L160.0 161.2M224.6 186.4L216.8 190.0M225.0 160.2L219.9 156.6M142.0 228.2L140.2 224.2M172.5 107.6L173.4 108.5M139.3 196.4L141.6 195.1M157.6 209.4L156.3 210.0M139.3 180.8L139.3 183.4M162.3 191.2L164.6 189.9M147.6 40.3L155.1 41.6M139.3 121.0L141.6 122.2M142.6 206.5L140.9 206.8M141.6 132.7L143.9 131.4M155.1 235.5L159.0 229.1M165.1 207.5L163.7 206.4M160.0 184.7L160.0 187.3M182.4 205.1L182.1 200.6M144.9 86.7L145.9 88.5M137.2 228.6L132.4 228.8M155.1 210.5L154.3 209.5M169.2 145.7L171.5 144.4M184.3 132.3L182.5 132.6M178.4 163.9L180.7 165.2M146.7 214.6L145.9 213.2M196.8 59.7L192.9 65.1M163.5 93.4L163.7 95.3M179.5 94.1L182.4 96.6M187.3 155.8L185.5 155.5M151.4 75.3L148.0 78.7M189.8 158.2L188.3 159.4M148.5 115.8L148.5 118.4M233.5 179.2L228.5 173.8M132.4 101.4L134.7 102.8M148.5 162.6L150.8 161.2M185.7 153.2L185.5 155.5M148.5 82.4L151.6 83.2M150.8 179.5L153.1 178.2M185.0 175.0L183.3 175.6M194.6 103.9L192.8 108.4M195.1 175.8L193.6 173.8M202.7 154.1L199.8 154.5M153.1 131.4L155.4 130.1M184.1 179.2L183.0 178.9M192.0 182.5L189.9 182.0M179.9 183.9L179.0 185.1M164.9 201.1L164.6 200.2M182.3 111.1L181.5 112.1M178.4 127.5L178.6 124.2M177.7 113.1L178.5 114.1M150.8 192.5L150.8 195.1M149.9 212.2L148.6 212.6M182.4 96.6L182.1 101.1M139.3 136.6L141.6 137.9M191.5 178.7L190.2 177.9M175.2 203.1L173.2 204.6M165.1 209.9L163.5 208.3M165.9 69.9L164.0 74.5M189.0 183.5L186.9 183.9M160.0 132.7L160.0 135.2M176.0 190.5L175.2 191.4M164.6 176.9L166.9 175.6M185.0 116.9L185.6 117.9M138.9 80.8L137.3 83.5M172.5 99.3L170.6 99.7M231.3 186.0L228.7 192.7M183.8 107.2L182.9 109.3M144.3 206.2L144.2 204.6M176.1 147.0L178.4 148.2M195.3 133.1L195.8 134.8M173.6 112.1L171.7 112.3M146.2 163.9L148.5 162.6M213.4 167.0L208.5 167.5M148.5 178.2L150.8 176.9M140.3 96.3L139.4 98.0M186.1 113.6L183.9 113.2M196.7 130.5L194.8 131.3M179.8 98.9L178.8 101.9M189.0 118.2L187.6 119.0M184.7 129.2L182.8 128.6M132.4 148.2L132.4 150.9M180.8 190.5L180.1 191.4M174.3 190.7L173.3 191.8M159.3 204.3L158.0 204.0M132.4 57.8L138.6 58.0M186.8 128.1L186.1 129.4M191.6 141.7L190.8 142.7M188.3 69.4L185.1 74.1M190.5 165.2L189.6 165.2M147.3 208.8L146.1 208.2M210.3 153.2L205.9 156.7M192.2 154.6L191.2 155.3M137.0 132.7L139.3 131.4M193.1 131.4L192.4 132.9M137.0 117.1L137.0 119.7M197.5 145.5L196.0 146.1M162.9 211.0L160.7 212.1M157.8 216.4L156.2 214.0M157.7 170.4L160.0 169.1M221.3 178.4L217.1 173.5M162.3 160.0L164.6 158.7M194.5 205.3L190.8 209.3M137.3 83.5L137.8 85.7M168.1 205.6L168.3 203.6M141.4 86.1L140.6 87.6M143.9 113.2L143.9 115.8M143.9 121.0L146.2 122.2M187.3 155.8L187.0 157.8M164.6 117.1L166.9 118.4M143.9 167.8L146.2 166.5M197.4 143.7L197.5 145.5M146.2 179.5L148.5 178.2M171.5 157.4L173.8 158.7M164.6 156.1L164.6 158.7M202.8 64.3L198.7 69.4M176.8 183.4L175.6 185.0M136.3 77.2L140.2 77.5M151.2 211.8L151.0 210.6M173.8 122.2L176.1 123.6M181.5 120.3L179.9 120.1M139.2 87.4L140.6 87.6M199.1 128.5L196.0 128.2M134.7 136.6L137.0 137.9M169.2 174.2L169.2 176.9M169.3 103.7L169.6 105.2M225.6 199.2L222.0 192.4M196.0 146.1L196.1 147.4M201.5 163.8L199.0 161.8M178.5 112.7L178.5 114.1M134.7 175.6L137.0 176.9M185.3 130.8L185.9 132.4M188.3 188.7L187.1 186.6M199.1 173.2L196.0 173.5M155.4 161.2L157.7 160.0M203.5 210.9L201.9 204.2M168.9 225.0L164.0 227.2M169.3 207.4L169.6 204.6M191.8 174.2L190.8 173.3M145.9 213.2L144.6 213.5M190.4 105.3L188.5 108.5M208.6 69.3L214.0 74.7M169.3 207.4L167.2 208.7M181.1 78.0L178.3 82.1M151.1 96.1L152.5 96.6M159.3 82.1L162.9 83.7M143.3 213.7L144.1 212.3M169.2 169.1L171.5 167.8M158.7 200.9L157.3 200.0M161.7 102.4L160.8 103.7M170.1 107.0L171.2 107.9M184.5 139.3L184.9 141.6M222.1 205.4L218.2 211.4M188.3 113.0L186.1 113.6M151.1 96.1L149.2 96.8M139.2 207.0L138.4 205.6M157.8 85.3L156.2 87.7M180.1 191.4L179.3 192.3M171.2 193.8L171.2 192.0M183.7 249.9L174.2 247.1M132.4 117.1L132.4 119.7M176.9 116.0L175.6 116.7M146.2 171.7L148.5 170.4M198.7 232.3L198.7 224.1M148.5 186.0L150.8 184.7M180.7 173.4L179.7 175.5M132.4 171.7L134.7 170.4M174.8 94.7L177.3 96.7M186.5 105.9L183.8 107.2M210.0 143.7L205.5 141.1M153.1 154.8L155.4 153.5M150.8 176.9L150.8 179.5M155.4 176.9L157.7 175.6M156.2 87.7L158.5 88.6M189.0 121.3L187.4 120.9M155.4 95.6L155.7 96.7M153.1 193.8L155.4 192.5M203.4 82.2L199.3 86.2M137.8 214.4L136.5 214.5M194.3 135.3L193.3 136.3M201.8 125.8L198.0 125.4M234.8 106.4L237.6 113.5M160.2 200.1L158.7 200.9M156.2 214.0L153.9 214.8M205.3 102.1L201.1 104.9M183.0 153.5L185.7 153.2M160.0 156.1L160.0 158.7M204.1 168.4L200.0 170.1M182.7 216.4L178.3 219.6M167.3 193.5L166.7 191.7M189.9 126.2L190.4 127.3M166.9 121.0L169.2 122.2M213.4 134.7L209.4 138.9M192.9 236.6L187.0 240.6M176.1 170.4L178.4 171.7M164.2 199.2L163.1 198.4M132.4 132.7L132.4 135.2M182.5 124.6L182.0 126.8M146.2 187.3L148.5 186.0M165.6 199.6L165.4 198.3M173.3 109.9L172.4 110.8M164.6 163.9L164.6 166.5M132.4 187.3L134.7 186.0M158.8 92.8L158.6 94.0M148.3 206.5L147.6 205.3M140.6 87.6L141.9 87.8M183.4 121.4L182.3 121.5M152.2 206.4L152.5 205.1M191.7 158.9L190.9 157.8M164.2 199.2L163.0 199.9M133.7 91.9L132.4 93.0M189.3 135.3L188.0 134.9M185.1 74.1L190.1 77.8M188.6 171.4L188.1 170.0M224.6 115.3L219.2 117.4M137.0 101.4L137.0 104.0M219.3 162.3L218.4 168.0M137.0 156.1L139.3 154.8M195.7 143.4L194.5 143.2M196.2 150.2L196.2 151.5M156.0 225.1L151.8 222.0M176.1 152.2L176.1 154.8M142.1 217.6L139.7 217.9M160.0 171.7L160.0 174.2M184.1 179.2L183.4 180.3M162.3 183.4L164.6 182.1M153.8 230.7L148.5 231.9M190.2 177.9L189.5 176.6M143.9 136.6L143.9 139.2M182.8 173.1L182.0 174.9M223.6 86.5L227.8 92.9M143.9 191.2L146.2 189.9M197.1 159.8L196.9 161.6M169.2 137.9L171.5 136.6M171.5 180.8L173.8 182.1M180.7 162.6L183.0 161.2M164.6 179.5L164.6 182.1M184.3 169.4L183.3 166.9M147.6 96.4L148.1 98.1M157.7 108.0L161.1 105.9M137.2 73.1L136.3 77.2M154.0 203.1L151.9 202.4M148.5 108.0L148.5 110.6M179.9 183.9L179.0 183.0M237.1 158.0L231.2 154.2M177.3 96.7L179.8 98.9M185.5 146.2L185.7 148.5M134.7 160.0L137.0 161.2M171.5 126.2L171.5 128.8M187.5 127.3L186.3 127.0M195.7 158.3L195.6 159.7M153.1 162.6L155.4 161.2M176.1 167.8L176.1 170.4M155.4 184.7L157.7 183.4M162.9 90.7L165.1 91.8M157.0 240.6L160.6 233.9M160.0 169.1L162.3 167.8M155.4 166.5L155.4 169.1M139.3 128.8L141.6 130.1M133.8 214.6L132.4 214.6M162.3 123.6L164.6 124.9M141.6 195.1L143.9 196.4M241.7 128.1L243.0 135.7M169.2 153.5L171.5 152.2M176.8 196.7L176.0 195.7M179.1 180.1L177.4 179.5M183.0 161.2L184.9 160.1M163.0 101.8L164.2 102.5M160.0 163.9L160.0 166.5M136.0 216.1L135.1 214.6M187.9 102.3L190.4 105.3M149.2 204.9L150.0 203.0M172.5 99.3L172.7 101.4M184.3 185.8L183.7 186.8M162.5 197.0L161.1 195.8M148.5 123.6L148.5 126.2M178.4 143.1L180.7 144.4M174.3 190.7L172.4 190.9M143.9 100.2L143.9 98.8M174.3 192.3L173.3 191.8M163.0 101.8L163.1 103.3M186.1 113.6L185.5 115.5M140.0 262.2L146.7 254.9M172.5 198.9L171.6 199.6M171.5 183.4L173.3 185.1M139.6 46.1L145.6 52.9M132.4 140.5L132.4 143.1M160.5 201.4L158.7 200.9M176.9 112.2L176.3 113.2M190.1 77.8L194.8 81.8M177.2 187.4L176.3 188.5M176.3 113.2L175.9 114.6M162.4 201.6L161.7 200.7M132.4 195.1L134.7 193.8M162.5 94.6L161.8 95.6M139.9 210.3L139.9 209.3M150.8 158.7L153.1 157.4M185.2 124.7L184.3 125.4M137.0 104.0L137.0 106.7M153.1 178.2L155.4 176.9M191.2 162.1L190.4 161.5M153.1 105.3L153.1 108.0M175.9 114.6L176.9 116.0M137.0 158.7L139.3 157.4M175.2 98.6L177.0 100.2M162.9 63.0L165.9 69.9M155.4 182.1L155.4 184.7M178.4 171.7L180.7 173.4M215.4 179.0L213.4 184.4M196.1 147.4L194.9 146.7M186.1 188.1L184.7 187.3M151.6 215.5L150.2 213.7M139.3 175.6L139.3 178.2M145.9 205.8L144.3 206.2M141.6 127.5L143.9 126.2M134.8 218.3L132.4 218.3M220.1 150.8L215.0 150.8M143.9 201.6L143.9 202.9M136.0 85.6L136.5 87.2M168.1 205.6L166.0 205.0M160.0 179.5L160.0 182.1M160.0 192.5L161.1 195.8M187.9 199.4L186.5 195.8M166.9 144.4L169.2 145.7M178.4 158.7L180.7 160.0M189.0 150.8L187.5 149.9M143.9 144.4L143.9 147.0M183.7 51.8L180.7 57.6M180.1 178.4L179.1 180.1M132.4 87.1L133.8 87.1M142.0 73.5L140.2 77.5M173.8 148.2L176.1 149.6M143.9 199.0L146.2 197.7M132.4 156.1L132.4 158.7M148.5 110.6L150.8 111.8M134.7 108.0L137.0 106.7M133.5 210.7L132.4 209.8M150.8 174.2L153.1 173.0M152.5 90.3L153.8 90.8M189.7 168.3L188.5 168.8M171.5 128.8L171.5 131.4M144.9 93.2L145.5 94.5M166.7 101.8L166.6 102.9M180.5 109.0L180.1 110.3M195.6 142.0L195.7 143.4M228.5 173.8L222.9 172.4M137.0 124.9L137.0 127.5M176.0 111.2L176.9 112.2M134.7 167.8L137.0 169.1M197.5 156.2L195.9 157.0M137.0 179.5L139.3 178.2M139.3 191.2L139.3 193.8M135.8 207.3L134.1 207.4M162.3 110.6L163.0 107.2M176.1 175.6L176.1 178.2M193.1 170.3L192.0 170.0M169.3 207.4L166.6 206.5M155.1 66.2L153.8 71.0M132.4 238.5L137.8 233.3M151.6 86.2L151.9 88.5M160.0 176.9L162.3 175.6M177.7 188.6L176.9 189.5M164.6 124.9L166.9 126.2M151.4 75.3L156.0 76.6M183.7 114.9L184.3 115.9M143.9 160.0L143.9 162.6M219.0 80.4L213.8 84.6M132.4 80.5L132.4 83.4M143.9 100.2L146.2 101.4M173.1 188.0L171.7 189.4M186.0 163.7L183.9 164.7M146.2 111.8L148.5 113.2M169.2 161.2L171.5 160.0M132.4 111.8L134.7 113.2M166.9 123.6L166.9 126.2M175.6 185.0L173.3 185.1M166.6 104.2L167.8 105.1M132.4 87.1L132.4 88.3M176.7 102.8L175.8 104.1M188.3 96.6L185.3 99.4M148.5 131.4L148.5 134.0M168.7 104.4L169.0 106.0M213.8 217.1L212.0 209.5M171.6 194.9L170.1 194.7M153.1 108.0L153.1 110.6M134.7 183.4L137.0 184.7M195.8 166.9L194.6 165.0M149.3 85.5L151.6 86.2M179.0 118.7L179.9 120.1M156.2 214.0L157.0 211.4M163.7 213.8L160.7 212.1M157.7 165.2L160.0 163.9M160.0 192.5L162.3 191.2M172.5 194.1L171.6 194.9M155.4 189.9L155.4 192.5M196.9 115.1L193.8 116.6M132.4 83.4L134.2 85.5M143.9 115.8L146.2 117.1M234.8 195.3L231.5 202.2M196.9 140.1L197.1 141.9M166.9 147.0L169.2 148.2M169.2 176.9L171.5 175.6M173.3 109.9L174.3 111.0M186.9 135.7L185.5 136.1M177.7 194.1L176.9 194.9M179.9 117.8L178.0 117.3M167.8 196.6L167.3 195.4M162.5 258.3L153.8 253.6M178.4 166.5L180.7 167.8M138.3 208.4L139.2 207.0M168.7 197.3L169.0 195.7M155.1 91.2L155.4 92.6M136.5 87.2L137.8 87.3M199.9 152.1L197.8 150.8M196.7 122.4L194.2 123.6M132.4 163.9L132.4 166.5M207.4 172.2L203.0 172.1M150.8 182.1L153.1 180.8M155.4 195.1L159.1 197.0M137.0 127.5L137.0 130.1M155.4 109.2L157.7 110.6M177.1 111.0L176.9 112.2M215.7 97.7L210.8 100.8M184.0 127.6L184.7 129.2M155.4 156.1L157.7 154.8M219.9 145.1L220.1 150.8M157.7 180.8L160.0 179.5M134.7 201.6L134.7 204.1M210.8 200.9L208.3 194.7M139.3 160.0L139.3 162.6M148.0 78.7L145.3 81.7M178.5 114.1L179.3 115.1M141.6 111.8L143.9 110.6M169.2 187.3L171.7 186.9M139.3 199.0L139.3 201.6M132.4 95.8L134.4 95.8M141.6 150.9L143.9 149.6M180.7 149.6L183.0 148.2M158.5 88.6L157.0 90.3M162.3 118.4L162.3 121.0M157.0 90.3L155.1 91.2M151.8 79.7L155.6 80.8M145.9 213.2L146.4 211.9M173.8 132.7L176.1 134.0M231.5 99.5L225.6 102.5M189.6 142.1L188.3 142.3M144.6 88.2L145.9 88.5M191.3 151.5L190.2 150.8M174.7 113.3L173.1 113.7M209.1 222.5L207.9 214.6M132.4 119.7L134.7 121.0M182.4 183.8L182.1 182.5M137.4 92.1L136.8 93.2M148.5 180.8L150.8 179.5M182.5 169.1L181.7 171.3M169.4 91.1L172.1 92.8M150.8 197.7L153.1 196.4M174.2 193.8L174.3 192.3M187.6 119.0L186.2 118.9M196.1 154.3L196.0 155.6M182.8 120.3L183.4 121.4M176.1 160.0L176.1 162.6M140.6 214.1L139.2 214.3M198.7 118.6L195.4 119.5M139.3 154.8L141.6 156.1M144.2 97.1L146.2 97.5M198.3 93.1L194.5 96.4M154.7 217.5L153.9 214.8M183.0 148.2L185.7 148.5M162.3 115.8L164.6 117.1M169.6 196.5L168.7 197.3M164.6 148.2L166.9 149.6M170.3 190.8L170.1 188.6M189.0 124.1L189.5 125.1M166.9 115.8L169.2 117.1M210.6 124.3L207.4 129.5M143.9 183.4L143.9 186.0M243.7 143.2L237.1 143.7M204.1 227.6L198.7 232.3M143.9 123.6L146.2 124.9M159.1 199.0L157.3 200.0M150.0 203.0L150.6 201.0M146.2 135.2L148.5 136.6M197.5 145.5L197.7 147.2M169.2 184.7L171.5 183.4M180.8 121.6L180.1 123.3M146.2 182.1L148.5 180.8M198.0 201.2L194.6 197.8M148.5 196.4L150.8 195.1M153.7 100.1L154.9 102.5M177.2 187.4L175.9 187.1M171.2 107.9L169.9 108.5M184.4 103.5L186.5 105.9M188.0 140.7L186.8 141.9M175.2 196.5L174.3 197.3M182.3 121.5L180.8 121.6M166.6 197.5L165.4 198.3M188.5 132.9L187.1 132.1M174.4 67.8L179.8 70.8M219.1 103.4L214.0 106.1M134.7 199.0L134.7 201.6M202.2 185.6L198.7 183.1M137.0 150.9L139.3 149.6M195.4 140.7L194.2 140.9M169.3 94.3L171.3 95.7M155.4 174.2L155.4 176.9M185.9 132.4L186.4 134.0M146.9 216.8L144.5 217.2M215.4 122.7L210.6 124.3M157.7 188.6L160.0 187.3M162.3 131.4L164.6 132.7M199.3 215.5L198.3 208.6M162.3 178.2L164.6 176.9M139.3 201.6L139.4 203.7M205.5 160.6L202.1 160.6M166.9 131.4L169.2 132.7M173.7 199.4L173.4 198.1M191.6 130.6L192.0 131.7M184.3 169.4L183.6 171.2M165.9 231.8L159.0 229.1M197.5 156.2L197.4 158.0M159.1 102.7L157.0 103.5M171.5 175.6L173.8 176.9M164.6 174.2L164.6 176.9M181.5 120.3L182.3 121.5M162.9 83.7L166.4 85.4M169.8 201.1L168.8 201.8M141.9 213.9L142.9 212.6M173.8 140.5L176.1 141.8M186.1 129.4L185.3 130.8M191.5 123.0L190.7 125.0M160.7 49.8L164.8 57.5M190.4 140.2L189.3 140.6M203.5 90.8L207.3 95.7M159.1 203.4L157.9 202.8M166.0 96.7L164.9 97.3M187.0 175.4L186.3 174.7M136.7 210.6L136.2 209.7M148.6 89.1L149.9 89.5M153.3 95.8L152.5 96.6M172.6 106.5L171.6 106.8M191.2 155.3L190.1 155.2M134.7 154.8L137.0 156.1M171.5 121.0L171.5 123.6M180.5 186.5L180.0 185.6M196.0 155.6L195.9 157.0M181.2 116.1L180.0 116.1M137.2 228.6L136.3 224.5M155.4 179.5L157.7 178.2M208.3 194.7L205.3 199.6M160.0 117.1L162.3 118.4M168.7 236.5L171.2 229.5M139.3 183.4L139.3 186.0M184.7 123.6L185.2 124.7M141.6 135.2L143.9 134.0M136.5 214.5L135.1 214.6M141.6 119.7L141.6 122.2M146.7 87.1L147.3 88.8M237.6 113.5L239.9 120.7M195.8 166.9L195.3 168.6M169.8 214.4L166.6 212.3M208.3 107.0L204.0 109.5M160.5 100.3L161.7 101.0M182.4 96.6L185.3 99.4M173.8 156.1L176.1 157.4M146.2 104.0L148.5 105.3M165.7 194.7L164.9 193.2M148.5 118.4L148.5 121.0M185.5 155.5L185.3 157.8M187.0 240.6L180.7 244.1M156.3 91.7L157.6 92.3M171.5 136.6L171.5 139.2M176.4 191.4L175.2 191.4M150.8 106.7L153.1 108.0M171.7 186.9L170.1 188.6M174.3 111.0L173.6 112.1M183.1 112.2L182.3 113.0M190.4 111.1L192.2 113.8M153.1 126.2L155.4 127.5M184.6 121.5L184.1 122.5M153.1 173.0L155.4 171.7M150.8 195.1L150.8 197.7M155.4 195.1L157.7 193.8M171.3 95.7L173.2 97.1M144.1 92.1L143.7 93.0M150.9 59.7L155.1 66.2M195.8 166.9L193.9 167.7M194.3 166.4L193.9 167.7M139.3 139.2L141.6 140.5M178.4 130.1L178.4 132.7M134.8 88.3L135.9 88.4M195.9 144.7L194.7 144.4M188.1 185.1L186.2 185.1M156.2 214.0L153.6 212.7M139.7 217.9L137.3 218.2M185.6 117.9L186.2 118.9M219.3 139.4L214.3 140.1M160.0 174.2L160.0 176.9M171.5 123.6L173.8 122.2M143.9 108.0L146.2 109.2M166.9 139.2L169.2 140.5M192.7 134.0L193.0 135.1M212.2 172.2L207.4 172.2M188.9 147.4L187.3 145.9M167.2 204.3L165.9 203.7M142.3 96.7L141.7 98.3M146.7 254.9L139.6 255.6M180.7 162.6L183.9 164.7M132.4 150.9L132.4 153.5M186.4 167.7L185.5 165.6M148.5 105.3L150.8 106.7M184.0 110.7L183.1 112.2M159.0 229.1L160.6 223.5M158.0 204.0L156.6 203.4M173.3 191.8L172.3 192.8M164.6 182.1L164.6 184.7M134.7 102.8L137.0 101.4M199.1 128.5L200.0 131.6M167.2 97.4L165.9 98.0M187.3 129.3L186.6 130.8M143.7 208.7L142.6 207.8M153.1 115.8L153.1 118.4M190.3 166.3L189.3 166.4M193.6 127.9L192.3 128.8M190.9 143.9L190.0 145.0M214.0 106.1L216.8 111.7M185.6 178.3L184.7 178.1M230.7 160.7L225.0 160.2M137.0 119.7L137.0 122.2M155.4 195.1L154.9 199.2M205.3 199.6L201.9 204.2M181.7 123.1L182.5 124.6M137.0 174.2L139.3 173.0M185.4 109.0L186.9 111.0M181.7 193.8L181.4 191.7M142.1 217.6L143.2 215.3M157.7 193.8L159.1 197.0M157.7 108.0L157.7 110.6M136.3 77.2L135.6 80.6M217.1 173.5L212.2 172.2M160.0 124.9L162.3 126.2M169.2 187.3L168.4 190.2M164.6 119.7L166.9 121.0M142.0 73.5L146.7 74.2M166.9 154.8L169.2 156.1M141.6 143.1L143.9 141.8M143.9 154.8L143.9 157.4M158.7 210.7L158.8 208.9M175.6 185.0L174.4 186.5M151.9 88.5L151.2 89.9M143.2 68.9L146.7 74.2M153.6 212.7L152.5 211.4M146.2 106.7L148.5 108.0M194.2 172.1L193.6 173.8M159.3 219.6L157.8 216.4M157.0 90.3L157.6 92.3M169.2 156.1L171.5 154.8M166.9 118.4L166.9 121.0M133.9 208.7L134.1 207.4M134.2 216.2L133.8 214.6M174.0 100.4L173.7 102.3M191.3 147.7L190.1 146.5M181.3 90.1L179.5 94.1M198.0 166.5L196.2 165.1M148.5 126.2L148.5 128.8M222.1 205.4L219.1 198.3M225.0 141.5L225.4 147.7M184.5 162.4L183.9 164.7M150.8 189.9L153.1 188.6M137.0 135.2L137.0 137.9M134.7 178.2L137.0 179.5M186.9 190.7L186.1 188.1M198.0 176.3L195.1 175.8M171.5 144.4L171.5 147.0M196.5 163.4L195.1 162.4M137.0 189.9L139.3 188.6M182.2 196.4L180.5 195.1M193.9 167.7L193.5 169.0M134.5 91.0L134.9 92.0M159.3 82.1L154.7 84.2M180.7 117.1L181.5 118.2M178.4 132.7L178.4 135.2M157.7 113.2L160.0 114.5M160.0 140.5L162.3 141.8M144.6 213.5L143.3 213.7M168.7 65.2L171.2 72.2M160.0 187.3L162.3 186.0M141.6 104.0L141.6 106.7M143.8 63.9L137.8 68.4M164.6 135.2L166.9 136.6M139.3 147.0L141.6 148.2M141.6 158.7L143.9 157.4M138.3 88.5L139.5 88.7M185.1 189.6L183.9 188.5M149.3 216.2L148.4 214.2M188.3 181.6L186.8 181.8M167.3 193.5L165.7 194.7M173.7 79.3L173.4 84.6M239.9 181.0L237.6 188.2M136.3 224.5L138.9 220.9M169.2 171.7L171.5 170.4M176.1 136.6L178.4 135.2M143.9 175.6L143.9 178.2M171.2 107.9L172.3 108.9M171.5 131.4L173.8 130.1M185.9 132.4L184.3 132.3M137.8 87.3L137.1 88.4M137.5 207.2L136.4 205.8M201.8 125.8L203.0 129.6M160.8 86.5L158.5 88.6M181.7 107.9L179.6 108.0M189.6 115.0L187.1 115.1M193.1 121.4L191.5 123.0M170.1 194.7L169.9 193.2M148.5 141.8L148.5 144.4M192.9 236.6L193.6 228.4M206.5 187.4L202.2 185.6M188.9 152.6L187.5 151.8M148.5 188.6L150.8 187.3M179.7 175.5L178.6 177.5M148.1 98.1L148.4 100.0M132.4 52.0L139.0 52.3M166.6 102.9L165.4 103.4M155.2 204.0L155.6 202.4M199.8 147.2L197.7 147.2M132.4 158.7L132.4 161.2M171.5 160.0L171.5 162.6M170.1 194.7L169.0 195.7M134.7 110.6L137.0 109.2M153.1 196.4L155.4 195.1M153.1 123.6L153.1 126.2M157.7 128.8L160.0 130.1M157.7 110.6L157.7 113.2M203.0 129.6L199.1 128.5M139.3 162.6L141.6 163.9M153.9 214.8L151.6 215.5M145.3 220.0L146.9 216.8M135.6 221.1L134.8 218.3M134.1 207.4L132.4 207.4M141.4 86.1L143.2 86.4M211.0 189.6L206.5 187.4M153.9 86.9L153.6 89.0M162.3 113.2L162.3 115.8M157.0 211.4L157.6 209.4M171.5 147.0L173.8 145.7M143.9 131.4L146.2 132.7M144.2 204.6L143.9 202.9M164.6 127.5L166.9 128.8M194.7 144.4L194.8 145.6M166.9 162.6L169.2 163.9M146.2 189.9L148.5 188.6M186.9 213.0L184.9 208.4M156.3 210.0L156.5 208.6M187.7 162.7L186.0 163.7M171.0 59.9L177.0 62.7M223.6 86.5L218.2 90.3M189.1 139.2L187.7 139.0M171.7 189.4L170.3 190.8M146.9 206.9L145.9 205.8M132.4 174.2L132.4 176.9M191.3 149.0L190.2 147.9M151.0 206.8L151.1 205.6M148.5 128.8L150.8 130.1M184.3 125.4L183.3 126.1M141.9 213.9L140.6 212.9M132.4 114.5L134.7 115.8M163.0 199.9L161.7 200.7M134.9 92.0L133.9 93.0M166.9 126.2L166.9 128.8M190.0 156.7L188.7 156.0M134.7 126.2L137.0 124.9M150.8 192.5L153.1 191.2M189.9 164.0L189.1 162.5M226.8 121.6L221.3 123.3M149.8 94.5L148.3 95.2M202.7 150.8L199.9 149.6M184.9 208.4L179.5 207.6M196.2 151.5L196.2 152.9M207.9 214.6L203.5 210.9M137.0 143.1L137.0 145.7M134.7 186.0L137.0 187.3M187.3 137.3L187.7 139.0M193.8 185.1L192.0 182.5M137.0 197.7L139.3 196.4M177.0 201.5L176.7 198.9M141.6 106.7L141.6 109.2M185.1 227.6L185.8 220.4M140.3 96.3L142.3 96.7M148.5 231.9L143.2 232.8M189.6 179.1L189.0 177.6M187.6 182.7L186.2 182.8M171.6 194.9L170.6 195.7M164.6 143.1L166.9 144.4M181.3 90.1L184.9 93.3M143.9 178.2L143.9 180.8M241.7 128.1L235.2 129.5M162.5 197.0L160.8 198.0M146.2 130.1L148.5 131.4M187.1 186.6L186.1 188.1M169.2 179.5L171.5 178.2M132.4 130.1L134.7 131.4M133.8 214.6L133.6 213.4M176.1 144.4L178.4 143.1M166.9 141.8L166.9 144.4M174.3 111.0L175.3 112.1M135.3 93.1L135.8 94.4M141.9 87.8L140.6 88.8M196.0 128.2L193.6 127.9M156.8 97.2L156.6 98.3M148.5 149.6L148.5 152.2M174.2 247.1L177.0 239.0M187.9 128.3L186.8 128.1M178.5 189.0L177.7 188.6M195.6 159.7L195.4 161.0M160.3 203.8L160.2 202.8M205.9 176.8L201.8 175.9M178.4 130.1L181.7 130.4M155.4 187.3L157.7 186.0M165.1 91.8L167.2 93.0M132.4 57.8L138.1 63.4M192.7 130.1L191.6 130.6M155.4 169.1L155.4 171.7M186.3 127.0L186.8 128.1M134.7 100.2L132.4 97.5M157.7 136.6L160.0 137.9M162.3 126.2L164.6 127.5M165.6 199.6L164.6 200.2M164.6 158.7L166.9 160.0M243.0 135.7L243.7 143.2M139.3 170.4L141.6 171.7M206.1 152.8L202.7 154.1M143.9 134.0L146.2 135.2M206.5 114.3L202.2 116.1M142.3 205.0L141.7 203.4M202.8 237.4L196.8 242.0M160.8 198.0L159.1 197.0M179.9 117.8L180.7 119.0M205.5 160.6L204.9 164.5M174.4 115.2L171.7 114.8M171.6 199.6L170.7 200.4M185.0 126.7L184.0 127.6M146.7 46.8L152.1 54.0M148.5 165.2L148.5 167.8M132.4 255.8L139.0 249.4M161.3 202.2L160.5 201.4M150.8 114.5L153.1 115.8M166.7 191.7L164.9 193.2M163.7 95.3L162.8 96.2M189.8 143.5L188.6 144.0M145.9 88.5L147.3 88.8M153.1 180.8L155.4 179.5M192.2 147.1L191.3 147.7M191.6 201.6L190.4 196.4M132.4 182.1L132.4 184.7M147.4 207.9L146.9 206.9M159.2 202.1L157.9 202.8M177.0 100.2L178.8 101.9M138.7 92.2L138.3 93.3M134.7 134.0L137.0 132.7M155.4 127.5L157.7 128.8M230.7 141.0L225.0 141.5M146.7 227.5L144.1 223.7M178.4 174.2L179.7 175.5M187.7 139.0L188.0 140.7M213.4 184.4L211.0 189.6M160.0 111.8L162.3 113.2M179.8 230.9L181.1 223.7M139.3 178.2L139.3 180.8M196.2 152.9L194.9 153.8M181.7 193.8L179.6 193.7M141.6 130.1L143.9 128.8M160.0 182.1L160.0 184.7M146.2 97.5L148.1 98.1M176.4 210.1L172.1 208.9M162.3 136.6L162.3 139.2M181.1 125.0L179.7 126.2M173.8 150.9L176.1 152.2M187.0 61.1L188.3 69.4M184.7 172.5L183.6 171.2M148.5 113.2L150.8 114.5M143.2 232.8L146.7 227.5M244.0 150.8L237.4 150.8M153.8 90.8L155.1 91.2M132.4 197.7L132.4 200.3M190.6 160.3L189.3 161.1M132.4 137.9L134.7 139.2M169.3 82.2L169.8 87.3M177.8 189.8L176.9 189.5M151.1 205.6L149.7 206.0M146.1 93.5L146.9 94.8M186.5 105.9L188.5 108.5M153.1 121.0L155.4 122.2M183.5 119.7L182.8 120.3M184.1 181.1L182.8 181.4M226.8 180.1L221.3 178.4M168.5 198.7L167.7 198.1M194.4 212.8L190.2 216.8M197.4 158.0L195.7 158.3M186.9 190.7L184.0 191.0M194.9 163.7L194.6 165.0M186.8 128.1L187.3 129.3M159.3 82.1L160.8 86.5M132.4 243.9L138.1 238.3M143.8 63.9L148.5 69.8M156.0 76.6L160.6 78.2M143.9 162.6L143.9 165.2M162.3 134.0L164.6 135.2M162.4 201.6L161.3 202.2M164.6 166.5L166.9 167.8M146.2 114.5L148.5 115.8M192.0 131.7L192.4 132.9M214.3 161.6L209.4 162.8M176.1 128.8L178.4 127.5M138.4 96.1L137.0 97.7M234.8 195.3L228.7 192.7M160.7 251.9L153.8 253.6M146.2 204.2L144.2 204.6M196.9 115.1L198.7 118.6M178.0 104.0L176.8 105.0M160.8 103.7L159.1 104.7M181.7 107.9L181.4 110.0M150.8 117.1L153.1 118.4M178.1 115.4L178.0 117.3M196.7 122.4L198.0 125.4M168.8 201.8L167.8 202.4M192.3 124.6L191.3 126.3M167.6 51.9L171.0 59.9M207.3 95.7L210.8 100.8M192.7 171.6L192.3 172.9M137.0 122.2L139.3 123.6M182.2 105.3L183.8 107.2M185.1 74.1L185.8 81.3M155.4 192.5L155.4 195.1M141.8 89.0L142.9 89.1M162.3 149.6L164.6 150.9M145.3 220.0L142.1 217.6M178.0 197.7L176.8 196.7M157.7 141.8L157.7 144.4M134.8 218.3L134.2 216.2M231.5 202.2L227.8 208.8M193.8 138.6L194.0 139.7M162.5 207.1L161.8 206.1M148.4 87.5L148.6 89.1M157.0 211.4L155.1 210.5M195.3 168.6L194.8 170.4M166.4 216.3L163.7 213.8M184.0 174.1L182.8 173.1M170.3 110.9L170.1 113.1M166.9 113.2L166.9 115.8M136.8 208.5L137.5 207.2M186.1 129.4L186.6 130.8M188.6 157.7L187.0 157.8M152.1 54.0L158.5 55.5M172.4 190.9L171.7 189.4M188.0 134.9L186.4 134.0M162.8 205.5L161.8 206.1M199.8 154.5L197.7 152.7M198.0 125.4L195.1 125.9M204.1 74.1L203.4 82.2M145.9 95.9L144.2 97.1M199.0 161.8L196.9 161.6M200.9 134.7L198.6 137.5M222.9 129.3L224.1 135.4M134.7 118.4L137.0 117.1M183.5 182.0L182.1 182.5M148.5 102.8L148.4 100.0M157.6 92.3L158.8 92.8M155.4 111.8L157.7 113.2M177.8 111.9L177.7 113.1M171.5 139.2L171.5 141.8M190.8 117.1L192.0 119.2M185.1 122.5L184.7 123.6M155.4 150.9L157.7 152.2M151.8 79.7L148.5 82.4M181.1 223.7L176.2 226.8M160.0 135.2L162.3 136.6M195.3 168.6L193.5 169.0M194.6 165.0L193.5 164.3M134.4 95.8L136.4 95.9M141.6 153.5L143.9 152.2M146.7 87.1L148.4 87.5M141.6 137.9L141.6 140.5M162.3 121.0L162.3 123.6M169.2 119.7L171.5 121.0M164.0 74.5L165.0 80.1M167.2 93.0L166.6 95.2M144.1 223.7L145.3 220.0M176.1 131.4L178.4 130.1M198.7 118.6L200.4 122.2M186.9 111.0L185.1 112.1M135.1 87.1L134.8 88.3M154.7 84.2L153.9 86.9M179.2 105.3L177.7 106.0M173.8 174.2L176.1 175.6M146.2 122.2L148.5 123.6M180.7 136.6L183.3 134.8M155.6 99.3L155.5 100.9M148.5 136.6L148.5 139.2M132.4 122.2L134.7 123.6M145.5 94.5L144.3 95.5M189.3 161.1L188.0 161.0M166.9 134.0L166.9 136.6M181.7 171.3L180.7 173.4M153.1 105.3L155.4 106.7M164.6 101.5L163.0 101.8M164.9 96.0L166.0 96.7M188.9 167.6L188.0 166.8M173.4 194.5L173.4 193.2M171.5 154.8L171.5 157.4M199.9 111.9L194.9 111.7M132.4 161.2L134.7 162.6M205.9 124.9L203.0 129.6M188.3 120.1L186.8 119.9M200.0 131.6L200.9 134.7M190.2 123.8L189.5 125.1M153.1 118.4L153.1 121.0M157.7 123.6L160.0 124.9M149.5 236.8L143.8 237.8M151.4 94.1L152.2 95.3M190.1 77.8L190.2 84.9M182.1 200.6L180.5 198.1M191.3 175.4L190.7 176.7M139.3 157.4L141.6 158.7M178.4 148.2L178.4 150.9M187.9 102.3L184.4 103.5M134.7 100.2L137.0 97.7M139.7 217.9L141.4 215.6M185.5 186.2L184.3 185.8M142.1 220.5L139.7 217.9M168.7 197.3L167.7 198.1M139.3 100.2L137.0 97.7M205.5 141.1L202.4 144.4M189.5 125.1L189.9 126.2M215.4 179.0L210.6 177.4M143.9 186.0L143.9 188.6M152.2 206.4L151.0 206.8M171.5 141.8L173.8 140.5M143.9 126.2L146.2 127.5M148.1 203.6L148.4 201.7M219.0 221.3L214.0 227.0M146.2 137.9L148.5 139.2M194.4 142.0L194.5 143.2M166.9 157.4L169.2 158.7M194.5 205.3L191.6 201.6M158.8 208.9L158.6 207.7M190.4 246.2L187.0 240.6M158.5 55.5L164.8 57.5M149.7 206.0L149.2 204.9M188.3 142.3L187.0 143.9M132.4 169.1L132.4 171.7M149.9 89.5L149.8 90.7M153.3 205.9L153.9 204.6M184.4 103.5L180.5 103.6M148.5 157.4L148.5 160.0M165.4 198.3L164.2 199.2M132.4 208.7L132.4 207.4M134.7 121.0L137.0 119.7M202.7 150.8L202.7 154.1M157.4 205.3L156.8 204.5M153.1 134.0L153.1 136.6M154.4 95.2L153.3 95.8M199.9 189.8L196.9 186.6M197.4 168.9L195.8 166.9M202.4 144.4L199.6 144.8M225.4 147.7L225.4 154.0M137.0 137.9L137.0 140.5M155.4 119.7L157.7 121.0M178.4 163.9L178.4 166.5M186.4 134.0L186.9 135.7M137.0 192.5L139.3 191.2M194.2 123.6L195.1 125.9M157.7 126.2L157.7 128.8M160.0 143.1L162.3 144.4M162.3 173.0L164.6 174.2M143.9 141.8L146.2 143.1M166.9 173.0L169.2 174.2M141.6 161.2L143.9 160.0M186.0 138.0L183.9 137.0M162.3 128.8L162.3 131.4M165.7 194.7L164.1 195.9M169.2 127.5L171.5 128.8M178.3 82.1L177.4 87.2M173.2 97.1L171.1 98.2M178.0 119.9L176.1 120.3M189.0 183.5L188.1 185.1M132.4 224.6L135.6 221.1M168.1 96.1L166.0 96.7M136.5 214.5L135.9 213.3M166.9 136.6L166.9 139.2M140.9 94.9L142.3 96.7M188.5 168.8L187.6 168.2M132.4 93.0L132.4 94.3M190.2 147.9L188.9 149.1M153.2 209.9L152.1 210.3M170.6 99.7L170.7 101.3M154.5 96.2L153.9 97.1M235.2 129.5L229.8 134.4M132.4 189.9L132.4 192.5M191.1 156.5L190.0 156.7M219.2 184.3L216.8 190.0M187.0 240.6L188.3 232.3M179.9 187.3L179.3 186.6M187.0 126.3L185.8 125.8M178.6 177.5L177.4 179.5M153.1 113.2L155.4 114.5M167.7 103.6L166.6 104.2M137.0 153.5L137.0 156.1M191.0 138.6L189.9 137.7M134.7 196.4L137.0 197.7M188.6 144.0L188.7 145.7M171.5 162.6L171.5 165.2M139.3 105.3L141.6 104.0M191.8 127.5L190.8 128.4M185.2 124.7L185.8 125.8M157.7 131.4L160.0 132.7M160.0 158.7L162.3 160.0M135.1 214.6L133.8 214.6M141.6 122.2L141.6 124.9M139.3 165.2L141.6 166.5M151.9 99.3L153.7 100.1M141.6 176.9L143.9 175.6M183.1 189.5L182.3 188.7M201.1 104.9L197.4 107.8M176.1 154.8L178.4 153.5M143.9 193.8L143.9 196.4M155.6 202.4L155.5 200.8M178.1 115.4L179.0 116.6M241.7 173.6L235.2 172.2M171.5 149.6L173.8 148.2M206.1 152.8L205.9 156.7M161.7 200.7L160.2 200.1M148.5 160.0L148.5 162.6M132.4 145.7L134.7 147.0M182.7 216.4L181.3 211.6M150.8 109.2L153.1 110.6M170.1 188.6L168.4 190.2M173.4 108.5L173.3 109.9M174.8 103.2L175.8 104.1M192.0 144.9L191.1 145.2M165.8 200.5L164.6 200.2M171.5 178.2L171.5 180.8M161.7 200.7L160.5 201.4M188.1 131.7L188.5 132.9M153.1 141.8L153.1 144.4M137.0 114.5L139.3 115.8M181.3 211.6L176.4 210.1M139.3 180.8L141.6 182.1M178.4 171.7L178.4 174.2M137.3 218.2L134.8 218.3M219.9 145.1L214.9 145.4M177.7 195.7L177.7 194.1M162.3 141.8L164.6 143.1M159.1 203.4L158.0 204.0M193.0 135.1L193.3 136.3M185.8 220.4L182.7 216.4M166.0 205.0L164.9 204.4M171.5 165.2L173.8 163.9M143.9 149.6L146.2 150.9M178.4 140.5L180.7 139.2M179.1 121.6L177.4 122.2M166.9 180.8L169.2 182.1M195.0 152.6L194.9 153.8M185.9 169.3L184.9 167.5M148.5 108.0L150.8 109.2M153.8 230.7L156.0 225.1M150.8 124.9L153.1 126.2M187.0 143.9L185.3 143.9M207.9 87.1L212.0 92.2M190.2 149.4L189.0 150.8M132.4 192.5L132.4 195.1M142.4 208.9L141.2 208.0M148.5 147.0L150.8 148.2M199.8 154.5L197.5 156.2M153.9 204.6L152.5 205.1M195.8 134.8L194.6 136.7M143.7 93.0L144.0 94.2M134.7 144.4L137.0 143.1M196.7 179.3L195.4 182.2M136.8 93.2L137.5 94.5M229.8 167.3L224.1 166.3M173.7 102.3L173.4 103.6M153.1 157.4L153.1 160.0M195.4 161.0L195.1 162.4M137.0 161.2L137.0 163.9M188.9 149.1L189.0 150.8M139.3 113.2L141.6 111.8M160.0 127.5L162.3 128.8M144.8 243.1L149.5 236.8M157.7 149.6L157.7 152.2M153.7 100.1L155.5 100.9M146.7 74.2L151.4 75.3M164.6 161.2L166.9 162.6M183.0 145.7L185.3 143.9M151.9 213.2L151.2 211.8M193.6 173.8L193.0 175.4M155.6 220.9L154.7 217.5M158.7 91.0L158.8 92.8M181.7 178.6L180.1 178.4M239.9 181.0L233.5 179.2M150.0 203.0L148.1 203.6M165.9 105.3L164.1 105.8M208.7 119.2L204.2 120.5M168.6 194.3L167.3 193.5M179.2 196.4L178.0 197.7M173.8 166.5L176.1 167.8M186.6 170.9L185.9 169.3M150.9 97.4L150.0 98.7M184.9 93.3L182.4 96.6M132.4 148.2L134.7 149.6M166.9 160.0L166.9 162.6M161.3 94.0L162.5 94.6M179.6 108.0L178.5 108.5M190.3 135.4L189.6 136.5M164.9 193.2L163.0 194.5M193.5 169.0L193.1 170.3M153.1 136.6L155.4 137.9M135.6 91.1L136.2 92.0M137.0 176.9L137.0 179.5M137.0 117.1L139.3 118.4M188.3 159.4L188.0 161.0M157.7 115.8L160.0 117.1M173.8 119.7L173.8 122.2M173.2 89.4L172.1 92.8M178.8 101.9L180.5 103.6M174.4 67.8L176.2 74.9M193.6 173.8L192.3 172.9M171.3 206.0L169.6 204.6M195.1 139.3L193.8 138.6M189.3 135.3L189.6 136.5M157.7 154.8L160.0 156.1M139.5 88.7L140.6 88.8M162.3 144.4L164.6 145.7M141.6 145.7L141.6 148.2M158.0 204.0L156.8 204.5M180.5 195.1L178.7 194.7M139.7 217.9L137.8 216.0M237.6 188.2L234.8 195.3M139.3 188.6L141.6 189.9M141.6 200.3L143.9 199.0M139.3 100.2L141.7 98.3M166.9 128.8L169.2 127.5M215.0 150.8L210.3 148.5M171.5 134.0L173.8 132.7M203.0 129.6L204.1 133.3M167.3 108.2L166.7 110.0M182.1 182.5L181.5 181.4M188.9 154.3L187.4 153.8M185.0 126.7L185.6 128.0M171.5 173.0L173.8 171.7M172.3 192.8L171.2 192.0M164.9 204.4L163.9 205.0M192.9 65.1L193.6 73.3M172.5 194.1L172.3 192.8M148.5 183.4L148.5 186.0M188.1 116.6L186.2 116.6M198.0 135.2L196.2 136.6M150.4 208.0L151.0 206.8M150.8 132.7L153.1 134.0M190.7 121.3L189.6 122.6M152.8 200.1L150.6 201.0M202.1 141.1L202.4 144.4M149.7 206.0L148.3 206.5M196.9 140.1L195.4 140.7M155.4 145.7L157.7 147.0M224.6 186.4L219.2 184.3M153.1 165.2L153.1 167.8M190.2 216.8L185.8 220.4M146.4 89.8L147.6 90.1M195.1 162.4L194.0 162.0M132.4 221.2L132.4 218.3M172.5 202.4L172.7 200.3M141.6 101.4L143.9 102.8M143.2 86.4L144.9 86.7M162.9 83.7L163.7 87.9M208.3 194.7L204.0 192.2M162.3 115.8L162.3 118.4M151.8 222.0L151.6 218.5M180.7 139.2L183.0 140.5M194.8 145.6L194.9 146.7M166.9 165.2L169.2 166.5M155.1 210.5L155.4 209.1M162.3 154.8L162.3 157.4M177.0 62.7L182.8 65.8M143.9 173.0L146.2 174.2M178.4 163.9L180.7 162.6M145.5 207.2L144.3 206.2M146.7 214.6L147.3 212.9M191.5 178.7L190.7 180.4M152.5 98.0L151.9 99.3M179.0 183.0L176.8 183.4M141.4 215.6L140.6 214.1M148.5 131.4L150.8 132.7M168.1 96.1L168.3 98.1M142.6 93.9L140.9 94.9M189.8 158.2L188.6 157.7M135.8 94.4L136.4 95.9M162.5 94.6L163.7 95.3M189.6 165.2L188.8 163.9M134.7 113.2L134.7 115.8M194.6 103.9L190.4 105.3M141.2 208.0L139.7 208.2M202.7 154.1L199.9 152.1M224.1 166.3L222.9 172.4M184.1 179.2L183.7 177.6M192.0 182.5L190.7 180.4M153.1 139.2L155.4 140.5M203.4 219.5L199.3 215.5M137.0 145.7L137.0 148.2M137.0 200.3L139.3 199.0M175.2 203.1L175.3 200.1M193.0 175.4L191.8 174.2M186.5 195.8L183.8 194.5M192.3 172.9L191.8 174.2M137.0 184.7L137.0 187.3M178.4 143.1L178.4 145.7M153.6 89.0L155.3 89.6M182.4 96.6L179.8 98.9M160.0 150.9L162.3 152.2M165.9 69.9L159.0 72.6M164.6 145.7L166.9 147.0M184.9 93.3L188.3 96.6M143.9 180.8L143.9 183.4M160.8 198.0L159.1 199.0M164.6 184.7L166.9 186.0M190.8 92.4L188.3 96.6M146.2 132.7L148.5 134.0M186.1 188.1L185.1 189.6M183.8 107.2L181.7 107.9M184.9 167.5L183.3 166.9M146.2 117.1L146.2 119.7M176.1 147.0L178.4 145.7M188.0 166.8L186.4 167.7M166.9 144.4L166.9 147.0M202.8 237.4L198.7 232.3M205.5 141.1L205.9 145.0M196.7 130.5L194.2 129.6M147.3 88.8L147.6 90.1M158.0 97.7L157.9 98.9M180.7 182.7L179.0 183.0M179.8 98.9L177.0 100.2M189.0 118.2L186.9 117.8M198.6 137.5L196.5 138.3M179.3 115.1L178.1 115.4M180.0 185.6L179.0 185.1M202.4 144.4L202.7 147.6M192.3 152.5L191.3 151.5M159.3 204.3L159.1 203.4M170.6 106.0L170.1 107.0M136.2 92.0L137.4 92.1M191.6 141.7L190.6 141.4M137.0 101.4L139.3 102.8M171.5 170.4L171.5 173.0M188.3 69.4L179.8 70.8M190.5 165.2L189.9 164.0M189.0 180.4L188.3 181.6M193.1 131.4L192.0 131.7M137.0 140.5L139.3 141.8M157.7 139.2L160.0 140.5M192.0 119.2L193.1 121.4M214.0 106.1L211.0 112.1M157.8 216.4L158.5 213.1M157.7 121.0L157.7 123.6M202.2 116.1L204.2 120.5M205.9 156.7L202.4 157.3M149.8 90.7L151.0 91.1M162.3 167.8L164.6 169.1M137.3 83.5L136.0 85.6M177.7 195.7L176.0 195.7M196.8 242.0L190.4 246.2M144.5 84.5L144.9 86.7M148.4 87.5L150.2 88.0M198.3 208.6L194.5 205.3M176.1 162.6L178.4 161.2M180.7 119.0L181.5 120.3M171.5 157.4L173.8 156.1M202.8 64.3L192.9 65.1M148.5 167.8L148.5 170.4M146.2 101.4L146.2 99.3M137.5 94.5L138.4 96.1M189.1 139.2L189.3 140.6M193.6 73.3L198.7 77.6M153.4 206.9L152.2 206.4M190.0 145.0L188.7 145.7M155.4 209.1L154.3 209.5M166.9 113.2L168.4 111.5M231.3 115.7L226.8 121.6M132.4 184.7L132.4 187.3M191.3 154.0L190.2 153.8M148.5 139.2L150.8 140.5M202.4 157.3L199.8 154.5M222.9 172.4L221.3 178.4M141.0 210.1L139.9 209.3M150.8 156.1L153.1 157.4M134.7 136.6L137.0 135.2M169.3 103.7L168.7 104.4M155.4 130.1L157.7 131.4M153.1 149.6L153.1 152.2M197.4 132.8L198.0 135.2M225.0 141.5L219.9 145.1M169.3 219.5L166.4 216.3M169.2 114.5L168.4 111.5M188.3 232.3L185.1 227.6M143.8 237.8L138.1 238.3M160.0 153.5L162.3 154.8M141.6 117.1L141.6 119.7M155.1 260.1L147.6 261.4M148.1 98.1L150.0 98.7M141.6 171.7L143.9 170.4M158.7 91.0L160.3 91.7M176.1 123.6L177.4 122.2M184.7 187.3L183.7 186.8M162.3 139.2L162.3 141.8M194.5 96.4L191.6 100.1M182.0 126.8L180.7 128.3M194.6 103.9L197.4 107.8M143.9 188.6L143.9 191.2M158.7 200.9L159.1 199.0M187.5 149.9L185.7 150.8M146.2 140.5L148.5 141.8M148.5 154.8L150.8 156.1M132.4 140.5L134.7 141.8M155.2 97.7L155.6 99.3M166.9 152.2L166.9 154.8M173.3 185.1L171.7 186.9M183.7 249.9L180.7 244.1M134.7 152.2L137.0 150.9M171.6 106.8L171.2 107.9M172.7 101.4L173.7 102.3M185.8 175.9L184.3 176.3M167.6 199.3L166.6 198.8M171.5 173.0L171.5 175.6M132.4 179.5L134.7 180.8M143.1 91.9L142.4 92.8M152.1 247.7L150.9 242.0M137.0 169.1L137.0 171.7M157.7 141.8L160.0 143.1M155.4 95.6L154.5 96.2M148.5 69.8L153.8 71.0M186.9 183.9L186.2 185.1M139.3 175.6L141.6 176.9M178.4 166.5L178.4 169.1M149.5 64.9L153.8 71.0M179.6 193.7L179.3 192.3M161.3 202.2L160.2 202.8M164.6 169.1L166.9 170.4M207.4 129.5L208.5 134.2M204.1 168.4L200.9 167.0M146.2 101.4L146.2 104.0M143.7 208.7L142.4 208.9M143.9 144.4L146.2 145.7M144.2 204.6L142.3 205.0M178.4 135.2L180.7 134.0M134.4 205.9L132.4 204.2M213.4 134.7L208.5 134.2M176.9 253.2L169.8 256.0M146.2 156.1L148.5 157.4M182.9 109.3L182.3 111.1M176.1 170.4L178.4 169.1M164.2 199.2L164.5 197.4M182.5 124.6L181.1 125.0M158.8 92.8L157.6 93.5M148.5 175.6L148.5 178.2M156.6 203.4L155.2 204.0M153.1 196.4L152.8 200.1M199.1 173.2L198.0 176.3M159.1 197.0L157.0 198.2M171.0 59.9L174.4 67.8M171.6 100.6L171.6 102.1M153.1 152.2L153.1 154.8M161.2 98.4L161.3 99.5M137.0 124.9L139.3 126.2M165.0 221.6L162.9 218.0M182.3 190.6L181.4 191.7M155.4 137.9L157.7 139.2M180.7 139.2L180.7 141.8M188.7 145.7L188.9 147.4M157.7 162.6L160.0 163.9M199.0 139.9L199.3 142.3M225.0 160.2L219.3 162.3M162.3 152.2L164.6 153.5M176.7 198.9L175.8 197.6M157.7 144.4L157.7 147.0M132.4 218.3L132.4 216.2M139.3 196.4L141.6 197.7M172.5 202.4L170.6 202.0M159.7 94.5L160.8 95.0M143.9 160.0L146.2 161.2M178.4 150.9L180.7 149.6M155.3 212.1L153.8 210.9M187.5 151.8L185.7 153.2M186.6 130.8L187.1 132.1M162.3 147.0L162.3 149.6M169.2 145.7L171.5 147.0M171.2 192.0L170.3 190.8M184.3 132.3L183.3 134.8" stroke="#000" stroke-width="0.42" fill="none"/>
<path d="M132.4 39.25 A111.6 111.6 0 0 1 132.4 262.45" stroke="#222" stroke-width="0.9" fill="none"/>
<path d="M132.4 89.15 A59.8 61.7 0 0 1 132.4 212.55" stroke="#2d5192" stroke-width="1.4" fill="none"/>
<line x1="132.5" y1="28.5" x2="132.5" y2="273" stroke="#b43838" stroke-width="0.75" stroke-dasharray="4 1.2"/>
<text x="132.7" y="271.9" font-size="8.2" fill="#d83030" letter-spacing="1.1">r=0</text>

<!-- boxes -->
<g fill="#fff" stroke="#1a1a1a" stroke-width="1.3">
<rect x="50.1" y="50.2" width="69.8" height="66.6"/>
<rect x="229.2" y="45.5" width="58.3" height="32.2"/>
<rect x="49.2" y="144.7" width="81.8" height="46"/>
<rect x="239.5" y="224.3" width="41.3" height="20.4"/>
</g>
<g class="bx">
<text x="55.2" y="63.7">Out-of-plane</text>
<text x="55.2" y="76.1">line current</text>
<text x="234.4" y="59.3">Insulating</text>
<text x="234.4" y="71.8">mantle</text>
<text x="54" y="158.2">Conductive</text>
<text x="54" y="171.4">core</text>
<text x="244.4" y="238.8" font-size="11.6">CMB</text>
</g>
<!-- math line 1 -->
<g class="mr">
<text x="55" y="94.6" font-size="11.5">(</text>
<text x="60.2" y="110.6" font-size="11.5">)</text>
</g>
<g class="m">
<text x="57.9" y="94.1" font-size="11.2">I</text>
<text x="82.9" y="88.4" font-size="9">dI</text>
<text x="83.2" y="99.4" font-size="9">dt</text>
<text x="55.4" y="110.9" font-size="11.5">t</text>
</g>
<g stroke="#333" fill="none">
<path d="M66.7 89.5H73.9M66.7 92.2H73.9" stroke-width="0.95"/>
<path d="M81.3 81.9 C77.4 85.5 77.4 96.6 81.3 100.2" stroke-width="1.2"/>
<path d="M93.5 81.9 C97.4 85.5 97.4 96.6 93.5 100.2" stroke-width="1.2"/>
<path d="M83.3 91.4H91.3" stroke-width="0.9"/>
<path d="M103.3 89.4V93M101.75 90.3L104.85 92.1M101.75 92.1L104.85 90.3" stroke-width="0.9"/>
</g>
<!-- math conductive -->
<g class="mr">
<text x="76.4" y="172.4" font-size="11.5">(</text>
<text x="101.8" y="171.6" font-size="11">5</text>
<text x="54.2" y="185.7" font-size="11.5">10</text>
<text x="66.5" y="181.6" font-size="8.3">5</text>
<text x="74.5" y="185.5" font-size="11.5">[</text>
<text x="100.2" y="185.5" font-size="11.5">])</text>
</g>
<g class="m">
<text x="80.4" y="171.5" font-size="12">σ</text>
<text x="78" y="184.7" font-size="10.5">S</text>
<text x="84.7" y="185.3" font-size="11">/</text>
<text x="89.8" y="184.7" font-size="10.8">m</text>
</g>
<g stroke="#333" fill="none">
<path d="M90.9 168.3H97.9M90.9 170.4H97.9" stroke-width="0.95"/>
<path d="M112.9 167.5V171M111.4 168.4L114.4 170.1M111.4 170.1L114.4 168.4" stroke-width="0.9"/>
</g>

<!-- orange annotations -->
<g stroke="#cf5a27" fill="none">
<path d="M111.8 104.8 C112.5 112 116 116.2 122 116.6 C131 117.4 138 116 145.5 110.8" stroke-width="1.5"/>
<path d="M146.4 101.6 l6.8 6.8 M153.2 101.6 l-6.8 6.8" stroke-width="1.7" stroke="#e05025"/>
<path d="M231.6 74.8 L211.6 89.8" stroke-width="5.8"/>
<path d="M127.4 171.2 L146.8 156.4" stroke-width="6"/>
<path d="M238.7 229.6 L177 197.6" stroke-width="1.1"/>
</g>
<g fill="#cf5a27">
<path d="M148.8 108.6 L140.5 111.6 L145.4 116.2 Z"/>
<path d="M207 94.6 L207.2 85.2 L216.2 94.3 Z"/>
<path d="M152.4 151.6 L142.7 151.2 L150.8 161.7 Z"/>
<path d="M173.3 195.7 L181.1 196 L178 201.8 Z"/>
</g>
<text x="121.6" y="124" font-size="7" fill="#222">I</text>

<!-- panel b -->
<text x="346.5" y="18" font-size="16" font-weight="bold">b)</text>
<defs>
<linearGradient id="cbar" x1="0" y1="0" x2="0" y2="1">
 <stop offset="0" stop-color="#700000"/>
 <stop offset="0.08" stop-color="#c00000"/>
 <stop offset="0.13" stop-color="#ee0000"/>
 <stop offset="0.18" stop-color="#ff3000"/>
 <stop offset="0.23" stop-color="#ff7000"/>
 <stop offset="0.28" stop-color="#ffb000"/>
 <stop offset="0.335" stop-color="#ffe000"/>
 <stop offset="0.38" stop-color="#ffff00"/>
 <stop offset="0.43" stop-color="#c0f040"/>
 <stop offset="0.49" stop-color="#88f068"/>
 <stop offset="0.555" stop-color="#40f0b0"/>
 <stop offset="0.605" stop-color="#00f0e0"/>
 <stop offset="0.645" stop-color="#00e0ff"/>
 <stop offset="0.705" stop-color="#00a0ff"/>
 <stop offset="0.75" stop-color="#0070ff"/>
 <stop offset="0.80" stop-color="#0020ff"/>
 <stop offset="0.88" stop-color="#0000f0"/>
 <stop offset="0.955" stop-color="#0000b0"/>
 <stop offset="1" stop-color="#000070"/>
</linearGradient>
<clipPath id="sph"><path d="M563.9 148 A81.6 77.8 0 1 0 400.8 148 C400.9 150.0 401.3 156.0 401.6 160.0 C401.9 164.0 402.0 168.1 402.8 172.1 C403.6 176.1 404.9 180.2 406.5 184.2 C408.1 188.2 409.9 192.5 412.5 196.3 C415.1 200.1 418.6 204.2 422.2 207.2 C425.8 210.2 430.3 212.5 434.3 214.4 C438.3 216.3 442.0 217.6 446.4 218.8 C450.8 220.0 455.0 220.8 460.9 221.7 C466.8 222.6 474.5 223.9 482.0 224.3 C489.5 224.8 499.4 224.7 505.7 224.4 C511.9 224.1 515.4 223.7 519.5 222.4 C523.6 221.1 527.4 218.8 530.6 216.5 C533.8 214.2 536.6 210.9 538.6 208.4 C540.6 205.9 541.1 203.8 542.6 201.6 C544.1 199.4 545.4 198.3 547.6 195.2 C549.8 192.1 553.5 187.2 555.7 183.2 C557.9 179.2 559.3 175.9 560.6 171.1 C561.9 166.3 563.2 158.0 563.7 154.2 C564.2 150.3 563.9 149.0 563.9 148.0 Z"/></clipPath>
<linearGradient id="faceV" gradientUnits="userSpaceOnUse" x1="0" y1="68" x2="0" y2="224">
 <stop offset="0" stop-color="#d0ec28"/>
 <stop offset="0.1" stop-color="#ecf008"/>
 <stop offset="0.45" stop-color="#f2f004"/>
 <stop offset="0.6" stop-color="#e0f020"/>
 <stop offset="0.72" stop-color="#b4f048"/>
 <stop offset="0.82" stop-color="#80f080"/>
 <stop offset="0.91" stop-color="#48ecc8"/>
 <stop offset="1" stop-color="#20d8f0"/>
</linearGradient>
<linearGradient id="leftG" gradientUnits="userSpaceOnUse" x1="400" y1="0" x2="462" y2="0">
 <stop offset="0" stop-color="#98e850" stop-opacity="0.8"/>
 <stop offset="0.5" stop-color="#b0ec40" stop-opacity="0.45"/>
 <stop offset="1" stop-color="#c0f040" stop-opacity="0"/>
</linearGradient>
<radialGradient id="hotLow" gradientUnits="userSpaceOnUse" cx="481" cy="126" r="60" gradientTransform="translate(481 126) scale(0.56 1) translate(-481 -126)">
 <stop offset="0" stop-color="#ff1800"/>
 <stop offset="0.2" stop-color="#ff3000"/>
 <stop offset="0.42" stop-color="#ff6800"/>
 <stop offset="0.62" stop-color="#ffa000"/>
 <stop offset="0.82" stop-color="#ffd800"/>
 <stop offset="1" stop-color="#ffffff"/>
</radialGradient>
<radialGradient id="hotUp" gradientUnits="userSpaceOnUse" cx="481" cy="102" r="26" gradientTransform="translate(481 102) scale(1.45 0.78) translate(-481 -102)">
 <stop offset="0" stop-color="#ff3000"/>
 <stop offset="0.35" stop-color="#ff6000"/>
 <stop offset="0.65" stop-color="#ffa000"/>
 <stop offset="0.88" stop-color="#ffd400"/>
 <stop offset="1" stop-color="#ffffff"/>
</radialGradient>
<radialGradient id="yglow" gradientUnits="userSpaceOnUse" cx="481" cy="128" r="60" gradientTransform="translate(481 128) scale(0.85 1.1) translate(-481 -128)">
 <stop offset="0" stop-color="#ffff00"/>
 <stop offset="0.7" stop-color="#fff800"/>
 <stop offset="1" stop-color="#f4f000" stop-opacity="0"/>
</radialGradient>
<radialGradient id="core" gradientUnits="userSpaceOnUse" cx="481" cy="111" r="10">
 <stop offset="0" stop-color="#800000"/>
 <stop offset="0.35" stop-color="#b00000"/>
 <stop offset="0.7" stop-color="#e80800" stop-opacity="0.7"/>
 <stop offset="1" stop-color="#ff2000" stop-opacity="0"/>
</radialGradient>
<radialGradient id="botBlue" gradientUnits="userSpaceOnUse" cx="482" cy="224" r="12" gradientTransform="translate(482 224) scale(1.5 0.8) translate(-482 -224)">
 <stop offset="0" stop-color="#0000c8"/>
 <stop offset="0.25" stop-color="#0018ff"/>
 <stop offset="0.5" stop-color="#0070ff"/>
 <stop offset="0.75" stop-color="#00c0ff" stop-opacity="0.6"/>
 <stop offset="1" stop-color="#00e0f0" stop-opacity="0"/>
</radialGradient>
<radialGradient id="topBlue" gradientUnits="userSpaceOnUse" cx="481" cy="72.8" r="6" gradientTransform="translate(481 72.8) scale(1.8 0.8) translate(-481 -72.8)">
 <stop offset="0" stop-color="#0010e0"/>
 <stop offset="0.3" stop-color="#0060ff"/>
 <stop offset="0.65" stop-color="#30d0e0"/>
 <stop offset="1" stop-color="#90e860" stop-opacity="0"/>
</radialGradient>
<linearGradient id="rimG" gradientUnits="userSpaceOnUse" x1="400" y1="150" x2="480" y2="70">
 <stop offset="0" stop-color="#88b020"/>
 <stop offset="0.5" stop-color="#a8b020"/>
 <stop offset="1" stop-color="#b8c020"/>
</linearGradient>
<linearGradient id="cresG" gradientUnits="userSpaceOnUse" x1="490" y1="66" x2="545" y2="205">
 <stop offset="0" stop-color="#c4d828"/>
 <stop offset="0.3" stop-color="#a8c028"/>
 <stop offset="0.6" stop-color="#8eb430"/>
 <stop offset="1" stop-color="#6ea038"/>
</linearGradient>
</defs>

<!-- grid lines -->
<g stroke="#c4c4c4" stroke-width="0.7" fill="none">
<path d="M372.4 88.8L457.7 51.2"/>
<path d="M467.1 50.2L598.9 79.3"/>
<path d="M376.1 149L412 134"/>
<path d="M379.4 207L410.5 190.4"/>
<path d="M409.7 56.4L414.7 203.3"/>
<path d="M447.7 45.4L448 90"/>
<path d="M480.5 45.7L480.5 68"/>
<path d="M530.7 49.5L531 85"/>
<path d="M584.3 59.2L582 210"/>
<path d="M562.5 130L597.9 138.3"/>
<path d="M556 184.4L597.9 195.8"/>
<path d="M399.1 234.5L434.4 214.3"/>
<path d="M449.4 250.3L489.1 225.9"/>
<path d="M502.4 267.1L580.3 215.6"/>
<path d="M420.9 210.8L549.4 249.4"/>
<path d="M535.6 211.2L584.7 224.4"/>
</g>

<!-- sphere -->
<g clip-path="url(#sph)">
<rect x="398" y="64" width="170" height="164" fill="url(#faceV)"/>
<rect x="398" y="64" width="64" height="164" fill="url(#leftG)"/>
<ellipse cx="481" cy="128" rx="52" ry="66" fill="url(#yglow)"/>
<ellipse cx="481" cy="126" rx="40" ry="62" fill="url(#hotLow)" style="mix-blend-mode:darken"/>
<ellipse cx="481" cy="102" rx="40" ry="22" fill="url(#hotUp)" style="mix-blend-mode:darken"/>
<circle cx="481" cy="111" r="10" fill="url(#core)"/>
<ellipse cx="482" cy="224" rx="18" ry="10" fill="url(#botBlue)"/>
<ellipse cx="481" cy="72.8" rx="12" ry="6" fill="url(#topBlue)"/>
<!-- right crescent -->
<path d="M481 60 L481.0 67.0 C481.8 67.9 482.1 70.0 486.0 72.5 C489.9 75.0 498.5 77.8 504.3 81.7 C510.1 85.6 515.2 90.3 521.0 96.0 C526.8 101.7 534.9 110.5 539.0 116.0 C543.1 121.5 544.0 125.0 545.5 129.0 C547.0 133.0 547.1 135.7 547.8 140.0 C548.5 144.3 549.2 150.0 549.5 155.0 C549.8 160.0 549.8 165.7 549.6 170.0 C549.4 174.3 549.1 177.6 548.5 181.0 C547.9 184.4 546.9 187.4 546.0 190.5 C545.1 193.6 543.9 197.5 543.2 199.5 C542.5 201.5 542.2 202.0 542.0 202.5 L560 206 L600 200 L600 60 Z" fill="url(#cresG)"/>
<!-- left rim -->
<path d="M396 60 L484 60 L484 72 C440 72 407 103 405 135 C404 145 402.5 152 401.5 158 L396 158 Z" fill="url(#rimG)"/>
</g>
<path d="M401.5 158 C402.5 152 404 145 405 135 C407 103 440 72 484 72" stroke="#606a20" stroke-width="0.6" fill="none" opacity="0.8"/>
<path d="M563.9 148 A81.6 77.8 0 1 0 400.8 148 C400.9 150.0 401.3 156.0 401.6 160.0 C401.9 164.0 402.0 168.1 402.8 172.1 C403.6 176.1 404.9 180.2 406.5 184.2 C408.1 188.2 409.9 192.5 412.5 196.3 C415.1 200.1 418.6 204.2 422.2 207.2 C425.8 210.2 430.3 212.5 434.3 214.4 C438.3 216.3 442.0 217.6 446.4 218.8 C450.8 220.0 455.0 220.8 460.9 221.7 C466.8 222.6 474.5 223.9 482.0 224.3 C489.5 224.8 499.4 224.7 505.7 224.4 C511.9 224.1 515.4 223.7 519.5 222.4 C523.6 221.1 527.4 218.8 530.6 216.5 C533.8 214.2 536.6 210.9 538.6 208.4 C540.6 205.9 541.1 203.8 542.6 201.6 C544.1 199.4 545.4 198.3 547.6 195.2 C549.8 192.1 553.5 187.2 555.7 183.2 C557.9 179.2 559.3 175.9 560.6 171.1 C561.9 166.3 563.2 158.0 563.7 154.2 C564.2 150.3 563.9 149.0 563.9 148.0 Z" fill="none" stroke="#506018" stroke-width="0.5" opacity="0.6"/>

<!-- contours -->
<g clip-path="url(#sph)"><g stroke="#1e2c70" stroke-width="0.55" fill="none" opacity="0.9">
<line x1="481" y1="68" x2="481" y2="223"/>
<path d="M481.0 67.0 C481.8 67.9 482.1 70.0 486.0 72.5 C489.9 75.0 498.5 77.8 504.3 81.7 C510.1 85.6 515.2 90.3 521.0 96.0 C526.8 101.7 534.9 110.5 539.0 116.0 C543.1 121.5 544.0 125.0 545.5 129.0 C547.0 133.0 547.1 135.7 547.8 140.0 C548.5 144.3 549.2 150.0 549.5 155.0 C549.8 160.0 549.8 165.7 549.6 170.0 C549.4 174.3 549.1 177.6 548.5 181.0 C547.9 184.4 546.9 187.4 546.0 190.5 C545.1 193.6 543.9 197.5 543.2 199.5 C542.5 201.5 542.2 202.0 542.0 202.5"/>
<!-- lower lobe eggs -->
<path d="M477 113.5 C475.5 119 477 130.2 481.5 130.2 C486 130.2 487.5 120 486 114"/>
<path d="M472 115 C465 122 465 144 481 144 C497 144 498 124 491 116.5"/>
<path d="M465.5 117.5 C455 128 456 159.3 481 159.3 C506 159.3 508 132 498 120"/>
<path d="M458.5 119.5 C446 134 446 174.6 481 174.6 C515 174.6 516 138 505 124.5"/>
<path d="M452 121.6 C437 138 436 189.8 481 189.8 C522 189.8 524 145 508 128"/>
<!-- upper petals -->
<path d="M481 84 C470 84 446 88 442.5 100 C440 108 452 111 466 111.5 C472 111.7 476 111.5 478 111.5"/>
<path d="M481 90 C472 90 460 92 459 99 C458.5 104 466 106 472 108 C475 109 478 110 480 111"/>
<path d="M481 96 C475 96 469 98 469 102 C469 105 474 107 478 109.5"/>
<path d="M481 101 C478 101 475 103 476 106 C477 108 479 109 481 111"/>
<path d="M481 84 C495 84 508 92 512 102 C515 110 510 117 503 118.5"/>
<path d="M481 89.5 C493 90 503 97 505 104 C507 110 503 112 498 114"/>
<path d="M481 95 C489 95 496 99 497.5 104.5 C499 109 495 111 492 111.5"/>
<path d="M481 100 C486 100 490 103 490.5 106 C491 108.5 488 110 486 110.5"/>
<path d="M406 140 C425 160 448 180 471 187"/>
<path d="M551 136 C535 160 515 178 493 188"/>
<path d="M401 187 C430 192 460 198 481 200 C505 199 530 198 548 197"/>
<path d="M436 216 C452 211 468 209 481 209 C495 209.5 508 215 517 223"/>
<path d="M464 225 C469 219 475 216.5 481 216.5 C488 216.5 495 219 499 225"/>
<path d="M473 226 C476 222 479 221 481 221 C484 221 487 222 490 226"/>
<ellipse cx="481" cy="74" rx="16" ry="4.8"/>
<ellipse cx="481" cy="73.5" rx="9" ry="3"/>
<path d="M494 70.5 C512 77 530 88 542 100 C550 108 556 116 559.2 122.5 C561 126 561 128 560.4 129 C558 134 553 138 549.5 141.5"/>
<path d="M556 176 C553 180 550 184 548 186"/>
</g></g>
<!-- blue wings -->
<g stroke="#30e0c0" stroke-width="2.4" fill="none" opacity="0.75">
<path d="M446 123 C455 118 465 113 476.3 111.5"/>
<path d="M484.2 111.5 C494 114 504 121 511 129"/>
</g>
<g fill="#5a86e0" stroke="#0a14e6" stroke-width="1.9">
<path d="M452 121.6 C456 117 464 112.8 470.3 111.1 C473 110.5 475.5 110.8 476.6 111.6 C476 113 474 114 471 115 C465 117 458 120 452 121.6 Z"/>
<path d="M484.4 111.2 C487 110.5 490 111 492.5 112.5 C498 115.5 503 121 507 128 C501 126 496 122.5 492 119 C488.5 116 486 114 484.4 111.2 Z"/>
</g>
<!-- axis labels -->
<g font-size="8.4" fill="#111" stroke="#111" stroke-width="0.15">
<text x="364.2" y="93">5</text>
<text x="366.6" y="152.5">0</text>
<text x="366.5" y="210.3">-5</text>
<text x="337.6" y="154.2">10</text><text x="346.3" y="150" font-size="5.8">6</text><text x="352.8" y="154.2">m</text>
<text x="394" y="244.8">5</text>
<text x="443.9" y="260.4">0</text>
<text x="421.5" y="273.6">×10</text><text x="435.6" y="269.4" font-size="5.8">6</text><text x="442.3" y="273.6">m</text>
<text x="498.6" y="276.5">5</text>
<text x="551.6" y="258.4">0</text>
<text x="559.5" y="264">×10</text><text x="573.6" y="259.8" font-size="5.8">6</text><text x="580.3" y="264">m</text>
<text x="585.9" y="235">5</text>
</g>
<!-- triad -->
<g stroke-width="1.1" fill="none">
<path d="M359 252V244" stroke="#3060d0"/>
<path d="M359 252L352 253.5" stroke="#30a040"/>
<path d="M359 252L365.5 252.5" stroke="#d03060"/>
</g>
<path d="M357.3 245l1.7 -3 1.7 3z" fill="#3060d0"/>
<g font-size="7.5" fill="#111" stroke="#111" stroke-width="0.15">
<text x="356.8" y="241.8">z</text>
<text x="344.4" y="253.3">y</text>
<text x="366" y="252.3">x</text>
</g>

<!-- colorbar -->
<rect x="649.2" y="59" width="6.9" height="200.2" fill="url(#cbar)"/>
<g stroke="#222" stroke-width="0.6">
<path d="M649.2 63h1.3M654.8 63h1.3M649.2 94.5h1.3M654.8 94.5h1.3M649.2 126h1.3M654.8 126h1.3M649.2 157.3h1.3M654.8 157.3h1.3M649.2 188.6h1.3M654.8 188.6h1.3M649.2 220h1.3M654.8 220h1.3M649.2 251.4h1.3M654.8 251.4h1.3"/>
</g>
<g font-size="7.6" fill="#111" stroke="#111" stroke-width="0.2">
<text x="658.3" y="65.6">-4</text>
<text x="658.3" y="97.1">-6</text>
<text x="658.3" y="128.6">-8</text>
<text x="658.3" y="159.9">-10</text>
<text x="658.3" y="191.2">-12</text>
<text x="658.3" y="222.6">-14</text>
<text x="658.3" y="254">-16</text>
</g>
<!-- title -->
<g fill="#222">
<text x="610.8" y="41" font-size="12.8" class="mr">log(</text>
<text x="630.6" y="41" font-size="13.6" class="m">B</text>
<text x="640.6" y="43.6" font-size="10.4" class="m" letter-spacing="0.35">ind</text>
<text x="659.6" y="41" font-size="12.8" class="mr">[</text>
<text x="662.4" y="41" font-size="13.2" class="m">T</text>
<text x="672.6" y="41" font-size="12.8" class="mr">])</text>
</g>

<!-- borders -->
<rect x="0" y="0" width="685" height="1.3" fill="#000"/>
<rect x="0" y="0" width="1.2" height="289" fill="#000"/>
<rect x="0" y="287.6" width="685" height="1.4" fill="#000"/>
<rect x="683.8" y="0" width="1.2" height="289" fill="#222"/>
<rect x="335.1" y="0" width="1.6" height="289" fill="#000"/>
</svg>
</body></html>
